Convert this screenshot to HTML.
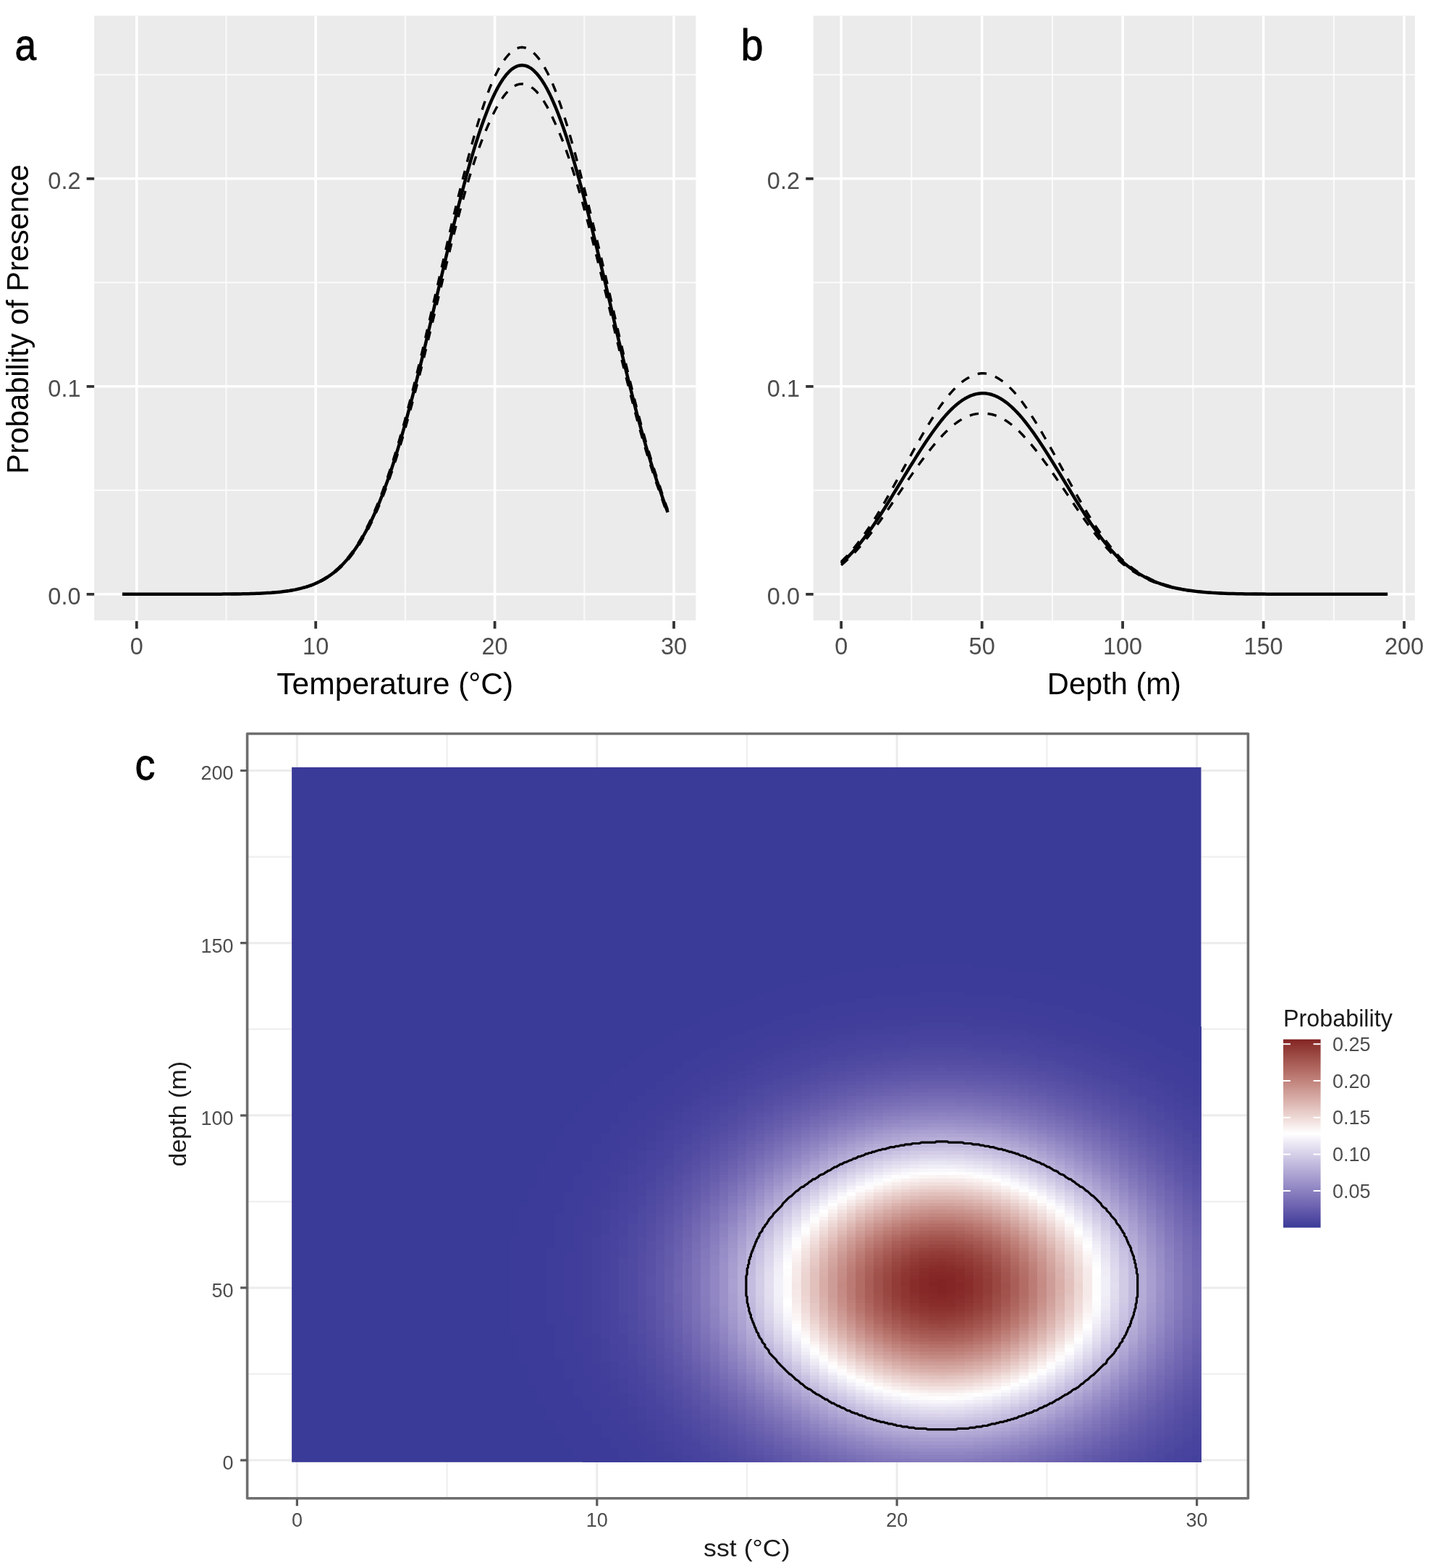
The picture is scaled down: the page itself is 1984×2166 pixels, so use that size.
<!DOCTYPE html>
<html lang="en"><head><meta charset="utf-8"><title>Figure</title>
<style>html,body{margin:0;padding:0;background:#fff}svg{display:block}</style></head>
<body>
<svg width="1984" height="2166" viewBox="0 0 1984 2166" role="img" aria-label="Probability of presence versus temperature and depth">
<rect width="1984" height="2166" fill="#fff"/>
<rect x="130.2" y="21.7" width="831.2" height="835.3" fill="#ebebeb"/>
<path d="M312.5 21.7V857.0M559.9 21.7V857.0M807.3 21.7V857.0M130.2 677.3H961.4M130.2 390.3H961.4M130.2 103.3H961.4" stroke="#fff" stroke-opacity=".8" stroke-width="1.9" fill="none"/>
<path d="M188.8 21.7V857.0M436.2 21.7V857.0M683.6 21.7V857.0M931 21.7V857.0M130.2 820.8H961.4M130.2 533.8H961.4M130.2 246.8H961.4" stroke="#fff" stroke-width="3.5" fill="none"/>
<path d="M188.8 858.0v10.5M436.2 858.0v10.5M683.6 858.0v10.5M931 858.0v10.5M130.2 820.8h-10.5M130.2 533.8h-10.5M130.2 246.8h-10.5" stroke="#333" stroke-width="3.8" fill="none"/>
<g font-family='"Liberation Sans", sans-serif' font-size="32.5" fill="#4d4d4d">
<text x="188.8" y="903.5" text-anchor="middle">0</text>
<text x="436.2" y="903.5" text-anchor="middle">10</text>
<text x="683.6" y="903.5" text-anchor="middle">20</text>
<text x="931" y="903.5" text-anchor="middle">30</text>
<text x="111.5" y="834.9" text-anchor="end">0.0</text>
<text x="111.5" y="547.9" text-anchor="end">0.1</text>
<text x="111.5" y="260.9" text-anchor="end">0.2</text>
</g>
<polyline points="169.0,820.8 172.8,820.8 176.6,820.8 180.4,820.8 184.2,820.8 187.9,820.8 191.7,820.8 195.5,820.8 199.3,820.8 203.1,820.8 206.9,820.8 210.7,820.8 214.5,820.8 218.2,820.8 222.0,820.8 225.8,820.8 229.6,820.8 233.4,820.8 237.2,820.8 241.0,820.8 244.7,820.8 248.5,820.8 252.3,820.8 256.1,820.8 259.9,820.8 263.7,820.8 267.5,820.8 271.3,820.8 275.0,820.8 278.8,820.8 282.6,820.7 286.4,820.7 290.2,820.7 294.0,820.7 297.8,820.7 301.5,820.7 305.3,820.7 309.1,820.6 312.9,820.6 316.7,820.6 320.5,820.5 324.3,820.5 328.1,820.4 331.8,820.4 335.6,820.3 339.4,820.2 343.2,820.2 347.0,820.1 350.8,819.9 354.6,819.8 358.3,819.6 362.1,819.5 365.9,819.3 369.7,819.1 373.5,818.8 377.3,818.5 381.1,818.2 384.9,817.8 388.6,817.4 392.4,816.9 396.2,816.4 400.0,815.8 403.8,815.2 407.6,814.4 411.4,813.6 415.2,812.7 418.9,811.7 422.7,810.5 426.5,809.3 430.3,807.9 434.1,806.4 437.9,804.7 441.7,802.8 445.4,800.8 449.2,798.5 453.0,796.1 456.8,793.4 460.6,790.5 464.4,787.3 468.2,783.9 472.0,780.1 475.7,776.1 479.5,771.7 483.3,767.0 487.1,761.9 490.9,756.4 494.7,750.6 498.5,744.3 502.2,737.6 506.0,730.5 509.8,723.0 513.6,714.9 517.4,706.5 521.2,697.5 525.0,688.1 528.8,678.1 532.5,667.7 536.3,656.8 540.1,645.4 543.9,633.6 547.7,621.3 551.5,608.5 555.3,595.2 559.1,581.6 562.8,567.5 566.6,553.1 570.4,538.3 574.2,523.2 578.0,507.7 581.8,492.0 585.6,476.1 589.3,460.0 593.1,443.7 596.9,427.3 600.7,410.8 604.5,394.3 608.3,377.8 612.1,361.3 615.9,345.0 619.6,328.7 623.4,312.6 627.2,296.6 631.0,280.8 634.8,265.4 638.6,250.2 642.4,235.5 646.1,220.9 649.9,206.7 653.7,193.0 657.5,179.8 661.3,167.1 665.1,154.9 668.9,143.3 672.7,132.3 676.4,122.1 680.2,113.1 684.0,104.9 687.8,97.4 691.6,90.7 695.4,84.7 699.2,79.5 703.0,75.1 706.7,71.5 710.5,68.8 714.3,66.8 718.1,65.6 721.9,65.3 725.7,66.0 729.5,67.4 733.2,69.7 737.0,72.7 740.8,76.6 744.6,81.2 748.4,86.6 752.2,92.8 756.0,99.7 759.8,107.3 763.5,115.7 767.3,125.0 771.1,135.4 774.9,146.4 778.7,158.0 782.5,170.1 786.3,182.8 790.0,195.9 793.8,209.4 797.6,223.5 801.4,237.7 805.2,252.2 809.0,267.1 812.8,282.2 816.6,297.6 820.3,313.3 824.1,328.9 827.9,344.7 831.7,360.6 835.5,376.6 839.3,393.0 843.1,409.6 846.9,426.2 850.6,442.7 854.4,459.1 858.2,475.4 862.0,491.4 865.8,507.3 869.6,522.9 873.4,538.4 877.1,553.5 880.9,568.2 884.7,582.6 888.5,596.5 892.3,610.1 896.1,623.1 899.9,635.7 903.7,647.9 907.4,659.5 911.2,670.6 915.0,682.4 918.8,693.8 922.6,704.5" fill="none" stroke="#000" stroke-width="3.4" stroke-linejoin="round" stroke-dasharray="12.5 12.5"/>
<polyline points="169.0,820.8 172.8,820.8 176.6,820.8 180.4,820.8 184.2,820.8 187.9,820.8 191.7,820.8 195.5,820.8 199.3,820.8 203.1,820.8 206.9,820.8 210.7,820.8 214.5,820.8 218.2,820.8 222.0,820.8 225.8,820.8 229.6,820.8 233.4,820.8 237.2,820.8 241.0,820.8 244.7,820.8 248.5,820.8 252.3,820.8 256.1,820.8 259.9,820.8 263.7,820.8 267.5,820.8 271.3,820.8 275.0,820.8 278.8,820.8 282.6,820.8 286.4,820.7 290.2,820.7 294.0,820.7 297.8,820.7 301.5,820.7 305.3,820.7 309.1,820.6 312.9,820.6 316.7,820.6 320.5,820.6 324.3,820.5 328.1,820.5 331.8,820.4 335.6,820.3 339.4,820.3 343.2,820.2 347.0,820.1 350.8,820.0 354.6,819.9 358.3,819.7 362.1,819.6 365.9,819.4 369.7,819.2 373.5,818.9 377.3,818.6 381.1,818.3 384.9,818.0 388.6,817.6 392.4,817.2 396.2,816.7 400.0,816.1 403.8,815.5 407.6,814.8 411.4,814.0 415.2,813.2 418.9,812.2 422.7,811.1 426.5,810.0 430.3,808.7 434.1,807.2 437.9,805.6 441.7,803.9 445.4,802.0 449.2,799.9 453.0,797.5 456.8,795.0 460.6,792.3 464.4,789.3 468.2,786.0 472.0,782.5 475.7,778.7 479.5,774.6 483.3,770.1 487.1,765.3 490.9,760.2 494.7,754.7 498.5,748.8 502.2,742.5 506.0,735.7 509.8,728.6 513.6,721.0 517.4,713.0 521.2,704.5 525.0,695.6 528.8,686.2 532.5,676.4 536.3,666.1 540.1,655.3 543.9,644.0 547.7,632.4 551.5,620.2 555.3,607.7 559.1,594.7 562.8,581.4 566.6,567.6 570.4,553.5 574.2,539.1 578.0,524.4 581.8,509.5 585.6,494.3 589.3,478.9 593.1,463.3 596.9,447.7 600.7,431.9 604.5,416.1 608.3,400.3 612.1,384.5 615.9,368.8 619.6,353.3 623.4,337.9 627.2,322.9 631.0,308.2 634.8,293.8 638.6,279.7 642.4,266.0 646.1,252.9 649.9,240.4 653.7,228.3 657.5,216.8 661.3,205.9 665.1,195.6 668.9,186.0 672.7,176.9 676.4,168.5 680.2,160.2 684.0,152.5 687.8,145.5 691.6,139.2 695.4,133.6 699.2,128.8 703.0,124.7 706.7,121.4 710.5,118.9 714.3,117.1 718.1,116.1 721.9,115.9 725.7,116.4 729.5,117.7 733.2,119.7 737.0,122.5 740.8,126.0 744.6,130.3 748.4,135.4 752.2,141.1 756.0,147.6 759.8,154.8 763.5,162.6 767.3,170.9 771.1,179.3 774.9,188.4 778.7,198.1 782.5,208.4 786.3,219.2 790.0,230.7 793.8,242.6 797.6,254.9 801.4,267.9 805.2,281.4 809.0,295.3 812.8,309.4 816.6,323.8 820.3,338.4 824.1,353.4 827.9,368.6 831.7,383.9 835.5,399.2 839.3,414.9 843.1,430.7 846.9,446.6 850.6,462.4 854.4,478.0 858.2,493.6 862.0,508.9 865.8,524.0 869.6,538.9 873.4,553.6 877.1,568.0 880.9,582.0 884.7,595.6 888.5,608.9 892.3,621.7 896.1,634.1 899.9,646.1 903.7,657.6 907.4,668.6 911.2,679.1 915.0,690.3 918.8,701.0 922.6,711.2" fill="none" stroke="#000" stroke-width="3.4" stroke-linejoin="round" stroke-dasharray="12.5 12.5"/>
<polyline points="169.0,820.8 172.8,820.8 176.6,820.8 180.4,820.8 184.2,820.8 187.9,820.8 191.7,820.8 195.5,820.8 199.3,820.8 203.1,820.8 206.9,820.8 210.7,820.8 214.5,820.8 218.2,820.8 222.0,820.8 225.8,820.8 229.6,820.8 233.4,820.8 237.2,820.8 241.0,820.8 244.7,820.8 248.5,820.8 252.3,820.8 256.1,820.8 259.9,820.8 263.7,820.8 267.5,820.8 271.3,820.8 275.0,820.8 278.8,820.8 282.6,820.8 286.4,820.7 290.2,820.7 294.0,820.7 297.8,820.7 301.5,820.7 305.3,820.7 309.1,820.6 312.9,820.6 316.7,820.6 320.5,820.5 324.3,820.5 328.1,820.5 331.8,820.4 335.6,820.3 339.4,820.3 343.2,820.2 347.0,820.1 350.8,820.0 354.6,819.8 358.3,819.7 362.1,819.5 365.9,819.3 369.7,819.1 373.5,818.9 377.3,818.6 381.1,818.3 384.9,817.9 388.6,817.5 392.4,817.0 396.2,816.5 400.0,816.0 403.8,815.3 407.6,814.6 411.4,813.8 415.2,812.9 418.9,811.9 422.7,810.8 426.5,809.6 430.3,808.3 434.1,806.8 437.9,805.1 441.7,803.3 445.4,801.4 449.2,799.2 453.0,796.8 456.8,794.2 460.6,791.4 464.4,788.3 468.2,784.9 472.0,781.3 475.7,777.3 479.5,773.1 483.3,768.5 487.1,763.6 490.9,758.3 494.7,752.6 498.5,746.5 502.2,740.0 506.0,733.1 509.8,725.7 513.6,717.9 517.4,709.7 521.2,701.0 525.0,691.8 528.8,682.1 532.5,672.0 536.3,661.4 540.1,650.3 543.9,638.7 547.7,626.7 551.5,614.2 555.3,601.3 559.1,588.0 562.8,574.3 566.6,560.2 570.4,545.8 574.2,531.0 578.0,515.9 581.8,500.6 585.6,485.0 589.3,469.2 593.1,453.3 596.9,437.3 600.7,421.1 604.5,405.0 608.3,388.8 612.1,372.7 615.9,356.6 619.6,340.7 623.4,325.0 627.2,309.5 631.0,294.2 634.8,279.3 638.6,264.6 642.4,250.4 646.1,236.6 649.9,223.2 653.7,210.3 657.5,197.9 661.3,186.1 665.1,174.8 668.9,164.2 672.7,154.2 676.4,144.8 680.2,136.2 684.0,128.2 687.8,120.9 691.6,114.4 695.4,108.6 699.2,103.6 703.0,99.4 706.7,95.9 710.5,93.3 714.3,91.4 718.1,90.4 721.9,90.1 725.7,90.7 729.5,92.0 733.2,94.1 737.0,97.1 740.8,100.8 744.6,105.3 748.4,110.5 752.2,116.5 756.0,123.2 759.8,130.6 763.5,138.7 767.3,147.5 771.1,156.9 774.9,167.0 778.7,177.6 782.5,188.8 786.3,200.6 790.0,212.9 793.8,225.6 797.6,238.9 801.4,252.5 805.2,266.5 809.0,280.8 812.8,295.5 816.6,310.4 820.3,325.6 824.1,340.9 827.9,356.4 831.7,372.0 835.5,387.7 839.3,403.7 843.1,419.9 846.9,436.2 850.6,452.3 854.4,468.4 858.2,484.3 862.0,500.0 865.8,515.5 869.6,530.8 873.4,545.8 877.1,560.6 880.9,575.0 884.7,589.0 888.5,602.6 892.3,615.8 896.1,628.5 899.9,640.8 903.7,652.6 907.4,664.0 911.2,674.8 915.0,686.3 918.8,697.3 922.6,707.8" fill="none" stroke="#000" stroke-width="4.5" stroke-linejoin="round"/>
<rect x="1123.8" y="21.7" width="831.0" height="835.3" fill="#ebebeb"/>
<path d="M1259.4 21.7V857.0M1453.9 21.7V857.0M1648.3 21.7V857.0M1842.8 21.7V857.0M1123.8 677.3H1954.8M1123.8 390.3H1954.8M1123.8 103.3H1954.8" stroke="#fff" stroke-opacity=".8" stroke-width="1.9" fill="none"/>
<path d="M1162.2 21.7V857.0M1356.7 21.7V857.0M1551.1 21.7V857.0M1745.6 21.7V857.0M1940 21.7V857.0M1123.8 820.8H1954.8M1123.8 533.8H1954.8M1123.8 246.8H1954.8" stroke="#fff" stroke-width="3.5" fill="none"/>
<path d="M1162.2 858.0v10.5M1356.7 858.0v10.5M1551.1 858.0v10.5M1745.6 858.0v10.5M1940 858.0v10.5M1123.8 820.8h-10.5M1123.8 533.8h-10.5M1123.8 246.8h-10.5" stroke="#333" stroke-width="3.8" fill="none"/>
<g font-family='"Liberation Sans", sans-serif' font-size="32.5" fill="#4d4d4d">
<text x="1162.2" y="903.5" text-anchor="middle">0</text>
<text x="1356.7" y="903.5" text-anchor="middle">50</text>
<text x="1551.1" y="903.5" text-anchor="middle">100</text>
<text x="1745.6" y="903.5" text-anchor="middle">150</text>
<text x="1940" y="903.5" text-anchor="middle">200</text>
<text x="1105" y="834.9" text-anchor="end">0.0</text>
<text x="1105" y="547.9" text-anchor="end">0.1</text>
<text x="1105" y="260.9" text-anchor="end">0.2</text>
</g>
<polyline points="1162.2,775.9 1166.0,772.3 1169.8,768.4 1173.6,764.2 1177.4,759.9 1181.2,755.4 1185.0,750.6 1188.8,745.6 1192.5,740.5 1196.3,735.1 1200.1,729.5 1203.9,723.8 1207.7,717.9 1211.5,711.8 1215.3,705.5 1219.1,699.1 1222.9,692.6 1226.7,685.9 1230.5,679.2 1234.3,672.3 1238.1,665.4 1241.9,658.7 1245.7,651.9 1249.4,645.1 1253.2,638.2 1257.0,631.4 1260.8,624.6 1264.6,617.8 1268.4,611.1 1272.2,604.4 1276.0,597.9 1279.8,591.4 1283.6,585.1 1287.4,579.0 1291.2,573.0 1295.0,567.2 1298.8,561.6 1302.5,556.4 1306.3,551.4 1310.1,546.7 1313.9,542.3 1317.7,538.2 1321.5,534.4 1325.3,530.9 1329.1,527.7 1332.9,524.9 1336.7,522.5 1340.5,520.4 1344.3,518.6 1348.1,517.3 1351.9,516.3 1355.7,515.7 1359.4,515.7 1363.2,516.2 1367.0,517.1 1370.8,518.4 1374.6,520.1 1378.4,522.2 1382.2,524.6 1386.0,527.3 1389.8,530.4 1393.6,533.9 1397.4,537.6 1401.2,541.7 1405.0,546.1 1408.8,550.8 1412.6,555.7 1416.3,560.9 1420.1,566.4 1423.9,572.2 1427.7,578.1 1431.5,584.2 1435.3,590.5 1439.1,596.9 1442.9,603.5 1446.7,610.1 1450.5,616.8 1454.3,623.6 1458.1,630.4 1461.9,637.3 1465.7,644.1 1469.5,651.0 1473.2,657.8 1477.0,664.5 1480.8,671.3 1484.6,678.2 1488.4,685.0 1492.2,691.6 1496.0,698.2 1499.8,704.6 1503.6,710.9 1507.4,717.0 1511.2,723.0 1515.0,728.7 1518.8,734.3 1522.6,739.7 1526.4,744.9 1530.1,749.9 1533.9,754.7 1537.7,759.3 1541.5,763.6 1545.3,767.8 1549.1,771.8 1552.9,775.4 1556.7,778.7 1560.5,781.7 1564.3,784.6 1568.1,787.3 1571.9,789.9 1575.7,792.3 1579.5,794.5 1583.2,796.7 1587.0,798.6 1590.8,800.5 1594.6,802.2 1598.4,803.8 1602.2,805.2 1606.0,806.6 1609.8,807.9 1613.6,809.0 1617.4,810.1 1621.2,811.1 1625.0,812.0 1628.8,812.8 1632.6,813.6 1636.4,814.3 1640.1,815.0 1643.9,815.5 1647.7,816.1 1651.5,816.6 1655.3,817.0 1659.1,817.4 1662.9,817.8 1666.7,818.1 1670.5,818.4 1674.3,818.7 1678.1,818.9 1681.9,819.1 1685.7,819.3 1689.5,819.5 1693.3,819.7 1697.0,819.8 1700.8,819.9 1704.6,820.0 1708.4,820.1 1712.2,820.2 1716.0,820.3 1719.8,820.4 1723.6,820.4 1727.4,820.5 1731.2,820.5 1735.0,820.5 1738.8,820.6 1742.6,820.6 1746.4,820.6 1750.2,820.7 1753.9,820.7 1757.7,820.7 1761.5,820.7 1765.3,820.7 1769.1,820.7 1772.9,820.7 1776.7,820.8 1780.5,820.8 1784.3,820.8 1788.1,820.8 1791.9,820.8 1795.7,820.8 1799.5,820.8 1803.3,820.8 1807.1,820.8 1810.8,820.8 1814.6,820.8 1818.4,820.8 1822.2,820.8 1826.0,820.8 1829.8,820.8 1833.6,820.8 1837.4,820.8 1841.2,820.8 1845.0,820.8 1848.8,820.8 1852.6,820.8 1856.4,820.8 1860.2,820.8 1863.9,820.8 1867.7,820.8 1871.5,820.8 1875.3,820.8 1879.1,820.8 1882.9,820.8 1886.7,820.8 1890.5,820.8 1894.3,820.8 1898.1,820.8 1901.9,820.8 1905.7,820.8 1909.5,820.8 1913.3,820.8 1917.1,820.8" fill="none" stroke="#000" stroke-width="3.4" stroke-linejoin="round" stroke-dasharray="12.5 12.5"/>
<polyline points="1162.2,780.6 1166.0,777.4 1169.8,774.0 1173.6,770.4 1177.4,766.7 1181.2,762.8 1185.0,758.7 1188.8,754.4 1192.5,750.0 1196.3,745.4 1200.1,740.7 1203.9,735.8 1207.7,730.8 1211.5,725.7 1215.3,720.4 1219.1,715.1 1222.9,709.6 1226.7,704.1 1230.5,698.5 1234.3,692.8 1238.1,687.2 1241.9,681.7 1245.7,676.1 1249.4,670.6 1253.2,665.1 1257.0,659.6 1260.8,654.1 1264.6,648.7 1268.4,643.4 1272.2,638.1 1276.0,633.0 1279.8,627.9 1283.6,623.0 1287.4,618.3 1291.2,613.7 1295.0,609.3 1298.8,605.1 1302.5,601.0 1306.3,597.1 1310.1,593.5 1313.9,590.0 1317.7,586.9 1321.5,584.0 1325.3,581.4 1329.1,579.0 1332.9,577.0 1336.7,575.2 1340.5,573.8 1344.3,572.7 1348.1,571.9 1351.9,571.4 1355.7,571.2 1359.4,571.2 1363.2,571.3 1367.0,571.8 1370.8,572.5 1374.6,573.6 1378.4,575.0 1382.2,576.7 1386.0,578.7 1389.8,581.0 1393.6,583.6 1397.4,586.5 1401.2,589.6 1405.0,593.0 1408.8,596.6 1412.6,600.5 1416.3,604.5 1420.1,608.7 1423.9,613.1 1427.7,617.6 1431.5,622.4 1435.3,627.2 1439.1,632.3 1442.9,637.4 1446.7,642.6 1450.5,647.9 1454.3,653.3 1458.1,658.8 1461.9,664.3 1465.7,669.8 1469.5,675.4 1473.2,680.9 1477.0,686.4 1480.8,692.0 1484.6,697.7 1488.4,703.3 1492.2,708.9 1496.0,714.3 1499.8,719.7 1503.6,725.0 1507.4,730.1 1511.2,735.1 1515.0,740.0 1518.8,744.8 1522.6,749.4 1526.4,753.8 1530.1,758.1 1533.9,762.2 1537.7,766.1 1541.5,769.9 1545.3,773.5 1549.1,776.9 1552.9,780.2 1556.7,783.1 1560.5,785.8 1564.3,788.4 1568.1,790.8 1571.9,793.1 1575.7,795.3 1579.5,797.3 1583.2,799.2 1587.0,800.9 1590.8,802.6 1594.6,804.1 1598.4,805.5 1602.2,806.9 1606.0,808.1 1609.8,809.2 1613.6,810.3 1617.4,811.2 1621.2,812.1 1625.0,812.9 1628.8,813.7 1632.6,814.4 1636.4,815.0 1640.1,815.6 1643.9,816.1 1647.7,816.6 1651.5,817.0 1655.3,817.4 1659.1,817.8 1662.9,818.1 1666.7,818.4 1670.5,818.7 1674.3,818.9 1678.1,819.1 1681.9,819.3 1685.7,819.5 1689.5,819.6 1693.3,819.8 1697.0,819.9 1700.8,820.0 1704.6,820.1 1708.4,820.2 1712.2,820.3 1716.0,820.3 1719.8,820.4 1723.6,820.5 1727.4,820.5 1731.2,820.5 1735.0,820.6 1738.8,820.6 1742.6,820.6 1746.4,820.7 1750.2,820.7 1753.9,820.7 1757.7,820.7 1761.5,820.7 1765.3,820.7 1769.1,820.7 1772.9,820.7 1776.7,820.8 1780.5,820.8 1784.3,820.8 1788.1,820.8 1791.9,820.8 1795.7,820.8 1799.5,820.8 1803.3,820.8 1807.1,820.8 1810.8,820.8 1814.6,820.8 1818.4,820.8 1822.2,820.8 1826.0,820.8 1829.8,820.8 1833.6,820.8 1837.4,820.8 1841.2,820.8 1845.0,820.8 1848.8,820.8 1852.6,820.8 1856.4,820.8 1860.2,820.8 1863.9,820.8 1867.7,820.8 1871.5,820.8 1875.3,820.8 1879.1,820.8 1882.9,820.8 1886.7,820.8 1890.5,820.8 1894.3,820.8 1898.1,820.8 1901.9,820.8 1905.7,820.8 1909.5,820.8 1913.3,820.8 1917.1,820.8" fill="none" stroke="#000" stroke-width="3.4" stroke-linejoin="round" stroke-dasharray="12.5 12.5"/>
<polyline points="1162.2,778.2 1166.0,774.8 1169.8,771.1 1173.6,767.3 1177.4,763.2 1181.2,759.0 1185.0,754.6 1188.8,749.9 1192.5,745.1 1196.3,740.2 1200.1,735.0 1203.9,729.7 1207.7,724.2 1211.5,718.6 1215.3,712.9 1219.1,707.0 1222.9,701.0 1226.7,694.9 1230.5,688.7 1234.3,682.4 1238.1,676.2 1241.9,670.0 1245.7,663.9 1249.4,657.7 1253.2,651.5 1257.0,645.3 1260.8,639.2 1264.6,633.1 1268.4,627.0 1272.2,621.1 1276.0,615.2 1279.8,609.5 1283.6,603.9 1287.4,598.5 1291.2,593.2 1295.0,588.1 1298.8,583.2 1302.5,578.5 1306.3,574.1 1310.1,569.9 1313.9,566.0 1317.7,562.4 1321.5,559.0 1325.3,556.0 1329.1,553.2 1332.9,550.8 1336.7,548.7 1340.5,546.9 1344.3,545.5 1348.1,544.4 1351.9,543.7 1355.7,543.3 1359.4,543.3 1363.2,543.6 1367.0,544.3 1370.8,545.3 1374.6,546.7 1378.4,548.4 1382.2,550.5 1386.0,552.9 1389.8,555.6 1393.6,558.6 1397.4,561.9 1401.2,565.5 1405.0,569.4 1408.8,573.5 1412.6,577.9 1416.3,582.5 1420.1,587.4 1423.9,592.5 1427.7,597.7 1431.5,603.1 1435.3,608.7 1439.1,614.4 1442.9,620.3 1446.7,626.2 1450.5,632.2 1454.3,638.3 1458.1,644.5 1461.9,650.6 1465.7,656.8 1469.5,663.0 1473.2,669.2 1477.0,675.3 1480.8,681.5 1484.6,687.8 1488.4,694.0 1492.2,700.1 1496.0,706.1 1499.8,712.0 1503.6,717.8 1507.4,723.5 1511.2,728.9 1515.0,734.3 1518.8,739.5 1522.6,744.5 1526.4,749.3 1530.1,753.9 1533.9,758.4 1537.7,762.6 1541.5,766.7 1545.3,770.6 1549.1,774.3 1552.9,777.7 1556.7,780.8 1560.5,783.7 1564.3,786.5 1568.1,789.0 1571.9,791.5 1575.7,793.8 1579.5,795.9 1583.2,797.9 1587.0,799.8 1590.8,801.5 1594.6,803.1 1598.4,804.6 1602.2,806.0 1606.0,807.3 1609.8,808.5 1613.6,809.6 1617.4,810.7 1621.2,811.6 1625.0,812.5 1628.8,813.3 1632.6,814.0 1636.4,814.6 1640.1,815.3 1643.9,815.8 1647.7,816.3 1651.5,816.8 1655.3,817.2 1659.1,817.6 1662.9,817.9 1666.7,818.3 1670.5,818.5 1674.3,818.8 1678.1,819.0 1681.9,819.2 1685.7,819.4 1689.5,819.6 1693.3,819.7 1697.0,819.9 1700.8,820.0 1704.6,820.1 1708.4,820.2 1712.2,820.2 1716.0,820.3 1719.8,820.4 1723.6,820.4 1727.4,820.5 1731.2,820.5 1735.0,820.6 1738.8,820.6 1742.6,820.6 1746.4,820.6 1750.2,820.7 1753.9,820.7 1757.7,820.7 1761.5,820.7 1765.3,820.7 1769.1,820.7 1772.9,820.7 1776.7,820.8 1780.5,820.8 1784.3,820.8 1788.1,820.8 1791.9,820.8 1795.7,820.8 1799.5,820.8 1803.3,820.8 1807.1,820.8 1810.8,820.8 1814.6,820.8 1818.4,820.8 1822.2,820.8 1826.0,820.8 1829.8,820.8 1833.6,820.8 1837.4,820.8 1841.2,820.8 1845.0,820.8 1848.8,820.8 1852.6,820.8 1856.4,820.8 1860.2,820.8 1863.9,820.8 1867.7,820.8 1871.5,820.8 1875.3,820.8 1879.1,820.8 1882.9,820.8 1886.7,820.8 1890.5,820.8 1894.3,820.8 1898.1,820.8 1901.9,820.8 1905.7,820.8 1909.5,820.8 1913.3,820.8 1917.1,820.8" fill="none" stroke="#000" stroke-width="4.5" stroke-linejoin="round"/>
<g font-family='"Liberation Sans", sans-serif' font-size="41.6" fill="#000">
<text x="545.8" y="958.5" text-anchor="middle" textLength="327" lengthAdjust="spacingAndGlyphs">Temperature (°C)</text>
<text x="1539.3" y="958.5" text-anchor="middle">Depth (m)</text>
<text transform="translate(39.2 440.9) rotate(-90)" text-anchor="middle">Probability of Presence</text>
</g>
<g font-family='"Liberation Sans", sans-serif' font-size="62" fill="#000" stroke="#000" stroke-width=".9" stroke-linejoin="round">
<text transform="translate(20.5 83) scale(.86 1)">a</text>
<text transform="translate(1023.5 83) scale(.9 1)">b</text>
<text transform="translate(186.5 1077) scale(.9 1)">c</text>
</g>
<rect x="341.6" y="1013.5" width="1382.8" height="1056.3" fill="#fff"/>
<path d="M617.6 1013.5V2069.8M1032 1013.5V2069.8M1446.4 1013.5V2069.8M341.6 1898H1724.4M341.6 1659.9H1724.4M341.6 1421.7H1724.4M341.6 1183.6H1724.4" stroke="#efefef" stroke-width="2.2" fill="none"/>
<path d="M410.4 1013.5V2069.8M824.8 1013.5V2069.8M1239.2 1013.5V2069.8M1653.6 1013.5V2069.8M341.6 2017.1H1724.4M341.6 1778.9H1724.4M341.6 1540.8H1724.4M341.6 1302.7H1724.4M341.6 1064.5H1724.4" stroke="#ececec" stroke-width="3" fill="none"/>
<rect x="403.1" y="1059.9" width="1256.4" height="959.9" fill="#3a3a98"/>
<g transform="translate(403.1 1059.9) scale(12.5640 4.7756)" shape-rendering="crispEdges">
<path fill="#3c3b99" d="M24 139h4v22h-4zM24 136h5v3h-5zM24 161h5v3h-5zM25 129h4v7h-4zM25 164h4v7h-4zM25 127h5v2h-5zM25 171h5v2h-5zM26 123h4v4h-4zM26 173h4v4h-4zM26 121h5v2h-5zM26 177h5v2h-5zM27 118h4v3h-4zM27 179h4v3h-4zM27 115h5v3h-5zM27 182h5v2h-5zM28 114h4v1h-4zM28 184h4v2h-4zM28 111h5v3h-5zM28 186h5v3h-5zM29 109h4v2h-4zM29 189h4v1h-4zM29 107h5v2h-5zM29 190h5v3h-5zM30 106h4v1h-4zM30 193h4v1h-4zM30 103h5v3h-5zM30 194h5v3h-5zM31 100h5v3h-5zM31 197h5v3h-5zM32 97h5v3h-5zM32 200h5v1h-5zM33 95h5v2h-5zM33 94h6v1h-6zM34 93h5v1h-5zM34 92h6v1h-6zM35 91h5v1h-5zM35 89h6v2h-6zM36 87h6v2h-6zM37 85h6v2h-6zM38 84h6v1h-6zM38 83h7v1h-7zM39 82h6v1h-6zM39 81h7v1h-7zM40 80h7v1h-7zM41 79h6v1h-6zM41 78h7v1h-7zM42 77h7v1h-7zM42 76h8v1h-8zM43 75h8v1h-8zM44 74h8v1h-8zM45 73h8v1h-8zM45 72h9v1h-9zM46 71h9v1h-9zM47 70h10v1h-10zM48 69h10v1h-10zM49 68h11v1h-11zM50 67h12v1h-12zM51 66h13v1h-13zM52 65h17v1h-17zM53 64h37v1h-37zM54 63h35v1h-35zM56 62h31v1h-31zM57 61h29v1h-29zM59 60h25v1h-25zM61 59h21v1h-21zM63 58h16v1h-16zM67 57h8v1h-8zM74 65h17v1h-17zM79 66h13v1h-13zM81 67h12v1h-12zM83 68h11v1h-11zM85 69h10v1h-10zM86 70h10v1h-10zM88 71h9v1h-9zM89 72h9v1h-9zM90 73h8v1h-8zM91 74h8v1h-8zM92 75h8v1h-8zM93 76h7v1h-7zM94 77h6v1h-6zM95 78h5v2h-5zM96 80h4v1h-4zM97 81h3v1h-3zM98 82h2v2h-2zM99 84h1v1h-1z"/>
<path fill="#3e3d9a" d="M28 140h2v19h-2zM28 139h3v1h-3zM28 159h3v2h-3zM29 130h2v9h-2zM29 161h2v8h-2zM29 129h3v1h-3zM29 169h3v2h-3zM30 124h2v5h-2zM30 171h2v5h-2zM30 123h3v1h-3zM30 176h3v1h-3zM31 119h2v4h-2zM31 177h2v4h-2zM31 118h3v1h-3zM31 181h3v1h-3zM32 115h2v3h-2zM32 182h2v3h-2zM32 114h3v1h-3zM32 185h3v1h-3zM33 111h2v3h-2zM33 186h2v3h-2zM33 109h3v2h-3zM33 189h3v1h-3zM34 107h2v2h-2zM34 190h2v2h-2zM34 106h3v1h-3zM34 192h3v2h-3zM35 104h2v2h-2zM35 194h2v1h-2zM35 103h3v1h-3zM35 195h3v2h-3zM36 102h2v1h-2zM36 197h2v1h-2zM36 100h3v2h-3zM36 198h3v2h-3zM37 99h2v1h-2zM37 200h2v1h-2zM37 97h3v2h-3zM38 95h3v2h-3zM39 93h3v2h-3zM40 91h3v2h-3zM41 89h3v2h-3zM42 87h3v2h-3zM43 86h3v1h-3zM43 85h4v1h-4zM44 84h3v1h-3zM45 83h3v1h-3zM45 82h4v1h-4zM46 81h4v1h-4zM47 79h4v2h-4zM48 78h4v1h-4zM49 77h4v1h-4zM50 76h5v1h-5zM51 75h5v1h-5zM52 74h5v1h-5zM53 73h5v1h-5zM54 72h6v1h-6zM55 71h7v1h-7zM57 70h8v1h-8zM58 69h12v1h-12zM60 68h23v1h-23zM62 67h19v1h-19zM64 66h15v1h-15zM69 65h5v1h-5zM73 69h12v1h-12zM78 70h8v1h-8zM81 71h7v1h-7zM83 72h6v1h-6zM84 73h6v1h-6zM86 74h5v1h-5zM87 75h5v1h-5zM88 76h5v1h-5zM89 77h5v1h-5zM90 78h5v1h-5zM91 79h4v1h-4zM92 80h4v1h-4zM93 81h4v1h-4zM94 82h4v1h-4zM95 83h3v1h-3zM95 84h4v1h-4zM96 85h4v1h-4zM97 86h3v1h-3zM98 87h2v2h-2zM99 89h1v2h-1z"/>
<path fill="#403e9a" d="M30 140h2v19h-2zM31 134h1v6h-1zM31 159h1v6h-1zM31 130h2v4h-2zM31 165h2v4h-2zM32 127h1v3h-1zM32 169h1v4h-1zM32 124h2v3h-2zM32 173h2v3h-2zM33 122h1v2h-1zM33 176h1v2h-1zM33 119h2v3h-2zM33 178h2v3h-2zM34 117h1v2h-1zM34 181h1v1h-1zM34 115h2v2h-2zM34 182h2v3h-2zM35 113h1v2h-1zM35 185h1v1h-1zM35 111h2v2h-2zM35 186h2v3h-2zM36 110h1v1h-1zM36 189h1v1h-1zM36 107h2v3h-2zM36 190h2v2h-2zM37 192h1v1h-1zM37 104h2v3h-2zM37 193h2v2h-2zM38 195h1v1h-1zM38 102h2v2h-2zM38 196h2v2h-2zM39 101h1v1h-1zM39 198h1v1h-1zM39 99h2v2h-2zM39 199h2v2h-2zM40 97h2v2h-2zM41 95h2v2h-2zM42 93h2v2h-2zM43 91h2v2h-2zM44 89h2v2h-2zM45 88h2v1h-2zM45 87h3v1h-3zM46 86h2v1h-2zM47 85h2v1h-2zM47 84h3v1h-3zM48 83h3v1h-3zM49 82h3v1h-3zM50 81h3v1h-3zM51 80h3v1h-3zM51 79h4v1h-4zM52 78h4v1h-4zM53 77h4v1h-4zM55 76h3v1h-3zM56 75h4v1h-4zM57 74h5v1h-5zM58 73h6v1h-6zM60 72h8v1h-8zM62 71h19v1h-19zM65 70h13v1h-13zM70 69h3v1h-3zM75 72h8v1h-8zM79 73h5v1h-5zM81 74h5v1h-5zM83 75h4v1h-4zM84 76h4v1h-4zM86 77h3v1h-3zM87 78h3v1h-3zM88 79h3v1h-3zM89 80h3v1h-3zM90 81h3v1h-3zM91 82h3v1h-3zM92 83h3v1h-3zM93 84h2v1h-2zM94 85h2v1h-2zM94 86h3v1h-3zM95 87h3v1h-3zM96 88h2v1h-2zM96 89h3v1h-3zM97 90h2v1h-2zM98 91h2v2h-2zM99 93h1v2h-1z"/>
<path fill="#423f9b" d="M32 136h1v28h-1zM32 134h2v2h-2zM32 164h2v1h-2zM33 128h1v6h-1zM33 165h1v7h-1zM33 127h2v1h-2zM33 172h2v1h-2zM34 123h1v4h-1zM34 173h1v4h-1zM34 122h2v1h-2zM34 177h2v1h-2zM35 118h1v4h-1zM35 178h1v3h-1zM35 117h2v1h-2zM35 181h2v1h-2zM36 114h1v3h-1zM36 182h1v3h-1zM36 113h2v1h-2zM36 185h2v1h-2zM37 111h1v2h-1zM37 186h1v3h-1zM37 110h2v1h-2zM37 189h2v1h-2zM38 108h1v2h-1zM38 190h1v2h-1zM38 107h2v1h-2zM38 192h2v1h-2zM39 105h1v2h-1zM39 193h1v2h-1zM39 104h2v1h-2zM39 195h2v1h-2zM40 102h1v2h-1zM40 196h1v2h-1zM40 101h2v1h-2zM40 198h2v1h-2zM41 100h1v1h-1zM41 199h1v1h-1zM41 99h2v1h-2zM41 200h2v1h-2zM42 98h1v1h-1zM42 97h2v1h-2zM43 96h1v1h-1zM43 95h2v1h-2zM44 94h1v1h-1zM44 93h2v1h-2zM45 92h1v1h-1zM45 91h2v1h-2zM46 89h2v2h-2zM47 88h2v1h-2zM48 86h2v2h-2zM49 85h2v1h-2zM50 84h2v1h-2zM51 83h2v1h-2zM52 82h2v1h-2zM53 81h2v1h-2zM54 80h2v1h-2zM55 79h2v1h-2zM56 78h3v1h-3zM57 77h3v1h-3zM58 76h4v1h-4zM60 75h5v1h-5zM62 74h7v1h-7zM64 73h15v1h-15zM68 72h7v1h-7zM74 74h7v1h-7zM78 75h5v1h-5zM81 76h3v1h-3zM82 77h4v1h-4zM84 78h3v1h-3zM85 79h3v1h-3zM87 80h2v1h-2zM88 81h2v1h-2zM89 82h2v1h-2zM90 83h2v1h-2zM91 84h2v1h-2zM92 85h2v2h-2zM93 87h2v1h-2zM94 88h2v1h-2zM95 89h1v1h-1zM95 90h2v1h-2zM96 91h2v1h-2zM97 92h1v1h-1zM97 93h2v1h-2zM98 94h1v1h-1zM98 95h2v1h-2zM99 96h1v2h-1z"/>
<path fill="#44419c" d="M33 136h1v28h-1zM34 128h1v7h-1zM34 165h1v7h-1zM35 123h1v5h-1zM35 172h1v5h-1zM36 118h1v5h-1zM36 177h1v4h-1zM37 115h1v3h-1zM37 181h1v4h-1zM37 114h2v1h-2zM38 111h1v3h-1zM38 185h1v4h-1zM39 108h1v3h-1zM39 189h1v3h-1zM40 105h1v3h-1zM40 192h1v3h-1zM41 103h1v2h-1zM41 195h1v2h-1zM41 102h2v1h-2zM41 197h2v1h-2zM42 100h1v2h-1zM42 198h1v1h-1zM42 199h2v1h-2zM43 98h1v2h-1zM43 200h1v1h-1zM44 96h1v2h-1zM45 95h1v1h-1zM45 94h2v1h-2zM46 93h1v1h-1zM46 92h2v1h-2zM47 91h1v1h-1zM48 90h1v1h-1zM48 89h2v1h-2zM49 88h2v1h-2zM50 87h1v1h-1zM50 86h2v1h-2zM51 85h2v1h-2zM52 84h2v1h-2zM53 83h2v1h-2zM54 82h2v1h-2zM55 81h2v1h-2zM56 80h3v1h-3zM57 79h3v1h-3zM59 78h3v1h-3zM60 77h4v1h-4zM62 76h6v1h-6zM65 75h13v1h-13zM69 74h5v1h-5zM75 76h6v1h-6zM79 77h3v1h-3zM81 78h3v1h-3zM83 79h2v1h-2zM84 80h3v1h-3zM86 81h2v1h-2zM87 82h2v1h-2zM88 83h2v1h-2zM89 84h2v1h-2zM90 85h2v1h-2zM91 86h1v1h-1zM92 87h1v1h-1zM92 88h2v1h-2zM93 89h2v1h-2zM94 90h1v1h-1zM95 91h1v1h-1zM95 92h2v1h-2zM96 93h1v1h-1zM96 94h2v1h-2zM97 95h1v1h-1zM97 96h2v1h-2zM98 97h1v1h-1zM98 98h2v1h-2zM99 99h1v2h-1zM99 199h1v2h-1z"/>
<path fill="#46429d" d="M34 135h1v11h-1zM34 154h1v11h-1zM35 128h1v5h-1zM35 167h1v5h-1zM36 123h1v4h-1zM36 173h1v4h-1zM37 118h1v4h-1zM37 178h1v3h-1zM38 115h1v3h-1zM38 182h1v3h-1zM39 111h1v3h-1zM39 186h1v3h-1zM40 108h1v3h-1zM40 189h1v3h-1zM41 105h1v3h-1zM41 192h1v3h-1zM42 103h1v2h-1zM42 195h1v2h-1zM43 101h1v2h-1zM43 197h1v2h-1zM43 100h2v1h-2zM44 99h1v1h-1zM44 199h1v2h-1zM44 98h2v1h-2zM45 97h1v1h-1zM45 96h2v1h-2zM46 95h1v1h-1zM47 93h1v2h-1zM48 92h1v1h-1zM48 91h2v1h-2zM49 90h1v1h-1zM50 89h1v1h-1zM51 88h1v1h-1zM51 87h2v1h-2zM52 86h2v1h-2zM53 85h2v1h-2zM54 84h2v1h-2zM55 83h2v1h-2zM56 82h2v1h-2zM57 81h3v1h-3zM59 80h2v1h-2zM60 79h3v1h-3zM62 78h4v1h-4zM64 77h15v1h-15zM68 76h7v1h-7zM77 78h4v1h-4zM80 79h3v1h-3zM82 80h2v1h-2zM83 81h3v1h-3zM85 82h2v1h-2zM86 83h2v1h-2zM87 84h2v1h-2zM88 85h2v1h-2zM89 86h2v1h-2zM90 87h2v1h-2zM91 88h1v1h-1zM92 89h1v1h-1zM93 90h1v1h-1zM93 91h2v1h-2zM94 92h1v1h-1zM95 93h1v2h-1zM96 95h1v2h-1zM97 97h1v2h-1zM98 99h1v2h-1zM98 199h1v2h-1zM99 101h1v2h-1zM99 197h1v2h-1z"/>
<path fill="#47439e" d="M34 146h1v8h-1zM35 133h1v7h-1zM35 160h1v7h-1zM36 127h1v4h-1zM36 169h1v4h-1zM37 122h1v3h-1zM37 174h1v4h-1zM38 118h1v3h-1zM38 179h1v3h-1zM39 114h1v3h-1zM39 183h1v3h-1zM40 111h1v2h-1zM40 186h1v3h-1zM41 108h1v2h-1zM41 190h1v2h-1zM42 105h1v2h-1zM42 192h1v3h-1zM43 103h1v2h-1zM43 195h1v2h-1zM44 101h1v2h-1zM44 197h1v2h-1zM45 99h1v1h-1zM45 199h1v2h-1zM46 97h1v1h-1zM47 95h1v2h-1zM48 93h1v2h-1zM49 92h1v1h-1zM50 91h1v1h-1zM50 90h2v1h-2zM51 89h1v1h-1zM52 88h1v1h-1zM53 87h1v1h-1zM54 86h1v1h-1zM55 85h1v1h-1zM56 84h1v1h-1zM57 83h2v1h-2zM58 82h2v1h-2zM60 81h2v1h-2zM61 80h3v1h-3zM63 79h4v1h-4zM66 78h11v1h-11zM76 79h4v1h-4zM79 80h3v1h-3zM81 81h2v1h-2zM83 82h2v1h-2zM84 83h2v1h-2zM85 84h2v1h-2zM87 85h1v1h-1zM88 86h1v1h-1zM89 87h1v1h-1zM90 88h1v1h-1zM90 89h2v1h-2zM91 90h2v1h-2zM92 91h1v1h-1zM93 92h1v1h-1zM93 93h2v1h-2zM94 94h1v1h-1zM95 95h1v2h-1zM96 97h1v2h-1zM97 99h1v2h-1zM97 199h1v2h-1zM98 101h1v2h-1zM98 197h1v2h-1zM99 103h1v2h-1zM99 195h1v2h-1z"/>
<path fill="#49459e" d="M35 140h1v20h-1zM36 131h1v5h-1zM36 164h1v5h-1zM37 125h1v4h-1zM37 171h1v3h-1zM38 121h1v3h-1zM38 176h1v3h-1zM39 117h1v3h-1zM39 180h1v3h-1zM40 113h1v3h-1zM40 184h1v2h-1zM41 110h1v3h-1zM41 187h1v3h-1zM42 107h1v2h-1zM42 190h1v2h-1zM43 105h1v2h-1zM43 193h1v2h-1zM44 103h1v1h-1zM44 195h1v2h-1zM45 100h1v2h-1zM45 198h1v1h-1zM46 98h1v2h-1zM46 200h1v1h-1zM47 97h1v1h-1zM48 95h1v2h-1zM49 93h1v2h-1zM50 92h1v1h-1zM51 91h1v1h-1zM52 90h1v1h-1zM52 89h2v1h-2zM53 88h2v1h-2zM54 87h2v1h-2zM55 86h2v1h-2zM56 85h2v1h-2zM57 84h2v1h-2zM59 83h2v1h-2zM60 82h2v1h-2zM62 81h3v1h-3zM64 80h4v1h-4zM67 79h9v1h-9zM75 80h4v1h-4zM78 81h3v1h-3zM81 82h2v1h-2zM82 83h2v1h-2zM84 84h1v1h-1zM85 85h2v1h-2zM86 86h2v1h-2zM87 87h2v1h-2zM88 88h2v1h-2zM89 89h1v1h-1zM90 90h1v1h-1zM91 91h1v1h-1zM92 92h1v2h-1zM93 94h1v1h-1zM94 95h1v2h-1zM95 97h1v1h-1zM96 99h1v1h-1zM96 199h1v2h-1zM97 101h1v1h-1zM97 197h1v2h-1zM98 103h1v2h-1zM98 195h1v2h-1zM99 105h1v2h-1zM99 193h1v2h-1z"/>
<path fill="#4b469f" d="M36 136h1v6h-1zM36 158h1v6h-1zM37 129h1v3h-1zM37 167h1v4h-1zM38 124h1v3h-1zM38 173h1v3h-1zM39 120h1v2h-1zM39 178h1v2h-1zM40 116h1v2h-1zM40 182h1v2h-1zM41 113h1v2h-1zM41 185h1v2h-1zM42 109h1v2h-1zM42 188h1v2h-1zM43 107h1v2h-1zM43 191h1v2h-1zM44 104h1v2h-1zM44 194h1v1h-1zM45 102h1v2h-1zM45 196h1v2h-1zM46 100h1v2h-1zM46 198h1v2h-1zM47 98h1v2h-1zM47 200h1v1h-1zM48 97h1v1h-1zM49 95h1v1h-1zM50 93h1v2h-1zM51 92h1v1h-1zM52 91h1v1h-1zM53 90h1v1h-1zM54 89h1v1h-1zM55 88h1v1h-1zM56 87h1v1h-1zM57 86h1v1h-1zM58 85h1v1h-1zM59 84h2v1h-2zM61 83h2v1h-2zM62 82h3v1h-3zM65 81h4v1h-4zM68 80h7v1h-7zM74 81h4v1h-4zM78 82h3v1h-3zM80 83h2v1h-2zM82 84h2v1h-2zM84 85h1v1h-1zM85 86h1v1h-1zM86 87h1v1h-1zM87 88h1v1h-1zM88 89h1v1h-1zM89 90h1v1h-1zM90 91h1v1h-1zM91 92h1v1h-1zM92 94h1v1h-1zM93 95h1v1h-1zM94 97h1v1h-1zM95 98h1v2h-1zM95 200h1v1h-1zM96 100h1v2h-1zM96 198h1v1h-1zM97 102h1v2h-1zM97 196h1v1h-1zM98 105h1v1h-1zM98 194h1v1h-1zM99 107h1v2h-1zM99 191h1v2h-1z"/>
<path fill="#4d48a0" d="M36 142h1v16h-1zM37 132h1v5h-1zM37 163h1v4h-1zM38 127h1v2h-1zM38 170h1v3h-1zM39 122h1v2h-1zM39 175h1v3h-1zM40 118h1v2h-1zM40 180h1v2h-1zM41 115h1v2h-1zM41 183h1v2h-1zM42 111h1v2h-1zM42 186h1v2h-1zM43 109h1v1h-1zM43 189h1v2h-1zM44 106h1v2h-1zM44 192h1v2h-1zM45 104h1v1h-1zM45 195h1v1h-1zM46 102h1v1h-1zM46 197h1v1h-1zM47 100h1v1h-1zM47 199h1v1h-1zM48 98h1v1h-1zM49 96h1v2h-1zM50 95h1v1h-1zM51 93h1v2h-1zM52 92h1v1h-1zM53 91h1v1h-1zM54 90h1v1h-1zM55 89h1v1h-1zM56 88h1v1h-1zM57 87h1v1h-1zM58 86h1v1h-1zM59 85h2v1h-2zM61 84h2v1h-2zM63 83h2v1h-2zM65 82h3v1h-3zM69 81h5v1h-5zM75 82h3v1h-3zM78 83h2v1h-2zM80 84h2v1h-2zM82 85h2v1h-2zM84 86h1v1h-1zM85 87h1v1h-1zM86 88h1v1h-1zM87 89h1v1h-1zM88 90h1v1h-1zM89 91h1v1h-1zM90 92h1v1h-1zM91 93h1v2h-1zM92 95h1v1h-1zM93 96h1v2h-1zM94 98h1v1h-1zM94 200h1v1h-1zM95 100h1v1h-1zM95 198h1v2h-1zM96 102h1v1h-1zM96 196h1v2h-1zM97 104h1v2h-1zM97 194h1v2h-1zM98 106h1v2h-1zM98 192h1v2h-1zM99 109h1v2h-1zM99 189h1v2h-1z"/>
<path fill="#4e49a1" d="M37 137h1v5h-1zM37 158h1v5h-1zM38 129h1v3h-1zM38 167h1v3h-1zM39 124h1v3h-1zM39 173h1v2h-1zM40 120h1v2h-1zM40 178h1v2h-1zM41 117h1v2h-1zM41 181h1v2h-1zM42 113h1v2h-1zM42 185h1v1h-1zM43 110h1v2h-1zM43 188h1v1h-1zM44 108h1v1h-1zM44 191h1v1h-1zM45 105h1v2h-1zM45 193h1v2h-1zM46 103h1v1h-1zM46 195h1v2h-1zM47 101h1v1h-1zM47 197h1v2h-1zM48 99h1v2h-1zM48 199h1v2h-1zM49 98h1v1h-1zM50 96h1v1h-1zM51 95h1v1h-1zM52 93h1v1h-1zM53 92h1v1h-1zM54 91h1v1h-1zM55 90h1v1h-1zM56 89h1v1h-1zM57 88h1v1h-1zM58 87h1v1h-1zM59 86h2v1h-2zM61 85h1v1h-1zM63 84h2v1h-2zM65 83h3v1h-3zM68 82h7v1h-7zM75 83h3v1h-3zM78 84h2v1h-2zM80 85h2v1h-2zM82 86h2v1h-2zM84 87h1v1h-1zM85 88h1v1h-1zM86 89h1v1h-1zM87 90h1v1h-1zM88 91h1v1h-1zM89 92h1v1h-1zM90 93h1v1h-1zM91 95h1v1h-1zM92 96h1v1h-1zM93 98h1v1h-1zM94 99h1v2h-1zM94 199h1v1h-1zM95 101h1v2h-1zM95 197h1v1h-1zM96 103h1v2h-1zM96 195h1v1h-1zM97 106h1v1h-1zM97 193h1v1h-1zM98 108h1v1h-1zM98 190h1v2h-1zM99 111h1v1h-1zM99 187h1v2h-1z"/>
<path fill="#504aa2" d="M37 142h1v16h-1zM38 132h1v4h-1zM38 164h1v3h-1zM39 127h1v2h-1zM39 171h1v2h-1zM40 122h1v2h-1zM40 176h1v2h-1zM41 119h1v1h-1zM41 180h1v1h-1zM42 115h1v2h-1zM42 183h1v2h-1zM43 112h1v2h-1zM43 186h1v2h-1zM44 109h1v2h-1zM44 189h1v2h-1zM45 107h1v1h-1zM45 192h1v1h-1zM46 104h1v2h-1zM46 194h1v1h-1zM47 102h1v2h-1zM47 196h1v1h-1zM48 101h1v1h-1zM48 198h1v1h-1zM49 99h1v1h-1zM49 200h1v1h-1zM50 97h1v1h-1zM51 96h1v1h-1zM52 94h1v1h-1zM53 93h1v1h-1zM54 92h1v1h-1zM55 91h1v1h-1zM56 90h1v1h-1zM57 89h1v1h-1zM58 88h1v1h-1zM59 87h2v1h-2zM61 86h1v1h-1zM62 85h2v1h-2zM65 84h2v1h-2zM68 83h7v1h-7zM76 84h2v1h-2zM79 85h1v1h-1zM81 86h1v1h-1zM82 87h2v1h-2zM84 88h1v1h-1zM85 89h1v1h-1zM86 90h1v1h-1zM87 91h1v1h-1zM88 92h1v1h-1zM89 93h1v1h-1zM90 94h1v1h-1zM91 96h1v1h-1zM92 97h1v1h-1zM93 99h1v1h-1zM93 200h1v1h-1zM94 101h1v1h-1zM94 198h1v1h-1zM95 103h1v1h-1zM95 196h1v1h-1zM96 105h1v1h-1zM96 194h1v1h-1zM97 107h1v1h-1zM97 192h1v1h-1zM98 109h1v2h-1zM98 189h1v1h-1zM99 112h1v2h-1zM99 186h1v1h-1z"/>
<path fill="#524ca3" d="M38 136h1v4h-1zM38 160h1v4h-1zM39 129h1v3h-1zM39 168h1v3h-1zM40 124h1v2h-1zM40 174h1v2h-1zM41 120h1v2h-1zM41 178h1v2h-1zM42 117h1v1h-1zM42 181h1v2h-1zM43 114h1v1h-1zM43 185h1v1h-1zM44 111h1v1h-1zM44 188h1v1h-1zM45 108h1v1h-1zM45 190h1v2h-1zM46 106h1v1h-1zM46 193h1v1h-1zM47 104h1v1h-1zM47 195h1v1h-1zM48 102h1v1h-1zM48 197h1v1h-1zM49 100h1v1h-1zM49 199h1v1h-1zM50 98h1v1h-1zM50 200h1v1h-1zM51 97h1v1h-1zM52 95h1v1h-1zM53 94h1v1h-1zM54 93h1v1h-1zM55 92h1v1h-1zM56 91h1v1h-1zM57 90h1v1h-1zM58 89h1v1h-1zM59 88h1v1h-1zM61 87h1v1h-1zM62 86h2v1h-2zM64 85h2v1h-2zM67 84h9v1h-9zM76 85h3v1h-3zM79 86h2v1h-2zM81 87h1v1h-1zM83 88h1v1h-1zM84 89h1v1h-1zM85 90h1v1h-1zM86 91h1v1h-1zM87 92h1v1h-1zM88 93h1v1h-1zM89 94h1v1h-1zM90 95h1v1h-1zM91 97h1v1h-1zM92 98h1v1h-1zM92 200h1v1h-1zM93 100h1v1h-1zM93 199h1v1h-1zM94 102h1v1h-1zM94 197h1v1h-1zM95 104h1v1h-1zM95 195h1v1h-1zM96 106h1v1h-1zM96 193h1v1h-1zM97 108h1v2h-1zM97 190h1v2h-1zM98 111h1v1h-1zM98 187h1v2h-1zM99 114h1v1h-1zM99 184h1v2h-1z"/>
<path fill="#544da3" d="M38 140h1v6h-1zM38 154h1v6h-1zM39 132h1v2h-1zM39 166h1v2h-1zM40 126h1v2h-1zM40 172h1v2h-1zM41 122h1v2h-1zM41 176h1v2h-1zM42 118h1v2h-1zM42 180h1v1h-1zM43 115h1v2h-1zM43 183h1v2h-1zM44 112h1v1h-1zM44 186h1v2h-1zM45 109h1v2h-1zM45 189h1v1h-1zM46 107h1v1h-1zM46 192h1v1h-1zM47 105h1v1h-1zM47 194h1v1h-1zM48 103h1v1h-1zM48 196h1v1h-1zM49 101h1v1h-1zM49 198h1v1h-1zM50 99h1v1h-1zM51 98h1v1h-1zM52 96h1v1h-1zM53 95h1v1h-1zM54 94h1v1h-1zM55 93h1v1h-1zM57 91h1v1h-1zM58 90h1v1h-1zM59 89h1v1h-1zM60 88h1v1h-1zM62 87h1v1h-1zM64 86h2v1h-2zM66 85h5v1h-5zM72 85h4v1h-4zM77 86h2v1h-2zM80 87h1v1h-1zM81 88h2v1h-2zM83 89h1v1h-1zM84 90h1v1h-1zM85 91h1v1h-1zM86 92h1v1h-1zM87 93h1v1h-1zM88 94h1v1h-1zM89 95h1v1h-1zM90 96h1v1h-1zM91 98h1v1h-1zM92 99h1v1h-1zM92 199h1v1h-1zM93 101h1v1h-1zM93 198h1v1h-1zM94 103h1v1h-1zM94 196h1v1h-1zM95 105h1v1h-1zM95 194h1v1h-1zM96 107h1v1h-1zM96 192h1v1h-1zM97 110h1v1h-1zM97 189h1v1h-1zM98 112h1v2h-1zM98 186h1v1h-1zM99 115h1v2h-1zM99 183h1v1h-1z"/>
<path fill="#554ea4" d="M38 146h1v8h-1zM39 134h1v3h-1zM39 163h1v3h-1zM40 128h1v2h-1zM40 170h1v2h-1zM41 124h1v1h-1zM41 175h1v1h-1zM42 120h1v1h-1zM42 179h1v1h-1zM43 117h1v1h-1zM43 182h1v1h-1zM44 113h1v2h-1zM44 185h1v1h-1zM45 111h1v1h-1zM45 188h1v1h-1zM46 108h1v1h-1zM46 191h1v1h-1zM47 106h1v1h-1zM47 193h1v1h-1zM48 104h1v1h-1zM48 195h1v1h-1zM49 102h1v1h-1zM49 197h1v1h-1zM50 100h1v1h-1zM50 199h1v1h-1zM51 99h1v1h-1zM51 200h1v1h-1zM52 97h1v1h-1zM53 96h1v1h-1zM56 92h1v1h-1zM59 90h1v1h-1zM60 89h1v1h-1zM61 88h2v1h-2zM63 87h2v1h-2zM66 86h2v1h-2zM71 85h1v1h-1zM75 86h2v1h-2zM78 87h2v1h-2zM80 88h1v1h-1zM82 89h1v1h-1zM83 90h1v1h-1zM88 95h1v1h-1zM89 96h1v1h-1zM90 97h1v1h-1zM91 99h1v1h-1zM91 200h1v1h-1zM92 100h1v1h-1zM92 198h1v1h-1zM93 102h1v1h-1zM93 197h1v1h-1zM94 104h1v1h-1zM94 195h1v1h-1zM95 106h1v1h-1zM95 193h1v1h-1zM96 108h1v1h-1zM96 190h1v2h-1zM97 111h1v1h-1zM97 188h1v1h-1zM98 114h1v1h-1zM98 185h1v1h-1zM99 117h1v1h-1zM99 182h1v1h-1z"/>
<path fill="#5750a5" d="M39 137h1v4h-1zM39 159h1v4h-1zM40 130h1v2h-1zM40 167h1v3h-1zM41 125h1v2h-1zM41 173h1v2h-1zM42 121h1v2h-1zM42 177h1v2h-1zM43 118h1v1h-1zM43 181h1v1h-1zM44 115h1v1h-1zM44 184h1v1h-1zM45 112h1v1h-1zM45 187h1v1h-1zM46 109h1v1h-1zM46 189h1v2h-1zM47 107h1v1h-1zM47 192h1v1h-1zM48 105h1v1h-1zM48 194h1v1h-1zM49 103h1v1h-1zM49 196h1v1h-1zM50 101h1v1h-1zM50 198h1v1h-1zM51 199h1v1h-1zM52 98h1v1h-1zM53 97h1v1h-1zM54 95h1v1h-1zM55 94h1v1h-1zM56 93h1v1h-1zM57 92h1v1h-1zM58 91h1v1h-1zM60 90h1v1h-1zM61 89h1v1h-1zM63 88h1v1h-1zM65 87h2v1h-2zM68 86h7v1h-7zM76 87h2v1h-2zM79 88h1v1h-1zM81 89h1v1h-1zM82 90h1v1h-1zM84 91h1v1h-1zM85 92h1v1h-1zM86 93h1v1h-1zM87 94h1v1h-1zM89 97h1v1h-1zM90 98h1v1h-1zM91 100h1v1h-1zM91 199h1v1h-1zM92 101h1v1h-1zM93 103h1v1h-1zM93 196h1v1h-1zM94 105h1v1h-1zM94 194h1v1h-1zM95 107h1v1h-1zM95 192h1v1h-1zM96 109h1v2h-1zM96 189h1v1h-1zM97 112h1v1h-1zM97 186h1v2h-1zM98 115h1v1h-1zM98 184h1v1h-1zM99 118h1v1h-1zM99 180h1v2h-1z"/>
<path fill="#5951a6" d="M39 141h1v6h-1zM39 153h1v6h-1zM40 132h1v3h-1zM40 165h1v2h-1zM41 127h1v2h-1zM41 171h1v2h-1zM42 123h1v1h-1zM42 176h1v1h-1zM43 119h1v1h-1zM43 179h1v2h-1zM44 116h1v1h-1zM44 183h1v1h-1zM45 113h1v1h-1zM45 186h1v1h-1zM46 110h1v1h-1zM46 188h1v1h-1zM47 108h1v1h-1zM47 191h1v1h-1zM48 106h1v1h-1zM48 193h1v1h-1zM49 104h1v1h-1zM49 195h1v1h-1zM50 102h1v1h-1zM50 197h1v1h-1zM51 100h1v1h-1zM52 99h1v1h-1zM52 200h1v1h-1zM54 96h1v1h-1zM55 95h1v1h-1zM56 94h1v1h-1zM57 93h1v1h-1zM58 92h1v1h-1zM59 91h1v1h-1zM61 90h1v1h-1zM62 89h1v1h-1zM64 88h2v1h-2zM67 87h4v1h-4zM72 87h4v1h-4zM77 88h2v1h-2zM80 89h1v1h-1zM81 90h1v1h-1zM83 91h1v1h-1zM84 92h1v1h-1zM85 93h1v1h-1zM86 94h1v1h-1zM87 95h1v1h-1zM88 96h1v1h-1zM90 99h1v1h-1zM90 200h1v1h-1zM91 198h1v1h-1zM92 102h1v1h-1zM92 197h1v1h-1zM93 104h1v1h-1zM93 195h1v1h-1zM94 106h1v1h-1zM94 193h1v1h-1zM95 108h1v1h-1zM95 191h1v1h-1zM96 111h1v1h-1zM96 188h1v1h-1zM97 113h1v1h-1zM97 185h1v1h-1zM98 116h1v1h-1zM98 182h1v2h-1zM99 119h1v2h-1zM99 179h1v1h-1z"/>
<path fill="#5a53a7" d="M39 147h1v6h-1zM40 135h1v2h-1zM40 163h1v2h-1zM41 129h1v1h-1zM41 169h1v2h-1zM42 124h1v2h-1zM42 174h1v2h-1zM43 120h1v2h-1zM43 178h1v1h-1zM44 117h1v1h-1zM44 182h1v1h-1zM45 114h1v1h-1zM45 185h1v1h-1zM46 111h1v1h-1zM46 187h1v1h-1zM47 109h1v1h-1zM47 190h1v1h-1zM48 107h1v1h-1zM48 192h1v1h-1zM49 105h1v1h-1zM49 194h1v1h-1zM50 103h1v1h-1zM50 196h1v1h-1zM51 101h1v1h-1zM51 198h1v1h-1zM52 100h1v1h-1zM52 199h1v1h-1zM53 98h1v1h-1zM54 97h1v1h-1zM55 96h1v1h-1zM59 92h1v1h-1zM60 91h1v1h-1zM62 90h1v1h-1zM63 89h2v1h-2zM66 88h2v1h-2zM71 87h1v1h-1zM75 88h2v1h-2zM78 89h2v1h-2zM80 90h1v1h-1zM82 91h1v1h-1zM83 92h1v1h-1zM84 93h1v1h-1zM86 95h1v1h-1zM87 96h1v1h-1zM88 97h1v1h-1zM89 98h1v1h-1zM90 100h1v1h-1zM90 199h1v1h-1zM91 101h1v1h-1zM92 103h1v1h-1zM92 196h1v1h-1zM93 105h1v1h-1zM93 194h1v1h-1zM94 107h1v1h-1zM94 192h1v1h-1zM95 109h1v1h-1zM95 190h1v1h-1zM96 112h1v1h-1zM96 187h1v1h-1zM97 114h1v2h-1zM97 184h1v1h-1zM98 117h1v2h-1zM98 181h1v1h-1zM99 121h1v1h-1zM99 178h1v1h-1z"/>
<path fill="#5c54a7" d="M40 137h1v3h-1zM40 160h1v3h-1zM41 130h1v2h-1zM41 168h1v1h-1zM42 126h1v1h-1zM42 173h1v1h-1zM43 122h1v1h-1zM43 177h1v1h-1zM44 118h1v1h-1zM44 180h1v2h-1zM45 115h1v1h-1zM45 183h1v2h-1zM46 112h1v1h-1zM46 186h1v1h-1zM47 110h1v1h-1zM47 189h1v1h-1zM48 191h1v1h-1zM49 193h1v1h-1zM50 104h1v1h-1zM50 195h1v1h-1zM51 102h1v1h-1zM51 197h1v1h-1zM53 99h1v1h-1zM53 200h1v1h-1zM56 95h1v1h-1zM57 94h1v1h-1zM58 93h1v1h-1zM61 91h1v1h-1zM63 90h1v1h-1zM65 89h1v1h-1zM68 88h7v1h-7zM77 89h1v1h-1zM79 90h1v1h-1zM81 91h1v1h-1zM82 92h1v1h-1zM85 94h1v1h-1zM88 98h1v1h-1zM89 99h1v1h-1zM89 200h1v1h-1zM90 198h1v1h-1zM91 102h1v1h-1zM91 197h1v1h-1zM92 104h1v1h-1zM92 195h1v1h-1zM93 106h1v1h-1zM93 193h1v1h-1zM94 108h1v1h-1zM94 191h1v1h-1zM95 110h1v1h-1zM95 189h1v1h-1zM96 113h1v1h-1zM96 186h1v1h-1zM97 116h1v1h-1zM97 183h1v1h-1zM98 119h1v1h-1zM98 180h1v1h-1zM99 122h1v1h-1zM99 177h1v1h-1z"/>
<path fill="#5e56a8" d="M40 140h1v4h-1zM40 156h1v4h-1zM41 132h1v2h-1zM41 166h1v2h-1zM42 127h1v1h-1zM42 171h1v2h-1zM43 123h1v1h-1zM43 176h1v1h-1zM44 119h1v1h-1zM44 179h1v1h-1zM45 116h1v1h-1zM45 182h1v1h-1zM46 113h1v1h-1zM46 185h1v1h-1zM47 111h1v1h-1zM47 188h1v1h-1zM48 108h1v1h-1zM48 190h1v1h-1zM49 106h1v1h-1zM51 103h1v1h-1zM51 196h1v1h-1zM52 101h1v1h-1zM52 198h1v1h-1zM53 199h1v1h-1zM54 98h1v1h-1zM55 97h1v1h-1zM56 96h1v1h-1zM57 95h1v1h-1zM58 94h1v1h-1zM59 93h1v1h-1zM60 92h1v1h-1zM62 91h1v1h-1zM64 90h1v1h-1zM66 89h2v1h-2zM75 89h2v1h-2zM78 90h1v1h-1zM80 91h1v1h-1zM83 93h1v1h-1zM84 94h1v1h-1zM85 95h1v1h-1zM86 96h1v1h-1zM87 97h1v1h-1zM89 100h1v1h-1zM89 199h1v1h-1zM90 101h1v1h-1zM91 103h1v1h-1zM91 196h1v1h-1zM92 194h1v1h-1zM93 192h1v1h-1zM94 109h1v1h-1zM94 190h1v1h-1zM95 111h1v1h-1zM95 188h1v1h-1zM96 114h1v1h-1zM96 185h1v1h-1zM97 117h1v1h-1zM97 182h1v1h-1zM98 120h1v1h-1zM98 179h1v1h-1zM99 123h1v1h-1zM99 175h1v2h-1z"/>
<path fill="#5f57a9" d="M40 144h1v12h-1zM41 134h1v2h-1zM41 164h1v2h-1zM42 128h1v2h-1zM42 170h1v1h-1zM43 124h1v1h-1zM43 175h1v1h-1zM44 120h1v1h-1zM44 178h1v1h-1zM45 117h1v1h-1zM45 181h1v1h-1zM46 114h1v1h-1zM46 184h1v1h-1zM47 112h1v1h-1zM47 187h1v1h-1zM48 109h1v1h-1zM49 107h1v1h-1zM49 192h1v1h-1zM50 105h1v1h-1zM50 194h1v1h-1zM52 102h1v1h-1zM52 197h1v1h-1zM53 100h1v1h-1zM54 99h1v1h-1zM54 200h1v1h-1zM55 98h1v1h-1zM60 93h1v1h-1zM61 92h1v1h-1zM63 91h1v1h-1zM65 90h2v1h-2zM68 89h7v1h-7zM76 90h2v1h-2zM79 91h1v1h-1zM81 92h1v1h-1zM82 93h1v1h-1zM83 94h1v1h-1zM87 98h1v1h-1zM88 99h1v1h-1zM88 200h1v1h-1zM90 102h1v1h-1zM90 197h1v1h-1zM91 195h1v1h-1zM92 105h1v1h-1zM93 107h1v1h-1zM94 189h1v1h-1zM95 112h1v1h-1zM95 187h1v1h-1zM96 115h1v1h-1zM96 184h1v1h-1zM97 118h1v1h-1zM97 181h1v1h-1zM98 121h1v1h-1zM98 178h1v1h-1zM99 124h1v2h-1zM99 174h1v1h-1z"/>
<path fill="#6158aa" d="M41 136h1v2h-1zM41 162h1v2h-1zM42 130h1v1h-1zM42 169h1v1h-1zM43 125h1v1h-1zM43 173h1v2h-1zM44 121h1v2h-1zM44 177h1v1h-1zM45 118h1v1h-1zM46 115h1v1h-1zM47 113h1v1h-1zM47 186h1v1h-1zM48 110h1v1h-1zM48 189h1v1h-1zM49 108h1v1h-1zM49 191h1v1h-1zM50 106h1v1h-1zM50 193h1v1h-1zM51 104h1v1h-1zM51 195h1v1h-1zM52 196h1v1h-1zM53 101h1v1h-1zM53 198h1v1h-1zM54 199h1v1h-1zM56 97h1v1h-1zM57 96h1v1h-1zM58 95h1v1h-1zM59 94h1v1h-1zM62 92h1v1h-1zM64 91h1v1h-1zM67 90h2v1h-2zM74 90h2v1h-2zM78 91h1v1h-1zM80 92h1v1h-1zM81 93h1v1h-1zM84 95h1v1h-1zM85 96h1v1h-1zM86 97h1v1h-1zM88 100h1v1h-1zM88 199h1v1h-1zM89 101h1v1h-1zM89 198h1v1h-1zM90 196h1v1h-1zM91 104h1v1h-1zM92 106h1v1h-1zM92 193h1v1h-1zM93 108h1v1h-1zM93 191h1v1h-1zM94 110h1v1h-1zM95 113h1v1h-1zM95 186h1v1h-1zM96 116h1v1h-1zM96 183h1v1h-1zM97 119h1v1h-1zM97 180h1v1h-1zM98 122h1v1h-1zM98 177h1v1h-1zM99 126h1v1h-1zM99 173h1v1h-1z"/>
<path fill="#625aab" d="M41 138h1v3h-1zM41 159h1v3h-1zM42 131h1v2h-1zM42 167h1v2h-1zM43 126h1v2h-1zM43 172h1v1h-1zM44 123h1v1h-1zM44 176h1v1h-1zM45 119h1v1h-1zM45 180h1v1h-1zM46 116h1v1h-1zM46 183h1v1h-1zM47 185h1v1h-1zM48 111h1v1h-1zM48 188h1v1h-1zM49 109h1v1h-1zM49 190h1v1h-1zM50 192h1v1h-1zM51 105h1v1h-1zM51 194h1v1h-1zM52 103h1v1h-1zM53 197h1v1h-1zM54 100h1v1h-1zM55 99h1v1h-1zM55 200h1v1h-1zM56 98h1v1h-1zM59 95h1v1h-1zM60 94h1v1h-1zM61 93h1v1h-1zM63 92h1v1h-1zM65 91h2v1h-2zM69 90h5v1h-5zM76 91h2v1h-2zM79 92h1v1h-1zM82 94h1v1h-1zM83 95h1v1h-1zM84 96h1v1h-1zM85 97h1v1h-1zM86 98h1v1h-1zM87 99h1v1h-1zM87 200h1v1h-1zM89 102h1v1h-1zM89 197h1v1h-1zM90 103h1v1h-1zM91 105h1v1h-1zM91 194h1v1h-1zM92 107h1v1h-1zM92 192h1v1h-1zM93 109h1v1h-1zM93 190h1v1h-1zM94 111h1v1h-1zM94 188h1v1h-1zM95 114h1v1h-1zM95 185h1v1h-1zM96 182h1v1h-1zM97 179h1v1h-1zM98 123h1v1h-1zM98 176h1v1h-1zM99 127h1v1h-1zM99 172h1v1h-1z"/>
<path fill="#645bab" d="M41 141h1v4h-1zM41 155h1v4h-1zM42 133h1v1h-1zM42 165h1v2h-1zM43 128h1v1h-1zM43 171h1v1h-1zM44 124h1v1h-1zM44 175h1v1h-1zM45 120h1v1h-1zM45 179h1v1h-1zM46 117h1v1h-1zM46 182h1v1h-1zM47 114h1v1h-1zM48 112h1v1h-1zM48 187h1v1h-1zM50 107h1v1h-1zM52 104h1v1h-1zM52 195h1v1h-1zM53 102h1v1h-1zM54 101h1v1h-1zM54 198h1v1h-1zM57 97h1v1h-1zM58 96h1v1h-1zM61 94h1v1h-1zM62 93h1v1h-1zM64 92h1v1h-1zM67 91h1v1h-1zM74 91h2v1h-2zM78 92h1v1h-1zM80 93h1v1h-1zM81 94h1v1h-1zM87 199h1v1h-1zM88 101h1v1h-1zM88 198h1v1h-1zM90 104h1v1h-1zM90 195h1v1h-1zM91 193h1v1h-1zM92 191h1v1h-1zM93 189h1v1h-1zM94 112h1v1h-1zM94 187h1v1h-1zM95 184h1v1h-1zM96 117h1v1h-1zM96 181h1v1h-1zM97 120h1v1h-1zM97 178h1v1h-1zM98 124h1v1h-1zM98 175h1v1h-1zM99 128h1v1h-1zM99 170h1v2h-1z"/>
<path fill="#665dac" d="M41 145h1v10h-1zM42 134h1v2h-1zM42 164h1v1h-1zM43 129h1v1h-1zM43 170h1v1h-1zM44 125h1v1h-1zM44 174h1v1h-1zM45 121h1v1h-1zM45 178h1v1h-1zM46 118h1v1h-1zM46 181h1v1h-1zM47 115h1v1h-1zM47 184h1v1h-1zM48 186h1v1h-1zM49 110h1v1h-1zM49 189h1v1h-1zM50 108h1v1h-1zM50 191h1v1h-1zM51 106h1v1h-1zM51 193h1v1h-1zM53 103h1v1h-1zM53 196h1v1h-1zM55 100h1v1h-1zM55 199h1v1h-1zM56 99h1v1h-1zM56 200h1v1h-1zM57 98h1v1h-1zM58 97h1v1h-1zM59 96h1v1h-1zM60 95h1v1h-1zM63 93h1v1h-1zM65 92h1v1h-1zM68 91h6v1h-6zM76 92h2v1h-2zM79 93h1v1h-1zM82 95h1v1h-1zM83 96h1v1h-1zM84 97h1v1h-1zM85 98h1v1h-1zM86 99h1v1h-1zM86 200h1v1h-1zM87 100h1v1h-1zM88 197h1v1h-1zM89 103h1v1h-1zM89 196h1v1h-1zM90 194h1v1h-1zM91 106h1v1h-1zM92 108h1v1h-1zM93 110h1v1h-1zM94 113h1v1h-1zM94 186h1v1h-1zM95 115h1v1h-1zM95 183h1v1h-1zM96 118h1v1h-1zM97 121h1v1h-1zM97 177h1v1h-1zM98 125h1v1h-1zM98 174h1v1h-1zM99 129h1v2h-1zM99 169h1v1h-1z"/>
<path fill="#675ead" d="M42 136h1v2h-1zM42 162h1v2h-1zM43 130h1v1h-1zM43 168h1v2h-1zM44 126h1v1h-1zM44 173h1v1h-1zM45 122h1v1h-1zM45 177h1v1h-1zM46 119h1v1h-1zM46 180h1v1h-1zM47 116h1v1h-1zM47 183h1v1h-1zM48 113h1v1h-1zM49 111h1v1h-1zM49 188h1v1h-1zM50 190h1v1h-1zM51 107h1v1h-1zM51 192h1v1h-1zM52 105h1v1h-1zM52 194h1v1h-1zM54 102h1v1h-1zM54 197h1v1h-1zM55 198h1v1h-1zM62 94h1v1h-1zM64 93h1v1h-1zM66 92h2v1h-2zM75 92h1v1h-1zM78 93h1v1h-1zM80 94h1v1h-1zM81 95h1v1h-1zM87 101h1v1h-1zM87 198h1v1h-1zM88 102h1v1h-1zM89 195h1v1h-1zM90 105h1v1h-1zM91 107h1v1h-1zM91 192h1v1h-1zM92 109h1v1h-1zM92 190h1v1h-1zM93 111h1v1h-1zM93 188h1v1h-1zM94 185h1v1h-1zM95 116h1v1h-1zM96 119h1v1h-1zM96 180h1v1h-1zM97 122h1v1h-1zM98 126h1v1h-1zM98 173h1v1h-1zM99 131h1v1h-1zM99 168h1v1h-1z"/>
<path fill="#695fae" d="M42 138h1v2h-1zM42 160h1v2h-1zM43 131h1v2h-1zM43 167h1v1h-1zM44 127h1v1h-1zM44 172h1v1h-1zM45 123h1v1h-1zM45 176h1v1h-1zM46 179h1v1h-1zM47 117h1v1h-1zM47 182h1v1h-1zM48 114h1v1h-1zM48 185h1v1h-1zM49 187h1v1h-1zM50 109h1v1h-1zM52 193h1v1h-1zM53 104h1v1h-1zM53 195h1v1h-1zM55 101h1v1h-1zM56 100h1v1h-1zM56 199h1v1h-1zM57 99h1v1h-1zM57 200h1v1h-1zM58 98h1v1h-1zM59 97h1v1h-1zM60 96h1v1h-1zM61 95h1v1h-1zM63 94h1v1h-1zM65 93h1v1h-1zM68 92h7v1h-7zM77 93h1v1h-1zM79 94h1v1h-1zM82 96h1v1h-1zM83 97h1v1h-1zM84 98h1v1h-1zM85 99h1v1h-1zM85 200h1v1h-1zM86 100h1v1h-1zM86 199h1v1h-1zM88 196h1v1h-1zM89 104h1v1h-1zM90 106h1v1h-1zM90 193h1v1h-1zM92 189h1v1h-1zM93 112h1v1h-1zM93 187h1v1h-1zM94 114h1v1h-1zM95 117h1v1h-1zM95 182h1v1h-1zM96 120h1v1h-1zM96 179h1v1h-1zM97 123h1v1h-1zM97 176h1v1h-1zM98 127h1v1h-1zM98 172h1v1h-1zM99 132h1v1h-1zM99 166h1v2h-1z"/>
<path fill="#6a61af" d="M42 140h1v3h-1zM42 157h1v3h-1zM43 133h1v1h-1zM43 166h1v1h-1zM44 128h1v1h-1zM44 171h1v1h-1zM45 124h1v1h-1zM45 175h1v1h-1zM46 120h1v1h-1zM47 181h1v1h-1zM48 115h1v1h-1zM48 184h1v1h-1zM49 112h1v1h-1zM50 110h1v1h-1zM50 189h1v1h-1zM51 108h1v1h-1zM51 191h1v1h-1zM52 106h1v1h-1zM54 103h1v1h-1zM54 196h1v1h-1zM55 197h1v1h-1zM62 95h1v1h-1zM64 94h1v1h-1zM66 93h1v1h-1zM75 93h2v1h-2zM78 94h1v1h-1zM80 95h1v1h-1zM81 96h1v1h-1zM86 198h1v1h-1zM87 102h1v1h-1zM87 197h1v1h-1zM88 103h1v1h-1zM89 194h1v1h-1zM91 108h1v1h-1zM91 191h1v1h-1zM92 110h1v1h-1zM93 186h1v1h-1zM94 115h1v1h-1zM94 184h1v1h-1zM95 118h1v1h-1zM95 181h1v1h-1zM96 121h1v1h-1zM96 178h1v1h-1zM97 124h1v1h-1zM97 175h1v1h-1zM98 128h1v1h-1zM98 171h1v1h-1zM99 133h1v2h-1zM99 165h1v1h-1z"/>
<path fill="#6c62af" d="M42 143h1v5h-1zM42 152h1v5h-1zM43 134h1v2h-1zM43 164h1v2h-1zM44 129h1v1h-1zM44 170h1v1h-1zM45 125h1v1h-1zM45 174h1v1h-1zM46 121h1v1h-1zM46 178h1v1h-1zM47 118h1v1h-1zM48 183h1v1h-1zM49 113h1v1h-1zM49 186h1v1h-1zM50 188h1v1h-1zM51 190h1v1h-1zM52 192h1v1h-1zM53 105h1v1h-1zM53 194h1v1h-1zM54 195h1v1h-1zM55 102h1v1h-1zM56 101h1v1h-1zM56 198h1v1h-1zM57 100h1v1h-1zM57 199h1v1h-1zM58 200h1v1h-1zM59 98h1v1h-1zM60 97h1v1h-1zM61 96h1v1h-1zM63 95h1v1h-1zM65 94h1v1h-1zM67 93h3v1h-3zM73 93h2v1h-2zM77 94h1v1h-1zM79 95h1v1h-1zM82 97h1v1h-1zM83 98h1v1h-1zM84 99h1v1h-1zM84 200h1v1h-1zM85 100h1v1h-1zM85 199h1v1h-1zM86 101h1v1h-1zM88 195h1v1h-1zM89 105h1v1h-1zM90 107h1v1h-1zM90 192h1v1h-1zM91 109h1v1h-1zM91 190h1v1h-1zM92 111h1v1h-1zM92 188h1v1h-1zM93 113h1v1h-1zM94 116h1v1h-1zM94 183h1v1h-1zM95 180h1v1h-1zM96 177h1v1h-1zM97 125h1v1h-1zM97 174h1v1h-1zM98 129h1v1h-1zM98 169h1v2h-1zM99 135h1v1h-1zM99 164h1v1h-1z"/>
<path fill="#6e64b0" d="M42 148h1v4h-1zM43 136h1v1h-1zM43 163h1v1h-1zM44 130h1v1h-1zM44 169h1v1h-1zM45 173h1v1h-1zM46 122h1v1h-1zM46 177h1v1h-1zM47 119h1v1h-1zM47 180h1v1h-1zM48 116h1v1h-1zM49 185h1v1h-1zM50 111h1v1h-1zM51 109h1v1h-1zM52 107h1v1h-1zM53 193h1v1h-1zM54 104h1v1h-1zM55 196h1v1h-1zM58 99h1v1h-1zM62 96h1v1h-1zM66 94h1v1h-1zM70 93h3v1h-3zM76 94h1v1h-1zM78 95h1v1h-1zM80 96h1v1h-1zM87 103h1v1h-1zM87 196h1v1h-1zM88 104h1v1h-1zM89 106h1v1h-1zM89 193h1v1h-1zM92 187h1v1h-1zM93 114h1v1h-1zM93 185h1v1h-1zM95 119h1v1h-1zM96 122h1v1h-1zM97 126h1v1h-1zM97 173h1v1h-1zM98 130h1v1h-1zM98 168h1v1h-1zM99 136h1v2h-1zM99 162h1v2h-1z"/>
<path fill="#6f65b1" d="M43 137h1v2h-1zM43 161h1v2h-1zM44 131h1v1h-1zM44 168h1v1h-1zM45 126h1v1h-1zM45 172h1v1h-1zM46 123h1v1h-1zM46 176h1v1h-1zM47 179h1v1h-1zM48 117h1v1h-1zM48 182h1v1h-1zM49 114h1v1h-1zM50 112h1v1h-1zM50 187h1v1h-1zM51 110h1v1h-1zM51 189h1v1h-1zM52 108h1v1h-1zM52 191h1v1h-1zM53 106h1v1h-1zM54 194h1v1h-1zM55 103h1v1h-1zM56 102h1v1h-1zM56 197h1v1h-1zM57 198h1v1h-1zM58 199h1v1h-1zM59 200h1v1h-1zM60 98h1v1h-1zM61 97h1v1h-1zM64 95h1v1h-1zM67 94h1v1h-1zM75 94h1v1h-1zM81 97h1v1h-1zM82 98h1v1h-1zM83 99h1v1h-1zM83 200h1v1h-1zM84 100h1v1h-1zM84 199h1v1h-1zM85 101h1v1h-1zM85 198h1v1h-1zM86 102h1v1h-1zM86 197h1v1h-1zM88 194h1v1h-1zM90 108h1v1h-1zM90 191h1v1h-1zM91 110h1v1h-1zM91 189h1v1h-1zM92 112h1v1h-1zM93 184h1v1h-1zM94 117h1v1h-1zM94 182h1v1h-1zM95 120h1v1h-1zM95 179h1v1h-1zM96 123h1v1h-1zM96 176h1v1h-1zM97 127h1v1h-1zM97 172h1v1h-1zM98 131h1v2h-1zM98 167h1v1h-1zM99 138h1v2h-1zM99 160h1v2h-1z"/>
<path fill="#7167b2" d="M43 139h1v2h-1zM43 159h1v2h-1zM44 132h1v1h-1zM44 167h1v1h-1zM45 127h1v1h-1zM46 175h1v1h-1zM47 120h1v1h-1zM48 181h1v1h-1zM49 115h1v1h-1zM49 184h1v1h-1zM50 186h1v1h-1zM53 192h1v1h-1zM54 105h1v1h-1zM55 195h1v1h-1zM57 101h1v1h-1zM58 100h1v1h-1zM59 99h1v1h-1zM63 96h1v1h-1zM65 95h1v1h-1zM68 94h7v1h-7zM77 95h1v1h-1zM79 96h1v1h-1zM80 97h1v1h-1zM87 104h1v1h-1zM87 195h1v1h-1zM88 105h1v1h-1zM89 107h1v1h-1zM89 192h1v1h-1zM90 190h1v1h-1zM91 188h1v1h-1zM92 113h1v1h-1zM92 186h1v1h-1zM93 115h1v1h-1zM94 118h1v1h-1zM94 181h1v1h-1zM95 178h1v1h-1zM96 124h1v1h-1zM96 175h1v1h-1zM97 128h1v1h-1zM97 171h1v1h-1zM98 133h1v1h-1zM98 166h1v1h-1zM99 140h1v2h-1zM99 158h1v2h-1z"/>
<path fill="#7268b3" d="M43 141h1v2h-1zM43 157h1v2h-1zM44 133h1v1h-1zM44 165h1v2h-1zM45 128h1v1h-1zM45 171h1v1h-1zM46 124h1v1h-1zM47 121h1v1h-1zM47 178h1v1h-1zM48 118h1v1h-1zM49 183h1v1h-1zM50 113h1v1h-1zM51 111h1v1h-1zM51 188h1v1h-1zM52 109h1v1h-1zM52 190h1v1h-1zM53 107h1v1h-1zM55 104h1v1h-1zM56 103h1v1h-1zM56 196h1v1h-1zM57 197h1v1h-1zM60 200h1v1h-1zM61 98h1v1h-1zM62 97h1v1h-1zM64 96h1v1h-1zM66 95h1v1h-1zM75 95h2v1h-2zM78 96h1v1h-1zM81 98h1v1h-1zM82 200h1v1h-1zM83 199h1v1h-1zM84 198h1v1h-1zM85 197h1v1h-1zM86 103h1v1h-1zM86 196h1v1h-1zM88 193h1v1h-1zM90 109h1v1h-1zM91 111h1v1h-1zM93 116h1v1h-1zM93 183h1v1h-1zM95 121h1v1h-1zM96 125h1v1h-1zM96 174h1v1h-1zM97 129h1v1h-1zM97 170h1v1h-1zM98 134h1v1h-1zM98 165h1v1h-1zM99 142h1v3h-1zM99 155h1v3h-1z"/>
<path fill="#746ab4" d="M43 143h1v4h-1zM43 153h1v4h-1zM44 134h1v2h-1zM44 164h1v1h-1zM45 129h1v1h-1zM45 170h1v1h-1zM46 125h1v1h-1zM46 174h1v1h-1zM47 177h1v1h-1zM48 119h1v1h-1zM48 180h1v1h-1zM49 116h1v1h-1zM50 114h1v1h-1zM50 185h1v1h-1zM53 191h1v1h-1zM54 106h1v1h-1zM54 193h1v1h-1zM55 194h1v1h-1zM57 102h1v1h-1zM58 101h1v1h-1zM58 198h1v1h-1zM59 100h1v1h-1zM59 199h1v1h-1zM60 99h1v1h-1zM63 97h1v1h-1zM65 96h1v1h-1zM67 95h2v1h-2zM74 95h1v1h-1zM77 96h1v1h-1zM79 97h1v1h-1zM82 99h1v1h-1zM83 100h1v1h-1zM84 101h1v1h-1zM85 102h1v1h-1zM87 194h1v1h-1zM88 106h1v1h-1zM89 108h1v1h-1zM89 191h1v1h-1zM90 189h1v1h-1zM91 187h1v1h-1zM92 114h1v1h-1zM92 185h1v1h-1zM94 119h1v1h-1zM94 180h1v1h-1zM95 122h1v1h-1zM95 177h1v1h-1zM96 173h1v1h-1zM97 130h1v1h-1zM97 169h1v1h-1zM98 135h1v1h-1zM98 163h1v2h-1zM99 145h1v10h-1z"/>
<path fill="#756bb4" d="M43 147h1v6h-1zM44 136h1v1h-1zM44 163h1v1h-1zM45 130h1v1h-1zM45 169h1v1h-1zM46 126h1v1h-1zM46 173h1v1h-1zM47 122h1v1h-1zM49 117h1v1h-1zM49 182h1v1h-1zM51 112h1v1h-1zM51 187h1v1h-1zM52 110h1v1h-1zM52 189h1v1h-1zM53 108h1v1h-1zM55 105h1v1h-1zM56 195h1v1h-1zM61 200h1v1h-1zM62 98h1v1h-1zM66 96h1v1h-1zM69 95h5v1h-5zM76 96h1v1h-1zM78 97h1v1h-1zM80 98h1v1h-1zM81 200h1v1h-1zM85 196h1v1h-1zM86 104h1v1h-1zM86 195h1v1h-1zM87 105h1v1h-1zM88 192h1v1h-1zM90 110h1v1h-1zM91 112h1v1h-1zM92 184h1v1h-1zM93 117h1v1h-1zM93 182h1v1h-1zM94 179h1v1h-1zM95 123h1v1h-1zM95 176h1v1h-1zM96 126h1v1h-1zM97 131h1v1h-1zM97 168h1v1h-1zM98 136h1v2h-1zM98 162h1v1h-1z"/>
<path fill="#776db5" d="M44 137h1v1h-1zM44 161h1v2h-1zM45 131h1v1h-1zM45 168h1v1h-1zM46 172h1v1h-1zM47 123h1v1h-1zM47 176h1v1h-1zM48 120h1v1h-1zM48 179h1v1h-1zM50 115h1v1h-1zM50 184h1v1h-1zM51 186h1v1h-1zM53 190h1v1h-1zM54 107h1v1h-1zM54 192h1v1h-1zM56 104h1v1h-1zM57 103h1v1h-1zM57 196h1v1h-1zM58 102h1v1h-1zM58 197h1v1h-1zM59 101h1v1h-1zM59 198h1v1h-1zM60 100h1v1h-1zM60 199h1v1h-1zM61 99h1v1h-1zM64 97h1v1h-1zM67 96h1v1h-1zM75 96h1v1h-1zM81 99h1v1h-1zM82 100h1v1h-1zM82 199h1v1h-1zM83 101h1v1h-1zM83 198h1v1h-1zM84 102h1v1h-1zM84 197h1v1h-1zM85 103h1v1h-1zM87 193h1v1h-1zM88 107h1v1h-1zM89 109h1v1h-1zM89 190h1v1h-1zM90 188h1v1h-1zM91 113h1v1h-1zM91 186h1v1h-1zM92 115h1v1h-1zM93 181h1v1h-1zM94 120h1v1h-1zM96 127h1v1h-1zM96 172h1v1h-1zM97 132h1v1h-1zM97 167h1v1h-1zM98 138h1v1h-1zM98 160h1v2h-1z"/>
<path fill="#786eb6" d="M44 138h1v2h-1zM44 160h1v1h-1zM45 132h1v1h-1zM45 167h1v1h-1zM46 127h1v1h-1zM47 124h1v1h-1zM47 175h1v1h-1zM48 178h1v1h-1zM49 118h1v1h-1zM49 181h1v1h-1zM51 113h1v1h-1zM52 111h1v1h-1zM52 188h1v1h-1zM53 109h1v1h-1zM55 106h1v1h-1zM55 193h1v1h-1zM62 200h1v1h-1zM63 98h1v1h-1zM65 97h1v1h-1zM68 96h2v1h-2zM73 96h2v1h-2zM77 97h1v1h-1zM79 98h1v1h-1zM80 200h1v1h-1zM86 194h1v1h-1zM87 106h1v1h-1zM90 111h1v1h-1zM92 183h1v1h-1zM93 118h1v1h-1zM94 121h1v1h-1zM94 178h1v1h-1zM95 124h1v1h-1zM95 175h1v1h-1zM96 128h1v1h-1zM96 171h1v1h-1zM97 133h1v1h-1zM97 166h1v1h-1zM98 139h1v2h-1zM98 159h1v1h-1z"/>
<path fill="#7a70b7" d="M44 140h1v2h-1zM44 158h1v2h-1zM45 133h1v1h-1zM45 166h1v1h-1zM46 128h1v1h-1zM46 171h1v1h-1zM48 121h1v1h-1zM50 116h1v1h-1zM50 183h1v1h-1zM51 185h1v1h-1zM53 189h1v1h-1zM54 108h1v1h-1zM54 191h1v1h-1zM56 105h1v1h-1zM56 194h1v1h-1zM57 195h1v1h-1zM58 196h1v1h-1zM60 198h1v1h-1zM61 100h1v1h-1zM61 199h1v1h-1zM62 99h1v1h-1zM64 98h1v1h-1zM66 97h1v1h-1zM70 96h3v1h-3zM76 97h1v1h-1zM78 98h1v1h-1zM80 99h1v1h-1zM81 100h1v1h-1zM81 199h1v1h-1zM82 198h1v1h-1zM83 197h1v1h-1zM84 196h1v1h-1zM85 104h1v1h-1zM85 195h1v1h-1zM86 105h1v1h-1zM88 108h1v1h-1zM88 191h1v1h-1zM89 110h1v1h-1zM89 189h1v1h-1zM90 187h1v1h-1zM91 114h1v1h-1zM91 185h1v1h-1zM92 116h1v1h-1zM93 180h1v1h-1zM94 177h1v1h-1zM95 125h1v1h-1zM95 174h1v1h-1zM96 129h1v1h-1zM96 170h1v1h-1zM97 134h1v1h-1zM97 165h1v1h-1zM98 141h1v2h-1zM98 156h1v3h-1z"/>
<path fill="#7b71b8" d="M44 142h1v2h-1zM44 155h1v3h-1zM45 134h1v1h-1zM45 165h1v1h-1zM46 129h1v1h-1zM46 170h1v1h-1zM47 125h1v1h-1zM47 174h1v1h-1zM48 122h1v1h-1zM48 177h1v1h-1zM49 119h1v1h-1zM49 180h1v1h-1zM50 182h1v1h-1zM51 114h1v1h-1zM52 112h1v1h-1zM52 187h1v1h-1zM53 110h1v1h-1zM55 192h1v1h-1zM57 104h1v1h-1zM58 103h1v1h-1zM59 102h1v1h-1zM59 197h1v1h-1zM60 101h1v1h-1zM63 200h1v1h-1zM67 97h1v1h-1zM75 97h1v1h-1zM79 99h1v1h-1zM79 200h1v1h-1zM82 101h1v1h-1zM83 102h1v1h-1zM84 103h1v1h-1zM87 107h1v1h-1zM87 192h1v1h-1zM90 112h1v1h-1zM92 117h1v1h-1zM92 182h1v1h-1zM93 119h1v1h-1zM94 122h1v1h-1zM96 169h1v1h-1zM97 135h1v1h-1zM97 164h1v1h-1zM98 143h1v4h-1zM98 153h1v3h-1z"/>
<path fill="#7d72b8" d="M44 144h1v11h-1zM45 135h1v1h-1zM45 164h1v1h-1zM46 130h1v1h-1zM46 169h1v1h-1zM47 126h1v1h-1zM47 173h1v1h-1zM49 179h1v1h-1zM50 117h1v1h-1zM51 184h1v1h-1zM53 188h1v1h-1zM54 190h1v1h-1zM55 107h1v1h-1zM56 193h1v1h-1zM62 199h1v1h-1zM63 99h1v1h-1zM65 98h1v1h-1zM68 97h2v1h-2zM73 97h2v1h-2zM77 98h1v1h-1zM78 200h1v1h-1zM80 100h1v1h-1zM80 199h1v1h-1zM81 198h1v1h-1zM85 194h1v1h-1zM86 106h1v1h-1zM86 193h1v1h-1zM88 109h1v1h-1zM88 190h1v1h-1zM89 188h1v1h-1zM90 186h1v1h-1zM91 115h1v1h-1zM91 184h1v1h-1zM93 120h1v1h-1zM93 179h1v1h-1zM94 123h1v1h-1zM94 176h1v1h-1zM95 126h1v1h-1zM95 173h1v1h-1zM96 130h1v1h-1zM97 136h1v1h-1zM97 163h1v1h-1zM98 147h1v6h-1z"/>
<path fill="#7e74b9" d="M45 136h1v1h-1zM45 162h1v2h-1zM46 131h1v1h-1zM46 168h1v1h-1zM48 123h1v1h-1zM48 176h1v1h-1zM49 120h1v1h-1zM50 181h1v1h-1zM51 115h1v1h-1zM52 113h1v1h-1zM52 186h1v1h-1zM53 111h1v1h-1zM54 109h1v1h-1zM56 106h1v1h-1zM57 105h1v1h-1zM57 194h1v1h-1zM58 195h1v1h-1zM59 196h1v1h-1zM60 197h1v1h-1zM61 101h1v1h-1zM61 198h1v1h-1zM62 100h1v1h-1zM64 99h1v1h-1zM64 200h1v1h-1zM66 98h1v1h-1zM70 97h3v1h-3zM76 98h1v1h-1zM78 99h1v1h-1zM81 101h1v1h-1zM82 102h1v1h-1zM82 197h1v1h-1zM83 196h1v1h-1zM84 104h1v1h-1zM84 195h1v1h-1zM85 105h1v1h-1zM87 191h1v1h-1zM89 111h1v1h-1zM90 113h1v1h-1zM92 118h1v1h-1zM92 181h1v1h-1zM95 127h1v1h-1zM95 172h1v1h-1zM96 131h1v1h-1zM96 168h1v1h-1zM97 137h1v1h-1zM97 162h1v1h-1z"/>
<path fill="#8075ba" d="M45 137h1v2h-1zM45 161h1v1h-1zM46 167h1v1h-1zM47 127h1v1h-1zM47 172h1v1h-1zM48 175h1v1h-1zM49 178h1v1h-1zM50 118h1v1h-1zM51 183h1v1h-1zM54 189h1v1h-1zM55 108h1v1h-1zM55 191h1v1h-1zM58 104h1v1h-1zM59 103h1v1h-1zM60 102h1v1h-1zM63 100h1v1h-1zM63 199h1v1h-1zM65 200h1v1h-1zM67 98h1v1h-1zM75 98h1v1h-1zM77 200h1v1h-1zM79 100h1v1h-1zM79 199h1v1h-1zM83 103h1v1h-1zM86 192h1v1h-1zM87 108h1v1h-1zM88 110h1v1h-1zM88 189h1v1h-1zM89 187h1v1h-1zM90 185h1v1h-1zM91 116h1v1h-1zM91 183h1v1h-1zM93 121h1v1h-1zM93 178h1v1h-1zM94 124h1v1h-1zM94 175h1v1h-1zM95 171h1v1h-1zM96 132h1v1h-1zM96 167h1v1h-1zM97 138h1v2h-1zM97 160h1v2h-1z"/>
<path fill="#8177bb" d="M45 139h1v1h-1zM45 160h1v1h-1zM46 132h1v1h-1zM46 166h1v1h-1zM47 128h1v1h-1zM47 171h1v1h-1zM48 124h1v1h-1zM49 121h1v1h-1zM51 116h1v1h-1zM52 114h1v1h-1zM52 185h1v1h-1zM53 112h1v1h-1zM53 187h1v1h-1zM54 110h1v1h-1zM56 107h1v1h-1zM56 192h1v1h-1zM57 193h1v1h-1zM62 101h1v1h-1zM62 198h1v1h-1zM65 99h1v1h-1zM66 200h1v1h-1zM68 98h2v1h-2zM73 98h2v1h-2zM76 200h1v1h-1zM77 99h1v1h-1zM78 199h1v1h-1zM80 101h1v1h-1zM80 198h1v1h-1zM81 197h1v1h-1zM85 193h1v1h-1zM86 107h1v1h-1zM89 112h1v1h-1zM90 114h1v1h-1zM92 119h1v1h-1zM92 180h1v1h-1zM94 174h1v1h-1zM95 128h1v1h-1zM96 133h1v1h-1zM96 166h1v1h-1zM97 140h1v1h-1zM97 159h1v1h-1z"/>
<path fill="#8378bc" d="M45 140h1v2h-1zM45 158h1v2h-1zM46 133h1v1h-1zM47 170h1v1h-1zM48 125h1v1h-1zM48 174h1v1h-1zM49 177h1v1h-1zM50 119h1v1h-1zM50 180h1v1h-1zM51 182h1v1h-1zM55 109h1v1h-1zM55 190h1v1h-1zM57 106h1v1h-1zM58 105h1v1h-1zM58 194h1v1h-1zM59 195h1v1h-1zM60 196h1v1h-1zM61 102h1v1h-1zM61 197h1v1h-1zM64 100h1v1h-1zM64 199h1v1h-1zM66 99h1v1h-1zM67 200h1v1h-1zM70 98h3v1h-3zM75 200h1v1h-1zM76 99h1v1h-1zM78 100h1v1h-1zM81 102h1v1h-1zM82 103h1v1h-1zM82 196h1v1h-1zM83 104h1v1h-1zM83 195h1v1h-1zM84 105h1v1h-1zM84 194h1v1h-1zM85 106h1v1h-1zM87 109h1v1h-1zM87 190h1v1h-1zM88 188h1v1h-1zM89 186h1v1h-1zM90 184h1v1h-1zM91 117h1v1h-1zM91 182h1v1h-1zM93 122h1v1h-1zM93 177h1v1h-1zM94 125h1v1h-1zM95 129h1v1h-1zM95 170h1v1h-1zM96 134h1v1h-1zM96 165h1v1h-1zM97 141h1v2h-1zM97 157h1v2h-1z"/>
<path fill="#847abc" d="M45 142h1v2h-1zM45 156h1v2h-1zM46 134h1v1h-1zM46 165h1v1h-1zM47 129h1v1h-1zM49 122h1v1h-1zM51 117h1v1h-1zM52 115h1v1h-1zM52 184h1v1h-1zM53 113h1v1h-1zM53 186h1v1h-1zM54 111h1v1h-1zM54 188h1v1h-1zM56 191h1v1h-1zM59 104h1v1h-1zM60 103h1v1h-1zM63 198h1v1h-1zM65 199h1v1h-1zM67 99h1v1h-1zM68 200h1v1h-1zM74 200h1v1h-1zM75 99h1v1h-1zM77 199h1v1h-1zM79 101h1v1h-1zM79 198h1v1h-1zM86 108h1v1h-1zM86 191h1v1h-1zM88 111h1v1h-1zM89 113h1v1h-1zM90 115h1v1h-1zM92 120h1v1h-1zM92 179h1v1h-1zM93 176h1v1h-1zM94 126h1v1h-1zM94 173h1v1h-1zM95 130h1v1h-1zM95 169h1v1h-1zM96 135h1v1h-1zM96 164h1v1h-1zM97 143h1v3h-1zM97 154h1v3h-1z"/>
<path fill="#867bbd" d="M45 144h1v3h-1zM45 153h1v3h-1zM46 135h1v1h-1zM46 164h1v1h-1zM47 130h1v1h-1zM47 169h1v1h-1zM48 126h1v1h-1zM48 173h1v1h-1zM49 123h1v1h-1zM49 176h1v1h-1zM50 120h1v1h-1zM50 179h1v1h-1zM51 181h1v1h-1zM55 189h1v1h-1zM56 108h1v1h-1zM57 192h1v1h-1zM62 102h1v1h-1zM62 197h1v1h-1zM63 101h1v1h-1zM65 100h1v1h-1zM68 99h1v1h-1zM69 200h5v1h-5zM74 99h1v1h-1zM76 199h1v1h-1zM77 100h1v1h-1zM80 102h1v1h-1zM80 197h1v1h-1zM81 196h1v1h-1zM84 193h1v1h-1zM85 107h1v1h-1zM85 192h1v1h-1zM87 110h1v1h-1zM87 189h1v1h-1zM91 118h1v1h-1zM91 181h1v1h-1zM93 123h1v1h-1zM96 136h1v1h-1zM96 163h1v1h-1zM97 146h1v8h-1z"/>
<path fill="#877dbe" d="M45 147h1v6h-1zM46 136h1v1h-1zM46 163h1v1h-1zM47 131h1v1h-1zM47 168h1v1h-1zM48 172h1v1h-1zM51 118h1v1h-1zM52 116h1v1h-1zM52 183h1v1h-1zM53 185h1v1h-1zM54 112h1v1h-1zM54 187h1v1h-1zM55 110h1v1h-1zM57 107h1v1h-1zM58 106h1v1h-1zM58 193h1v1h-1zM59 194h1v1h-1zM60 195h1v1h-1zM61 103h1v1h-1zM61 196h1v1h-1zM64 101h1v1h-1zM64 198h1v1h-1zM66 100h1v1h-1zM66 199h1v1h-1zM69 99h5v1h-5zM76 100h1v1h-1zM78 101h1v1h-1zM78 198h1v1h-1zM81 103h1v1h-1zM82 104h1v1h-1zM82 195h1v1h-1zM83 105h1v1h-1zM83 194h1v1h-1zM84 106h1v1h-1zM86 190h1v1h-1zM88 112h1v1h-1zM88 187h1v1h-1zM89 114h1v1h-1zM89 185h1v1h-1zM90 116h1v1h-1zM90 183h1v1h-1zM92 121h1v1h-1zM92 178h1v1h-1zM93 175h1v1h-1zM94 127h1v1h-1zM94 172h1v1h-1zM95 131h1v1h-1zM95 168h1v1h-1zM96 137h1v1h-1zM96 162h1v1h-1z"/>
<path fill="#897ebf" d="M46 137h1v1h-1zM46 162h1v1h-1zM47 167h1v1h-1zM48 127h1v1h-1zM49 124h1v1h-1zM49 175h1v1h-1zM50 121h1v1h-1zM50 178h1v1h-1zM53 114h1v1h-1zM56 109h1v1h-1zM56 190h1v1h-1zM59 105h1v1h-1zM60 104h1v1h-1zM63 197h1v1h-1zM65 198h1v1h-1zM67 100h1v1h-1zM67 199h1v1h-1zM75 100h1v1h-1zM75 199h1v1h-1zM77 198h1v1h-1zM79 102h1v1h-1zM79 197h1v1h-1zM86 109h1v1h-1zM87 188h1v1h-1zM91 180h1v1h-1zM93 124h1v1h-1zM94 171h1v1h-1zM95 132h1v1h-1zM95 167h1v1h-1zM96 138h1v1h-1zM96 161h1v1h-1z"/>
<path fill="#8b80c0" d="M46 138h1v1h-1zM46 160h1v2h-1zM47 132h1v1h-1zM48 128h1v1h-1zM48 171h1v1h-1zM51 119h1v1h-1zM51 180h1v1h-1zM52 182h1v1h-1zM54 186h1v1h-1zM55 111h1v1h-1zM55 188h1v1h-1zM57 191h1v1h-1zM62 196h1v1h-1zM63 102h1v1h-1zM65 101h1v1h-1zM68 100h1v1h-1zM68 199h2v1h-2zM73 199h2v1h-2zM74 100h1v1h-1zM77 101h1v1h-1zM80 103h1v1h-1zM80 196h1v1h-1zM81 195h1v1h-1zM84 192h1v1h-1zM85 108h1v1h-1zM85 191h1v1h-1zM87 111h1v1h-1zM88 113h1v1h-1zM88 186h1v1h-1zM89 184h1v1h-1zM90 117h1v1h-1zM90 182h1v1h-1zM91 119h1v1h-1zM92 177h1v1h-1zM93 174h1v1h-1zM94 128h1v1h-1zM95 133h1v1h-1zM95 166h1v1h-1zM96 139h1v1h-1zM96 159h1v2h-1z"/>
<path fill="#8c81c0" d="M46 139h1v2h-1zM46 159h1v1h-1zM47 133h1v1h-1zM47 166h1v1h-1zM49 125h1v1h-1zM49 174h1v1h-1zM50 122h1v1h-1zM50 177h1v1h-1zM52 117h1v1h-1zM53 115h1v1h-1zM53 184h1v1h-1zM54 113h1v1h-1zM56 189h1v1h-1zM57 108h1v1h-1zM58 107h1v1h-1zM58 192h1v1h-1zM59 193h1v1h-1zM60 194h1v1h-1zM61 104h1v1h-1zM61 195h1v1h-1zM62 103h1v1h-1zM64 197h1v1h-1zM66 198h1v1h-1zM69 100h2v1h-2zM70 199h3v1h-3zM72 100h2v1h-2zM76 101h1v1h-1zM76 198h1v1h-1zM78 197h1v1h-1zM81 104h1v1h-1zM82 105h1v1h-1zM82 194h1v1h-1zM83 106h1v1h-1zM83 193h1v1h-1zM84 107h1v1h-1zM86 189h1v1h-1zM89 115h1v1h-1zM91 179h1v1h-1zM92 122h1v1h-1zM93 125h1v1h-1zM94 129h1v1h-1zM94 170h1v1h-1zM95 165h1v1h-1zM96 140h1v2h-1zM96 158h1v1h-1z"/>
<path fill="#8d83c1" d="M46 141h1v1h-1zM46 157h1v2h-1zM47 134h1v1h-1zM47 165h1v1h-1zM48 129h1v1h-1zM48 170h1v1h-1zM51 120h1v1h-1zM51 179h1v1h-1zM55 187h1v1h-1zM56 110h1v1h-1zM59 106h1v1h-1zM60 105h1v1h-1zM63 196h1v1h-1zM64 102h1v1h-1zM66 101h1v1h-1zM67 198h1v1h-1zM71 100h1v1h-1zM75 198h1v1h-1zM78 102h1v1h-1zM79 196h1v1h-1zM85 190h1v1h-1zM86 110h1v1h-1zM87 187h1v1h-1zM88 185h1v1h-1zM89 183h1v1h-1zM90 181h1v1h-1zM91 120h1v1h-1zM92 176h1v1h-1zM93 126h1v1h-1zM93 173h1v1h-1zM94 169h1v1h-1zM95 134h1v1h-1zM96 142h1v2h-1zM96 156h1v2h-1z"/>
<path fill="#8f84c2" d="M46 142h1v2h-1zM46 156h1v1h-1zM47 135h1v1h-1zM47 164h1v1h-1zM48 130h1v1h-1zM48 169h1v1h-1zM49 126h1v1h-1zM49 173h1v1h-1zM50 123h1v1h-1zM50 176h1v1h-1zM52 118h1v1h-1zM52 181h1v1h-1zM53 183h1v1h-1zM54 114h1v1h-1zM54 185h1v1h-1zM55 112h1v1h-1zM57 109h1v1h-1zM57 190h1v1h-1zM62 195h1v1h-1zM63 103h1v1h-1zM65 197h1v1h-1zM67 101h1v1h-1zM68 198h1v1h-1zM74 198h1v1h-1zM75 101h1v1h-1zM77 102h1v1h-1zM77 197h1v1h-1zM79 103h1v1h-1zM80 195h1v1h-1zM84 191h1v1h-1zM85 109h1v1h-1zM87 112h1v1h-1zM88 114h1v1h-1zM89 116h1v1h-1zM90 118h1v1h-1zM92 123h1v1h-1zM94 130h1v1h-1zM95 135h1v1h-1zM95 164h1v1h-1zM96 144h1v2h-1zM96 154h1v2h-1z"/>
<path fill="#9086c3" d="M46 144h1v3h-1zM46 153h1v3h-1zM47 163h1v1h-1zM49 172h1v1h-1zM51 178h1v1h-1zM53 116h1v1h-1zM56 188h1v1h-1zM58 108h1v1h-1zM58 191h1v1h-1zM59 192h1v1h-1zM60 193h1v1h-1zM61 194h1v1h-1zM62 104h1v1h-1zM65 102h1v1h-1zM66 197h1v1h-1zM68 101h1v1h-1zM69 198h5v1h-5zM74 101h1v1h-1zM76 197h1v1h-1zM78 196h1v1h-1zM80 104h1v1h-1zM81 105h1v1h-1zM81 194h1v1h-1zM82 193h1v1h-1zM83 192h1v1h-1zM84 108h1v1h-1zM86 111h1v1h-1zM86 188h1v1h-1zM91 121h1v1h-1zM91 178h1v1h-1zM92 175h1v1h-1zM93 127h1v1h-1zM93 172h1v1h-1zM94 131h1v1h-1zM94 168h1v1h-1zM95 136h1v1h-1zM95 163h1v1h-1zM96 146h1v8h-1z"/>
<path fill="#9287c4" d="M46 147h1v6h-1zM47 136h1v1h-1zM47 162h1v1h-1zM48 131h1v1h-1zM48 168h1v1h-1zM49 127h1v1h-1zM50 124h1v1h-1zM50 175h1v1h-1zM51 121h1v1h-1zM52 180h1v1h-1zM53 182h1v1h-1zM55 186h1v1h-1zM56 111h1v1h-1zM59 107h1v1h-1zM60 106h1v1h-1zM61 105h1v1h-1zM64 103h1v1h-1zM64 196h1v1h-1zM66 102h1v1h-1zM69 101h5v1h-5zM76 102h1v1h-1zM78 103h1v1h-1zM82 106h1v1h-1zM83 107h1v1h-1zM85 189h1v1h-1zM87 113h1v1h-1zM87 186h1v1h-1zM88 184h1v1h-1zM89 117h1v1h-1zM89 182h1v1h-1zM90 119h1v1h-1zM90 180h1v1h-1zM92 124h1v1h-1zM94 167h1v1h-1zM95 137h1v1h-1zM95 162h1v1h-1z"/>
<path fill="#9389c4" d="M47 137h1v1h-1zM47 161h1v1h-1zM48 132h1v1h-1zM48 167h1v1h-1zM49 171h1v1h-1zM52 119h1v1h-1zM53 117h1v1h-1zM54 115h1v1h-1zM54 184h1v1h-1zM55 113h1v1h-1zM57 110h1v1h-1zM57 189h1v1h-1zM63 195h1v1h-1zM65 196h1v1h-1zM67 197h1v1h-1zM75 102h1v1h-1zM75 197h1v1h-1zM77 196h1v1h-1zM79 104h1v1h-1zM79 195h1v1h-1zM84 190h1v1h-1zM85 110h1v1h-1zM88 115h1v1h-1zM91 122h1v1h-1zM91 177h1v1h-1zM92 174h1v1h-1zM93 128h1v1h-1zM93 171h1v1h-1zM94 132h1v1h-1zM95 138h1v1h-1zM95 161h1v1h-1z"/>
<path fill="#958bc5" d="M47 138h1v1h-1zM47 160h1v1h-1zM49 128h1v1h-1zM50 125h1v1h-1zM50 174h1v1h-1zM51 122h1v1h-1zM51 177h1v1h-1zM56 187h1v1h-1zM58 109h1v1h-1zM58 190h1v1h-1zM59 191h1v1h-1zM61 193h1v1h-1zM62 194h1v1h-1zM63 104h1v1h-1zM65 103h1v1h-1zM67 102h1v1h-1zM68 197h1v1h-1zM73 197h2v1h-2zM74 102h1v1h-1zM77 103h1v1h-1zM80 105h1v1h-1zM80 194h1v1h-1zM81 193h1v1h-1zM82 192h1v1h-1zM83 191h1v1h-1zM84 109h1v1h-1zM86 112h1v1h-1zM86 187h1v1h-1zM87 185h1v1h-1zM90 179h1v1h-1zM92 125h1v1h-1zM93 170h1v1h-1zM94 133h1v1h-1zM94 166h1v1h-1zM95 139h1v1h-1zM95 160h1v1h-1z"/>
<path fill="#968cc6" d="M47 139h1v2h-1zM47 159h1v1h-1zM48 133h1v1h-1zM48 166h1v1h-1zM49 129h1v1h-1zM49 170h1v1h-1zM52 120h1v1h-1zM52 179h1v1h-1zM53 181h1v1h-1zM54 183h1v1h-1zM55 114h1v1h-1zM55 185h1v1h-1zM56 112h1v1h-1zM59 108h1v1h-1zM60 107h1v1h-1zM60 192h1v1h-1zM61 106h1v1h-1zM62 105h1v1h-1zM64 195h1v1h-1zM66 196h1v1h-1zM68 102h2v1h-2zM69 197h4v1h-4zM73 102h1v1h-1zM76 196h1v1h-1zM78 195h1v1h-1zM81 106h1v1h-1zM82 107h1v1h-1zM83 108h1v1h-1zM85 188h1v1h-1zM87 114h1v1h-1zM88 116h1v1h-1zM88 183h1v1h-1zM89 118h1v1h-1zM89 181h1v1h-1zM90 120h1v1h-1zM91 176h1v1h-1zM92 173h1v1h-1zM93 129h1v1h-1zM94 165h1v1h-1zM95 140h1v2h-1zM95 158h1v2h-1z"/>
<path fill="#988ec7" d="M47 141h1v1h-1zM47 158h1v1h-1zM48 134h1v1h-1zM48 165h1v1h-1zM50 126h1v1h-1zM50 173h1v1h-1zM51 123h1v1h-1zM51 176h1v1h-1zM53 118h1v1h-1zM54 116h1v1h-1zM57 111h1v1h-1zM57 188h1v1h-1zM63 194h1v1h-1zM64 104h1v1h-1zM66 103h1v1h-1zM70 102h3v1h-3zM75 196h1v1h-1zM76 103h1v1h-1zM78 104h1v1h-1zM79 194h1v1h-1zM84 189h1v1h-1zM85 111h1v1h-1zM86 186h1v1h-1zM91 123h1v1h-1zM92 126h1v1h-1zM93 169h1v1h-1zM94 134h1v1h-1zM95 142h1v1h-1zM95 157h1v1h-1z"/>
<path fill="#998fc8" d="M47 142h1v1h-1zM47 156h1v2h-1zM48 164h1v1h-1zM49 130h1v1h-1zM49 169h1v1h-1zM52 178h1v1h-1zM56 113h1v1h-1zM56 186h1v1h-1zM58 110h1v1h-1zM58 189h1v1h-1zM62 193h1v1h-1zM63 105h1v1h-1zM65 195h1v1h-1zM67 103h1v1h-1zM67 196h1v1h-1zM75 103h1v1h-1zM77 195h1v1h-1zM79 105h1v1h-1zM80 193h1v1h-1zM83 190h1v1h-1zM84 110h1v1h-1zM86 113h1v1h-1zM87 184h1v1h-1zM88 182h1v1h-1zM89 180h1v1h-1zM90 121h1v1h-1zM90 178h1v1h-1zM92 172h1v1h-1zM93 130h1v1h-1zM94 135h1v1h-1zM94 164h1v1h-1zM95 143h1v2h-1zM95 155h1v2h-1z"/>
<path fill="#9b91c8" d="M47 143h1v2h-1zM47 155h1v1h-1zM48 135h1v1h-1zM50 172h1v1h-1zM51 175h1v1h-1zM52 121h1v1h-1zM53 119h1v1h-1zM53 180h1v1h-1zM54 182h1v1h-1zM55 115h1v1h-1zM55 184h1v1h-1zM59 109h1v1h-1zM59 190h1v1h-1zM60 191h1v1h-1zM61 192h1v1h-1zM62 106h1v1h-1zM65 104h1v1h-1zM68 103h1v1h-1zM68 196h2v1h-2zM73 196h2v1h-2zM74 103h1v1h-1zM77 104h1v1h-1zM80 106h1v1h-1zM81 107h1v1h-1zM81 192h1v1h-1zM82 108h1v1h-1zM82 191h1v1h-1zM83 109h1v1h-1zM85 187h1v1h-1zM87 115h1v1h-1zM88 117h1v1h-1zM89 119h1v1h-1zM91 124h1v1h-1zM91 175h1v1h-1zM92 127h1v1h-1zM93 131h1v1h-1zM93 168h1v1h-1zM94 136h1v1h-1zM94 163h1v1h-1zM95 145h1v3h-1zM95 152h1v3h-1z"/>
<path fill="#9c92c9" d="M47 145h1v10h-1zM48 136h1v1h-1zM48 163h1v1h-1zM49 131h1v1h-1zM49 168h1v1h-1zM50 127h1v1h-1zM51 124h1v1h-1zM54 117h1v1h-1zM57 112h1v1h-1zM57 187h1v1h-1zM60 108h1v1h-1zM61 107h1v1h-1zM64 194h1v1h-1zM66 195h1v1h-1zM69 103h1v1h-1zM70 196h3v1h-3zM73 103h1v1h-1zM76 195h1v1h-1zM78 105h1v1h-1zM78 194h1v1h-1zM84 188h1v1h-1zM85 112h1v1h-1zM86 185h1v1h-1zM90 177h1v1h-1zM92 171h1v1h-1zM94 137h1v1h-1zM94 162h1v1h-1zM95 148h1v4h-1z"/>
<path fill="#9e94ca" d="M48 137h1v1h-1zM48 162h1v1h-1zM49 167h1v1h-1zM50 171h1v1h-1zM52 122h1v1h-1zM52 177h1v1h-1zM56 114h1v1h-1zM56 185h1v1h-1zM58 188h1v1h-1zM63 193h1v1h-1zM64 105h1v1h-1zM66 104h1v1h-1zM67 195h1v1h-1zM70 103h3v1h-3zM75 195h1v1h-1zM76 104h1v1h-1zM79 193h1v1h-1zM83 189h1v1h-1zM84 111h1v1h-1zM86 114h1v1h-1zM87 183h1v1h-1zM88 181h1v1h-1zM89 179h1v1h-1zM90 122h1v1h-1zM91 125h1v1h-1zM91 174h1v1h-1zM92 128h1v1h-1zM93 132h1v1h-1zM93 167h1v1h-1zM94 138h1v1h-1zM94 161h1v1h-1z"/>
<path fill="#9f95cb" d="M48 138h1v1h-1zM48 161h1v1h-1zM49 132h1v1h-1zM50 128h1v1h-1zM51 125h1v1h-1zM51 174h1v1h-1zM53 120h1v1h-1zM53 179h1v1h-1zM54 118h1v1h-1zM54 181h1v1h-1zM55 116h1v1h-1zM55 183h1v1h-1zM58 111h1v1h-1zM59 189h1v1h-1zM60 190h1v1h-1zM62 192h1v1h-1zM63 106h1v1h-1zM65 194h1v1h-1zM67 104h1v1h-1zM75 104h1v1h-1zM77 194h1v1h-1zM79 106h1v1h-1zM80 192h1v1h-1zM81 191h1v1h-1zM82 190h1v1h-1zM83 110h1v1h-1zM85 186h1v1h-1zM87 116h1v1h-1zM88 118h1v1h-1zM89 120h1v1h-1zM92 170h1v1h-1zM93 166h1v1h-1zM94 139h1v1h-1zM94 160h1v1h-1z"/>
<path fill="#a197cc" d="M48 139h1v1h-1zM48 160h1v1h-1zM49 133h1v1h-1zM49 166h1v1h-1zM50 170h1v1h-1zM52 176h1v1h-1zM57 113h1v1h-1zM57 186h1v1h-1zM59 110h1v1h-1zM60 109h1v1h-1zM61 108h1v1h-1zM61 191h1v1h-1zM62 107h1v1h-1zM65 105h1v1h-1zM68 104h1v1h-1zM68 195h2v1h-2zM73 195h2v1h-2zM74 104h1v1h-1zM77 105h1v1h-1zM80 107h1v1h-1zM81 108h1v1h-1zM82 109h1v1h-1zM85 113h1v1h-1zM86 184h1v1h-1zM90 123h1v1h-1zM90 176h1v1h-1zM91 173h1v1h-1zM92 129h1v1h-1zM93 133h1v1h-1zM94 140h1v1h-1zM94 159h1v1h-1z"/>
<path fill="#a298cd" d="M48 140h1v1h-1zM48 159h1v1h-1zM50 129h1v1h-1zM51 126h1v1h-1zM51 173h1v1h-1zM52 123h1v1h-1zM53 178h1v1h-1zM56 184h1v1h-1zM58 187h1v1h-1zM64 193h1v1h-1zM66 194h1v1h-1zM69 104h1v1h-1zM70 195h3v1h-3zM73 104h1v1h-1zM76 194h1v1h-1zM78 106h1v1h-1zM78 193h1v1h-1zM84 112h1v1h-1zM84 187h1v1h-1zM86 115h1v1h-1zM87 182h1v1h-1zM88 180h1v1h-1zM89 121h1v1h-1zM89 178h1v1h-1zM91 126h1v1h-1zM92 169h1v1h-1zM93 134h1v1h-1zM93 165h1v1h-1zM94 141h1v1h-1zM94 158h1v1h-1z"/>
<path fill="#a49acd" d="M48 141h1v1h-1zM48 158h1v1h-1zM49 134h1v1h-1zM49 165h1v1h-1zM50 169h1v1h-1zM53 121h1v1h-1zM54 119h1v1h-1zM54 180h1v1h-1zM55 117h1v1h-1zM55 182h1v1h-1zM56 115h1v1h-1zM58 112h1v1h-1zM59 188h1v1h-1zM63 192h1v1h-1zM64 106h1v1h-1zM66 105h1v1h-1zM67 194h1v1h-1zM70 104h3v1h-3zM75 194h1v1h-1zM76 105h1v1h-1zM79 192h1v1h-1zM82 189h1v1h-1zM83 111h1v1h-1zM83 188h1v1h-1zM85 185h1v1h-1zM87 117h1v1h-1zM88 119h1v1h-1zM90 175h1v1h-1zM91 172h1v1h-1zM92 130h1v1h-1zM93 164h1v1h-1zM94 142h1v1h-1zM94 157h1v1h-1z"/>
<path fill="#a59bce" d="M48 142h1v1h-1zM48 157h1v1h-1zM49 135h1v1h-1zM49 164h1v1h-1zM50 130h1v1h-1zM51 172h1v1h-1zM52 124h1v1h-1zM52 175h1v1h-1zM57 185h1v1h-1zM59 111h1v1h-1zM60 189h1v1h-1zM61 190h1v1h-1zM62 191h1v1h-1zM63 107h1v1h-1zM65 193h1v1h-1zM67 105h1v1h-1zM75 105h1v1h-1zM77 193h1v1h-1zM79 107h1v1h-1zM80 108h1v1h-1zM80 191h1v1h-1zM81 109h1v1h-1zM81 190h1v1h-1zM82 110h1v1h-1zM85 114h1v1h-1zM86 183h1v1h-1zM90 124h1v1h-1zM91 127h1v1h-1zM92 168h1v1h-1zM93 135h1v1h-1zM94 143h1v2h-1zM94 155h1v2h-1z"/>
<path fill="#a79dcf" d="M48 143h1v2h-1zM48 155h1v2h-1zM49 163h1v1h-1zM50 131h1v1h-1zM50 168h1v1h-1zM51 127h1v1h-1zM53 177h1v1h-1zM56 183h1v1h-1zM57 114h1v1h-1zM58 186h1v1h-1zM60 110h1v1h-1zM61 109h1v1h-1zM62 108h1v1h-1zM65 106h1v1h-1zM68 194h1v1h-1zM74 105h1v1h-1zM74 194h1v1h-1zM77 106h1v1h-1zM84 186h1v1h-1zM86 116h1v1h-1zM87 181h1v1h-1zM88 179h1v1h-1zM89 122h1v1h-1zM89 177h1v1h-1zM92 131h1v1h-1zM93 136h1v1h-1zM93 163h1v1h-1zM94 145h1v2h-1zM94 153h1v2h-1z"/>
<path fill="#a89fd0" d="M48 145h1v3h-1zM48 152h1v3h-1zM49 136h1v1h-1zM51 171h1v1h-1zM53 122h1v1h-1zM54 179h1v1h-1zM55 118h1v1h-1zM55 181h1v1h-1zM56 116h1v1h-1zM58 113h1v1h-1zM64 192h1v1h-1zM66 193h1v1h-1zM68 105h1v1h-1zM69 194h5v1h-5zM73 105h1v1h-1zM76 193h1v1h-1zM78 107h1v1h-1zM78 192h1v1h-1zM83 187h1v1h-1zM84 113h1v1h-1zM87 118h1v1h-1zM88 120h1v1h-1zM90 125h1v1h-1zM90 174h1v1h-1zM91 128h1v1h-1zM91 171h1v1h-1zM92 167h1v1h-1zM93 137h1v1h-1zM93 162h1v1h-1zM94 147h1v6h-1z"/>
<path fill="#aaa0d1" d="M48 148h1v4h-1zM49 137h1v1h-1zM49 162h1v1h-1zM50 132h1v1h-1zM50 167h1v1h-1zM51 128h1v1h-1zM52 125h1v1h-1zM52 174h1v1h-1zM54 120h1v1h-1zM57 184h1v1h-1zM59 112h1v1h-1zM59 187h1v1h-1zM60 188h1v1h-1zM63 191h1v1h-1zM64 107h1v1h-1zM66 106h1v1h-1zM69 105h4v1h-4zM76 106h1v1h-1zM79 191h1v1h-1zM80 190h1v1h-1zM81 189h1v1h-1zM82 188h1v1h-1zM83 112h1v1h-1zM85 115h1v1h-1zM85 184h1v1h-1zM89 176h1v1h-1zM92 132h1v1h-1zM93 161h1v1h-1z"/>
<path fill="#aba2d1" d="M49 138h1v1h-1zM49 161h1v1h-1zM53 176h1v1h-1zM56 182h1v1h-1zM57 115h1v1h-1zM60 111h1v1h-1zM61 110h1v1h-1zM61 189h1v1h-1zM62 109h1v1h-1zM62 190h1v1h-1zM63 108h1v1h-1zM65 192h1v1h-1zM67 193h1v1h-1zM75 106h1v1h-1zM75 193h1v1h-1zM77 192h1v1h-1zM79 108h1v1h-1zM80 109h1v1h-1zM81 110h1v1h-1zM82 111h1v1h-1zM84 185h1v1h-1zM86 117h1v1h-1zM86 182h1v1h-1zM87 180h1v1h-1zM88 178h1v1h-1zM89 123h1v1h-1zM90 173h1v1h-1zM91 129h1v1h-1zM91 170h1v1h-1zM92 133h1v1h-1zM92 166h1v1h-1zM93 138h1v1h-1zM93 160h1v1h-1z"/>
<path fill="#ada3d2" d="M49 160h1v1h-1zM50 133h1v1h-1zM50 166h1v1h-1zM51 129h1v1h-1zM51 170h1v1h-1zM52 173h1v1h-1zM53 123h1v1h-1zM54 178h1v1h-1zM55 180h1v1h-1zM56 117h1v1h-1zM58 185h1v1h-1zM65 107h1v1h-1zM67 106h1v1h-1zM68 193h1v1h-1zM74 193h1v1h-1zM77 107h1v1h-1zM84 114h1v1h-1zM87 119h1v1h-1zM88 121h1v1h-1zM90 126h1v1h-1zM93 139h1v1h-1z"/>
<path fill="#aea5d3" d="M49 139h1v1h-1zM49 159h1v1h-1zM52 126h1v1h-1zM54 121h1v1h-1zM55 119h1v1h-1zM58 114h1v1h-1zM59 186h1v1h-1zM64 191h1v1h-1zM66 192h1v1h-1zM68 106h1v1h-1zM69 193h1v1h-1zM73 193h1v1h-1zM74 106h1v1h-1zM76 192h1v1h-1zM78 108h1v1h-1zM78 191h1v1h-1zM83 113h1v1h-1zM83 186h1v1h-1zM85 183h1v1h-1zM89 175h1v1h-1zM91 130h1v1h-1zM91 169h1v1h-1zM92 134h1v1h-1zM92 165h1v1h-1zM93 140h1v1h-1zM93 159h1v1h-1z"/>
<path fill="#b0a6d4" d="M49 140h1v1h-1zM49 158h1v1h-1zM50 134h1v1h-1zM50 165h1v1h-1zM51 130h1v1h-1zM51 169h1v1h-1zM53 124h1v1h-1zM53 175h1v1h-1zM57 116h1v1h-1zM57 183h1v1h-1zM59 113h1v1h-1zM60 187h1v1h-1zM61 188h1v1h-1zM62 189h1v1h-1zM63 190h1v1h-1zM64 108h1v1h-1zM66 107h1v1h-1zM69 106h2v1h-2zM70 193h3v1h-3zM72 106h2v1h-2zM76 107h1v1h-1zM79 109h1v1h-1zM79 190h1v1h-1zM80 189h1v1h-1zM81 188h1v1h-1zM82 112h1v1h-1zM82 187h1v1h-1zM85 116h1v1h-1zM86 181h1v1h-1zM88 177h1v1h-1zM89 124h1v1h-1zM90 127h1v1h-1zM90 172h1v1h-1zM92 164h1v1h-1zM93 141h1v1h-1zM93 157h1v2h-1z"/>
<path fill="#b1a8d5" d="M49 141h1v1h-1zM49 157h1v1h-1zM50 164h1v1h-1zM52 127h1v1h-1zM52 172h1v1h-1zM54 177h1v1h-1zM55 179h1v1h-1zM56 118h1v1h-1zM56 181h1v1h-1zM58 184h1v1h-1zM60 112h1v1h-1zM61 111h1v1h-1zM62 110h1v1h-1zM63 109h1v1h-1zM65 191h1v1h-1zM67 192h1v1h-1zM71 106h1v1h-1zM75 192h1v1h-1zM77 191h1v1h-1zM80 110h1v1h-1zM81 111h1v1h-1zM84 184h1v1h-1zM86 118h1v1h-1zM87 120h1v1h-1zM87 179h1v1h-1zM88 122h1v1h-1zM91 168h1v1h-1zM92 135h1v1h-1zM93 142h1v2h-1zM93 156h1v1h-1z"/>
<path fill="#b2aad5" d="M49 142h1v2h-1zM49 156h1v1h-1zM50 135h1v1h-1zM51 131h1v1h-1zM51 168h1v1h-1zM54 122h1v1h-1zM55 120h1v1h-1zM58 115h1v1h-1zM65 108h1v1h-1zM67 107h1v1h-1zM68 192h1v1h-1zM74 192h1v1h-1zM75 107h1v1h-1zM77 108h1v1h-1zM83 185h1v1h-1zM84 115h1v1h-1zM85 182h1v1h-1zM89 174h1v1h-1zM90 171h1v1h-1zM91 131h1v1h-1zM92 136h1v1h-1zM92 163h1v1h-1zM93 144h1v1h-1zM93 155h1v1h-1z"/>
<path fill="#b4abd6" d="M49 144h1v1h-1zM49 154h1v2h-1zM50 136h1v1h-1zM50 163h1v1h-1zM52 171h1v1h-1zM53 125h1v1h-1zM53 174h1v1h-1zM57 182h1v1h-1zM59 185h1v1h-1zM64 190h1v1h-1zM68 107h1v1h-1zM73 192h1v1h-1zM74 107h1v1h-1zM78 109h1v1h-1zM78 190h1v1h-1zM82 186h1v1h-1zM83 114h1v1h-1zM85 117h1v1h-1zM88 176h1v1h-1zM89 125h1v1h-1zM90 128h1v1h-1zM91 167h1v1h-1zM92 162h1v1h-1zM93 145h1v3h-1zM93 152h1v3h-1z"/>
<path fill="#b5add7" d="M49 145h1v3h-1zM49 152h1v2h-1zM50 162h1v1h-1zM51 132h1v1h-1zM51 167h1v1h-1zM52 128h1v1h-1zM54 176h1v1h-1zM56 180h1v1h-1zM57 117h1v1h-1zM59 114h1v1h-1zM60 186h1v1h-1zM61 187h1v1h-1zM62 188h1v1h-1zM63 189h1v1h-1zM64 109h1v1h-1zM66 191h1v1h-1zM69 107h1v1h-1zM69 192h4v1h-4zM73 107h1v1h-1zM76 108h1v1h-1zM76 191h1v1h-1zM79 110h1v1h-1zM79 189h1v1h-1zM80 188h1v1h-1zM81 187h1v1h-1zM82 113h1v1h-1zM84 183h1v1h-1zM86 119h1v1h-1zM86 180h1v1h-1zM87 178h1v1h-1zM88 123h1v1h-1zM91 132h1v1h-1zM92 137h1v1h-1zM93 148h1v4h-1z"/>
<path fill="#b7aed8" d="M49 148h1v4h-1zM50 137h1v1h-1zM54 123h1v1h-1zM55 121h1v1h-1zM55 178h1v1h-1zM56 119h1v1h-1zM58 183h1v1h-1zM60 113h1v1h-1zM61 112h1v1h-1zM62 111h1v1h-1zM63 110h1v1h-1zM66 108h1v1h-1zM70 107h3v1h-3zM75 191h1v1h-1zM77 190h1v1h-1zM80 111h1v1h-1zM81 112h1v1h-1zM84 116h1v1h-1zM87 121h1v1h-1zM89 126h1v1h-1zM89 173h1v1h-1zM90 129h1v1h-1zM90 170h1v1h-1zM91 166h1v1h-1zM92 138h1v1h-1zM92 161h1v1h-1z"/>
<path fill="#b8b0d9" d="M50 138h1v1h-1zM50 161h1v1h-1zM51 133h1v1h-1zM51 166h1v1h-1zM52 129h1v1h-1zM52 170h1v1h-1zM53 126h1v1h-1zM53 173h1v1h-1zM58 116h1v1h-1zM65 109h1v1h-1zM65 190h1v1h-1zM67 108h1v1h-1zM67 191h1v1h-1zM75 108h1v1h-1zM77 109h1v1h-1zM83 184h1v1h-1zM85 181h1v1h-1zM88 175h1v1h-1zM91 133h1v1h-1zM92 139h1v1h-1zM92 160h1v1h-1z"/>
<path fill="#bab2d9" d="M50 139h1v1h-1zM50 160h1v1h-1zM54 175h1v1h-1zM57 118h1v1h-1zM57 181h1v1h-1zM59 115h1v1h-1zM59 184h1v1h-1zM64 189h1v1h-1zM68 191h1v1h-1zM74 191h1v1h-1zM78 189h1v1h-1zM82 185h1v1h-1zM83 115h1v1h-1zM85 118h1v1h-1zM86 179h1v1h-1zM87 177h1v1h-1zM88 124h1v1h-1zM89 172h1v1h-1zM90 169h1v1h-1zM91 165h1v1h-1zM92 159h1v1h-1z"/>
<path fill="#bbb3da" d="M50 159h1v1h-1zM51 134h1v1h-1zM51 165h1v1h-1zM52 130h1v1h-1zM52 169h1v1h-1zM53 172h1v1h-1zM54 124h1v1h-1zM55 177h1v1h-1zM56 120h1v1h-1zM56 179h1v1h-1zM60 114h1v1h-1zM60 185h1v1h-1zM61 186h1v1h-1zM62 187h1v1h-1zM63 188h1v1h-1zM64 110h1v1h-1zM66 190h1v1h-1zM68 108h1v1h-1zM69 191h1v1h-1zM73 191h1v1h-1zM74 108h1v1h-1zM76 190h1v1h-1zM78 110h1v1h-1zM79 111h1v1h-1zM79 188h1v1h-1zM80 187h1v1h-1zM81 186h1v1h-1zM82 114h1v1h-1zM84 182h1v1h-1zM86 120h1v1h-1zM87 122h1v1h-1zM89 127h1v1h-1zM90 130h1v1h-1zM91 134h1v1h-1zM92 140h1v1h-1z"/>
<path fill="#bdb5db" d="M50 140h1v1h-1zM50 158h1v1h-1zM53 127h1v1h-1zM55 122h1v1h-1zM58 117h1v1h-1zM58 182h1v1h-1zM61 113h1v1h-1zM62 112h1v1h-1zM63 111h1v1h-1zM66 109h1v1h-1zM69 108h1v1h-1zM70 191h3v1h-3zM73 108h1v1h-1zM76 109h1v1h-1zM80 112h1v1h-1zM81 113h1v1h-1zM84 117h1v1h-1zM88 174h1v1h-1zM90 168h1v1h-1zM91 135h1v1h-1zM91 164h1v1h-1zM92 141h1v1h-1zM92 158h1v1h-1z"/>
<path fill="#beb6dc" d="M50 141h1v1h-1zM50 157h1v1h-1zM51 135h1v1h-1zM51 164h1v1h-1zM52 168h1v1h-1zM54 174h1v1h-1zM57 180h1v1h-1zM59 183h1v1h-1zM65 189h1v1h-1zM67 190h1v1h-1zM70 108h3v1h-3zM75 190h1v1h-1zM77 110h1v1h-1zM77 189h1v1h-1zM83 183h1v1h-1zM85 180h1v1h-1zM87 176h1v1h-1zM88 125h1v1h-1zM89 171h1v1h-1zM90 131h1v1h-1zM92 142h1v1h-1zM92 156h1v2h-1z"/>
<path fill="#c0b8dd" d="M50 142h1v1h-1zM50 156h1v1h-1zM52 131h1v1h-1zM53 171h1v1h-1zM54 125h1v1h-1zM55 176h1v1h-1zM56 178h1v1h-1zM57 119h1v1h-1zM59 116h1v1h-1zM64 188h1v1h-1zM65 110h1v1h-1zM67 109h1v1h-1zM68 190h1v1h-1zM74 190h1v1h-1zM75 109h1v1h-1zM78 188h1v1h-1zM82 184h1v1h-1zM83 116h1v1h-1zM85 119h1v1h-1zM86 121h1v1h-1zM86 178h1v1h-1zM87 123h1v1h-1zM89 128h1v1h-1zM91 136h1v1h-1zM91 163h1v1h-1zM92 143h1v2h-1zM92 155h1v1h-1z"/>
<path fill="#c1badd" d="M50 143h1v2h-1zM50 155h1v1h-1zM51 136h1v1h-1zM51 163h1v1h-1zM53 128h1v1h-1zM55 123h1v1h-1zM56 121h1v1h-1zM60 115h1v1h-1zM60 184h1v1h-1zM61 185h1v1h-1zM63 187h1v1h-1zM64 111h1v1h-1zM66 189h1v1h-1zM68 109h1v1h-1zM73 190h1v1h-1zM74 109h1v1h-1zM76 189h1v1h-1zM78 111h1v1h-1zM79 187h1v1h-1zM80 186h1v1h-1zM81 185h1v1h-1zM82 115h1v1h-1zM84 181h1v1h-1zM88 173h1v1h-1zM90 132h1v1h-1zM90 167h1v1h-1zM91 162h1v1h-1zM92 145h1v2h-1zM92 153h1v2h-1z"/>
<path fill="#c3bbde" d="M50 145h1v2h-1zM50 153h1v2h-1zM51 162h1v1h-1zM52 132h1v1h-1zM52 167h1v1h-1zM54 173h1v1h-1zM58 118h1v1h-1zM58 181h1v1h-1zM61 114h1v1h-1zM62 113h1v1h-1zM62 186h1v1h-1zM63 112h1v1h-1zM66 110h1v1h-1zM69 109h1v1h-1zM69 190h4v1h-4zM73 109h1v1h-1zM76 110h1v1h-1zM79 112h1v1h-1zM80 113h1v1h-1zM81 114h1v1h-1zM84 118h1v1h-1zM88 126h1v1h-1zM89 129h1v1h-1zM89 170h1v1h-1zM91 137h1v1h-1zM92 147h1v6h-1z"/>
<path fill="#c4bddf" d="M50 147h1v6h-1zM51 137h1v1h-1zM53 129h1v1h-1zM53 170h1v1h-1zM54 126h1v1h-1zM57 179h1v1h-1zM59 182h1v1h-1zM65 188h1v1h-1zM67 189h1v1h-1zM70 109h3v1h-3zM75 189h1v1h-1zM77 188h1v1h-1zM83 182h1v1h-1zM85 120h1v1h-1zM85 179h1v1h-1zM86 177h1v1h-1zM87 124h1v1h-1zM87 175h1v1h-1zM90 133h1v1h-1zM90 166h1v1h-1zM91 138h1v1h-1zM91 161h1v1h-1z"/>
<path fill="#c6bee0" d="M51 138h1v1h-1zM51 161h1v1h-1zM52 133h1v1h-1zM52 166h1v1h-1zM55 124h1v1h-1zM55 175h1v1h-1zM56 177h1v1h-1zM57 120h1v1h-1zM59 117h1v1h-1zM65 111h1v1h-1zM67 110h1v1h-1zM75 110h1v1h-1zM77 111h1v1h-1zM78 187h1v1h-1zM82 183h1v1h-1zM83 117h1v1h-1zM86 122h1v1h-1zM88 172h1v1h-1zM89 169h1v1h-1zM91 160h1v1h-1z"/>
<path fill="#c7c0e1" d="M51 160h1v1h-1zM53 169h1v1h-1zM54 172h1v1h-1zM56 122h1v1h-1zM60 116h1v1h-1zM60 183h1v1h-1zM61 184h1v1h-1zM63 186h1v1h-1zM64 112h1v1h-1zM64 187h1v1h-1zM68 189h1v1h-1zM74 189h1v1h-1zM78 112h1v1h-1zM79 186h1v1h-1zM80 185h1v1h-1zM81 184h1v1h-1zM82 116h1v1h-1zM84 180h1v1h-1zM88 127h1v1h-1zM89 130h1v1h-1zM90 134h1v1h-1zM90 165h1v1h-1zM91 139h1v1h-1z"/>
<path fill="#c9c2e1" d="M51 139h1v1h-1zM52 134h1v1h-1zM52 165h1v1h-1zM53 130h1v1h-1zM54 127h1v1h-1zM58 119h1v1h-1zM58 180h1v1h-1zM61 115h1v1h-1zM62 185h1v1h-1zM63 113h1v1h-1zM66 188h1v1h-1zM68 110h1v1h-1zM69 189h1v1h-1zM73 189h1v1h-1zM74 110h1v1h-1zM76 111h1v1h-1zM76 188h1v1h-1zM79 113h1v1h-1zM80 114h1v1h-1zM81 115h1v1h-1zM84 119h1v1h-1zM85 178h1v1h-1zM87 174h1v1h-1zM91 140h1v1h-1zM91 159h1v1h-1z"/>
<path fill="#cac3e2" d="M51 140h1v1h-1zM51 159h1v1h-1zM55 125h1v1h-1zM55 174h1v1h-1zM56 176h1v1h-1zM57 178h1v1h-1zM59 181h1v1h-1zM62 114h1v1h-1zM66 111h1v1h-1zM69 110h1v1h-1zM70 189h3v1h-3zM73 110h1v1h-1zM77 187h1v1h-1zM83 181h1v1h-1zM85 121h1v1h-1zM86 123h1v1h-1zM86 176h1v1h-1zM87 125h1v1h-1zM88 171h1v1h-1zM89 168h1v1h-1zM90 135h1v1h-1zM90 164h1v1h-1zM91 141h1v1h-1zM91 158h1v1h-1z"/>
<path fill="#cbc5e3" d="M51 141h1v1h-1zM51 158h1v1h-1zM52 135h1v1h-1zM52 164h1v1h-1zM53 131h1v1h-1zM53 168h1v1h-1zM54 171h1v1h-1zM56 123h1v1h-1zM57 121h1v1h-1zM59 118h1v1h-1zM65 187h1v1h-1zM67 188h1v1h-1zM70 110h3v1h-3zM75 188h1v1h-1zM77 112h1v1h-1zM82 182h1v1h-1zM83 118h1v1h-1zM88 128h1v1h-1zM89 131h1v1h-1zM91 142h1v1h-1zM91 157h1v1h-1z"/>
<path fill="#cdc6e4" d="M51 142h1v1h-1zM51 157h1v1h-1zM54 128h1v1h-1zM60 182h1v1h-1zM64 186h1v1h-1zM65 112h1v1h-1zM67 111h1v1h-1zM74 188h1v1h-1zM75 111h1v1h-1zM78 186h1v1h-1zM79 185h1v1h-1zM81 183h1v1h-1zM82 117h1v1h-1zM84 179h1v1h-1zM87 173h1v1h-1zM89 167h1v1h-1zM90 136h1v1h-1zM90 163h1v1h-1zM91 143h1v1h-1zM91 156h1v1h-1z"/>
<path fill="#cec8e5" d="M51 143h1v1h-1zM51 156h1v1h-1zM52 136h1v1h-1zM52 163h1v1h-1zM53 167h1v1h-1zM55 173h1v1h-1zM58 120h1v1h-1zM58 179h1v1h-1zM60 117h1v1h-1zM61 183h1v1h-1zM62 184h1v1h-1zM63 185h1v1h-1zM64 113h1v1h-1zM66 187h1v1h-1zM68 188h1v1h-1zM74 111h1v1h-1zM76 187h1v1h-1zM78 113h1v1h-1zM79 114h1v1h-1zM80 184h1v1h-1zM81 116h1v1h-1zM84 120h1v1h-1zM85 177h1v1h-1zM86 175h1v1h-1zM87 126h1v1h-1zM88 170h1v1h-1zM89 132h1v1h-1zM91 144h1v1h-1zM91 155h1v1h-1z"/>
<path fill="#d0cae5" d="M51 144h1v1h-1zM51 155h1v1h-1zM53 132h1v1h-1zM54 170h1v1h-1zM55 126h1v1h-1zM56 175h1v1h-1zM57 177h1v1h-1zM61 116h1v1h-1zM62 115h1v1h-1zM63 114h1v1h-1zM66 112h1v1h-1zM68 111h1v1h-1zM69 188h1v1h-1zM73 188h1v1h-1zM76 112h1v1h-1zM80 115h1v1h-1zM83 180h1v1h-1zM85 122h1v1h-1zM86 124h1v1h-1zM88 129h1v1h-1zM90 137h1v1h-1zM90 162h1v1h-1zM91 145h1v2h-1zM91 153h1v2h-1z"/>
<path fill="#d1cbe6" d="M51 145h1v2h-1zM51 153h1v2h-1zM52 137h1v1h-1zM52 162h1v1h-1zM54 129h1v1h-1zM56 124h1v1h-1zM57 122h1v1h-1zM59 180h1v1h-1zM65 186h1v1h-1zM69 111h1v1h-1zM70 188h3v1h-3zM72 111h2v1h-2zM75 187h1v1h-1zM77 186h1v1h-1zM83 119h1v1h-1zM89 133h1v1h-1zM89 166h1v1h-1zM90 161h1v1h-1zM91 147h1v6h-1z"/>
<path fill="#d3cde7" d="M51 147h1v6h-1zM52 161h1v1h-1zM53 133h1v1h-1zM53 166h1v1h-1zM55 172h1v1h-1zM59 119h1v1h-1zM60 181h1v1h-1zM65 113h1v1h-1zM67 187h1v1h-1zM70 111h2v1h-2zM75 112h1v1h-1zM77 113h1v1h-1zM78 185h1v1h-1zM82 181h1v1h-1zM84 178h1v1h-1zM87 127h1v1h-1zM87 172h1v1h-1zM88 169h1v1h-1zM90 138h1v1h-1z"/>
<path fill="#d4cfe8" d="M52 138h1v1h-1zM54 169h1v1h-1zM55 127h1v1h-1zM58 178h1v1h-1zM60 118h1v1h-1zM61 182h1v1h-1zM63 184h1v1h-1zM64 185h1v1h-1zM67 112h1v1h-1zM68 187h1v1h-1zM74 187h1v1h-1zM78 114h1v1h-1zM79 184h1v1h-1zM80 183h1v1h-1zM81 117h1v1h-1zM81 182h1v1h-1zM82 118h1v1h-1zM84 121h1v1h-1zM85 176h1v1h-1zM86 125h1v1h-1zM86 174h1v1h-1zM88 130h1v1h-1zM89 165h1v1h-1zM90 139h1v1h-1zM90 160h1v1h-1z"/>
<path fill="#d6d0e9" d="M52 139h1v1h-1zM52 160h1v1h-1zM53 165h1v1h-1zM54 130h1v1h-1zM56 125h1v1h-1zM56 174h1v1h-1zM57 123h1v1h-1zM57 176h1v1h-1zM58 121h1v1h-1zM61 117h1v1h-1zM62 116h1v1h-1zM62 183h1v1h-1zM63 115h1v1h-1zM64 114h1v1h-1zM66 186h1v1h-1zM68 112h1v1h-1zM74 112h1v1h-1zM76 186h1v1h-1zM79 115h1v1h-1zM80 116h1v1h-1zM83 179h1v1h-1zM85 123h1v1h-1zM89 134h1v1h-1z"/>
<path fill="#d7d2e9" d="M53 134h1v1h-1zM59 179h1v1h-1zM66 113h1v1h-1zM69 187h2v1h-2zM72 187h2v1h-2zM76 113h1v1h-1zM83 120h1v1h-1zM87 128h1v1h-1zM87 171h1v1h-1zM88 131h1v1h-1zM88 168h1v1h-1zM89 164h1v1h-1zM90 140h1v1h-1zM90 159h1v1h-1z"/>
<path fill="#d9d4ea" d="M52 140h1v1h-1zM52 159h1v1h-1zM53 164h1v1h-1zM54 131h1v1h-1zM54 168h1v1h-1zM55 128h1v1h-1zM55 171h1v1h-1zM59 120h1v1h-1zM65 185h1v1h-1zM67 186h1v1h-1zM69 112h2v1h-2zM71 187h1v1h-1zM72 112h2v1h-2zM75 186h1v1h-1zM77 185h1v1h-1zM82 180h1v1h-1zM84 177h1v1h-1zM86 173h1v1h-1zM89 135h1v1h-1zM90 141h1v1h-1zM90 158h1v1h-1z"/>
<path fill="#dad5eb" d="M52 141h1v1h-1zM52 158h1v1h-1zM53 135h1v1h-1zM56 173h1v1h-1zM58 177h1v1h-1zM60 180h1v1h-1zM64 184h1v1h-1zM65 114h1v1h-1zM67 113h1v1h-1zM71 112h1v1h-1zM75 113h1v1h-1zM77 114h1v1h-1zM78 184h1v1h-1zM81 181h1v1h-1zM82 119h1v1h-1zM84 122h1v1h-1zM85 175h1v1h-1zM86 126h1v1h-1zM89 163h1v1h-1zM90 142h1v1h-1zM90 157h1v1h-1z"/>
<path fill="#dcd7ec" d="M52 142h1v1h-1zM52 157h1v1h-1zM53 163h1v1h-1zM54 167h1v1h-1zM56 126h1v1h-1zM57 124h1v1h-1zM57 175h1v1h-1zM58 122h1v1h-1zM60 119h1v1h-1zM61 181h1v1h-1zM62 182h1v1h-1zM63 183h1v1h-1zM64 115h1v1h-1zM68 186h1v1h-1zM74 186h1v1h-1zM78 115h1v1h-1zM79 116h1v1h-1zM79 183h1v1h-1zM80 117h1v1h-1zM80 182h1v1h-1zM81 118h1v1h-1zM85 124h1v1h-1zM87 129h1v1h-1zM87 170h1v1h-1zM88 132h1v1h-1zM88 167h1v1h-1zM89 136h1v1h-1zM90 143h1v1h-1zM90 156h1v1h-1z"/>
<path fill="#ddd8ed" d="M52 143h1v1h-1zM52 156h1v1h-1zM53 136h1v1h-1zM54 132h1v1h-1zM55 129h1v1h-1zM55 170h1v1h-1zM59 178h1v1h-1zM61 118h1v1h-1zM62 117h1v1h-1zM63 116h1v1h-1zM66 185h1v1h-1zM68 113h1v1h-1zM74 113h1v1h-1zM76 185h1v1h-1zM83 178h1v1h-1zM89 162h1v1h-1zM90 144h1v1h-1zM90 155h1v1h-1z"/>
<path fill="#dfdaed" d="M52 144h1v1h-1zM52 155h1v1h-1zM53 162h1v1h-1zM59 121h1v1h-1zM66 114h1v1h-1zM69 186h2v1h-2zM72 186h2v1h-2zM76 114h1v1h-1zM77 184h1v1h-1zM83 121h1v1h-1zM84 176h1v1h-1zM86 127h1v1h-1zM86 172h1v1h-1zM88 166h1v1h-1zM89 137h1v1h-1zM90 145h1v1h-1zM90 154h1v1h-1z"/>
<path fill="#e0dcee" d="M52 145h1v1h-1zM52 154h1v1h-1zM53 137h1v1h-1zM54 166h1v1h-1zM56 127h1v1h-1zM56 172h1v1h-1zM57 174h1v1h-1zM58 176h1v1h-1zM60 179h1v1h-1zM65 184h1v1h-1zM67 185h1v1h-1zM69 113h2v1h-2zM71 186h1v1h-1zM72 113h2v1h-2zM75 185h1v1h-1zM77 115h1v1h-1zM82 120h1v1h-1zM82 179h1v1h-1zM84 123h1v1h-1zM85 125h1v1h-1zM85 174h1v1h-1zM87 130h1v1h-1zM87 169h1v1h-1zM88 133h1v1h-1zM89 161h1v1h-1zM90 146h1v3h-1zM90 151h1v3h-1z"/>
<path fill="#e2ddef" d="M52 146h1v3h-1zM52 151h1v3h-1zM53 161h1v1h-1zM54 133h1v1h-1zM55 130h1v1h-1zM55 169h1v1h-1zM57 125h1v1h-1zM58 123h1v1h-1zM60 120h1v1h-1zM61 180h1v1h-1zM64 183h1v1h-1zM65 115h1v1h-1zM67 114h1v1h-1zM71 113h1v1h-1zM75 114h1v1h-1zM78 183h1v1h-1zM79 182h1v1h-1zM80 181h1v1h-1zM81 180h1v1h-1zM89 138h1v1h-1zM90 149h1v2h-1z"/>
<path fill="#e3dff0" d="M52 149h1v2h-1zM53 138h1v1h-1zM61 119h1v1h-1zM62 181h1v1h-1zM63 182h1v1h-1zM64 116h1v1h-1zM68 185h1v1h-1zM74 185h1v1h-1zM78 116h1v1h-1zM79 117h1v1h-1zM80 118h1v1h-1zM81 119h1v1h-1zM83 177h1v1h-1zM86 171h1v1h-1zM88 134h1v1h-1zM88 165h1v1h-1zM89 139h1v1h-1zM89 160h1v1h-1z"/>
<path fill="#e4e1f1" d="M53 139h1v1h-1zM53 160h1v1h-1zM54 134h1v1h-1zM54 165h1v1h-1zM56 171h1v1h-1zM59 177h1v1h-1zM62 118h1v1h-1zM63 117h1v1h-1zM66 184h1v1h-1zM68 114h1v1h-1zM74 114h1v1h-1zM76 184h1v1h-1zM83 122h1v1h-1zM84 175h1v1h-1zM85 173h1v1h-1zM86 128h1v1h-1zM87 131h1v1h-1zM87 168h1v1h-1z"/>
<path fill="#e6e2f1" d="M55 131h1v1h-1zM55 168h1v1h-1zM56 128h1v1h-1zM57 173h1v1h-1zM58 175h1v1h-1zM59 122h1v1h-1zM66 115h1v1h-1zM69 185h1v1h-1zM72 185h2v1h-2zM76 115h1v1h-1zM77 183h1v1h-1zM82 178h1v1h-1zM84 124h1v1h-1zM85 126h1v1h-1zM88 135h1v1h-1zM88 164h1v1h-1zM89 140h1v1h-1zM89 159h1v1h-1z"/>
<path fill="#e7e4f2" d="M53 140h1v1h-1zM53 159h1v1h-1zM54 135h1v1h-1zM54 164h1v1h-1zM57 126h1v1h-1zM58 124h1v1h-1zM60 178h1v1h-1zM65 183h1v1h-1zM67 184h1v1h-1zM69 114h1v1h-1zM70 185h2v1h-2zM72 114h2v1h-2zM75 184h1v1h-1zM77 116h1v1h-1zM78 182h1v1h-1zM82 121h1v1h-1zM89 141h1v1h-1zM89 158h1v1h-1z"/>
<path fill="#e9e6f3" d="M53 141h1v1h-1zM53 158h1v1h-1zM56 170h1v1h-1zM60 121h1v1h-1zM61 179h1v1h-1zM64 182h1v1h-1zM65 116h1v1h-1zM67 115h1v1h-1zM70 114h2v1h-2zM75 115h1v1h-1zM79 181h1v1h-1zM80 180h1v1h-1zM81 120h1v1h-1zM81 179h1v1h-1zM83 176h1v1h-1zM86 129h1v1h-1zM86 170h1v1h-1zM87 132h1v1h-1zM87 167h1v1h-1zM88 163h1v1h-1zM89 157h1v1h-1z"/>
<path fill="#eae7f4" d="M54 163h1v1h-1zM55 132h1v1h-1zM55 167h1v1h-1zM56 129h1v1h-1zM59 176h1v1h-1zM61 120h1v1h-1zM62 180h1v1h-1zM63 181h1v1h-1zM64 117h1v1h-1zM68 184h1v1h-1zM74 184h1v1h-1zM78 117h1v1h-1zM79 118h1v1h-1zM80 119h1v1h-1zM83 123h1v1h-1zM84 174h1v1h-1zM85 172h1v1h-1zM88 136h1v1h-1zM89 142h1v1h-1z"/>
<path fill="#ece9f5" d="M53 142h1v1h-1zM53 157h1v1h-1zM54 136h1v1h-1zM57 172h1v1h-1zM58 174h1v1h-1zM59 123h1v1h-1zM62 119h1v1h-1zM63 118h1v1h-1zM66 183h1v1h-1zM68 115h1v1h-1zM74 115h1v1h-1zM76 183h1v1h-1zM84 125h1v1h-1zM85 127h1v1h-1zM88 162h1v1h-1zM89 143h1v1h-1zM89 156h1v1h-1z"/>
<path fill="#edebf5" d="M53 143h1v1h-1zM53 156h1v1h-1zM54 162h1v1h-1zM55 166h1v1h-1zM57 127h1v1h-1zM58 125h1v1h-1zM60 177h1v1h-1zM66 116h1v1h-1zM69 184h1v1h-1zM73 184h1v1h-1zM76 116h1v1h-1zM77 182h1v1h-1zM82 177h1v1h-1zM86 130h1v1h-1zM86 169h1v1h-1zM87 133h1v1h-1zM87 166h1v1h-1zM88 137h1v1h-1zM89 144h1v1h-1zM89 154h1v2h-1z"/>
<path fill="#efecf6" d="M53 144h1v1h-1zM53 155h1v1h-1zM54 137h1v1h-1zM55 133h1v1h-1zM56 130h1v1h-1zM56 169h1v1h-1zM60 122h1v1h-1zM65 182h1v1h-1zM69 115h1v1h-1zM70 184h3v1h-3zM73 115h1v1h-1zM75 183h1v1h-1zM77 117h1v1h-1zM81 178h1v1h-1zM82 122h1v1h-1zM88 161h1v1h-1zM89 145h1v2h-1zM89 153h1v1h-1z"/>
<path fill="#f0eef7" d="M53 145h1v2h-1zM53 153h1v2h-1zM54 161h1v1h-1zM57 171h1v1h-1zM59 175h1v1h-1zM61 178h1v1h-1zM64 181h1v1h-1zM65 117h1v1h-1zM67 183h1v1h-1zM70 115h3v1h-3zM75 116h1v1h-1zM78 181h1v1h-1zM79 180h1v1h-1zM80 179h1v1h-1zM81 121h1v1h-1zM83 124h1v1h-1zM83 175h1v1h-1zM84 173h1v1h-1zM85 128h1v1h-1zM85 171h1v1h-1zM87 165h1v1h-1zM88 138h1v1h-1zM89 147h1v6h-1z"/>
<path fill="#f2f0f8" d="M53 147h1v6h-1zM54 138h1v1h-1zM55 165h1v1h-1zM57 128h1v1h-1zM58 173h1v1h-1zM59 124h1v1h-1zM61 121h1v1h-1zM62 179h1v1h-1zM63 180h1v1h-1zM64 118h1v1h-1zM67 116h1v1h-1zM74 183h1v1h-1zM78 118h1v1h-1zM79 119h1v1h-1zM80 120h1v1h-1zM84 126h1v1h-1zM86 168h1v1h-1zM87 134h1v1h-1zM88 160h1v1h-1z"/>
<path fill="#f3f1f9" d="M54 160h1v1h-1zM55 134h1v1h-1zM56 168h1v1h-1zM58 126h1v1h-1zM62 120h1v1h-1zM63 119h1v1h-1zM66 182h1v1h-1zM68 183h1v1h-1zM74 116h1v1h-1zM76 182h1v1h-1zM82 176h1v1h-1zM86 131h1v1h-1zM88 139h1v1h-1z"/>
<path fill="#f5f3f9" d="M54 139h1v1h-1zM56 131h1v1h-1zM60 176h1v1h-1zM66 117h1v1h-1zM68 116h1v1h-1zM69 183h1v1h-1zM73 183h1v1h-1zM76 117h1v1h-1zM82 123h1v1h-1zM85 170h1v1h-1zM87 135h1v1h-1zM87 164h1v1h-1zM88 140h1v1h-1zM88 159h1v1h-1z"/>
<path fill="#f6f5fa" d="M54 140h1v1h-1zM54 159h1v1h-1zM55 135h1v1h-1zM55 164h1v1h-1zM57 170h1v1h-1zM60 123h1v1h-1zM65 181h1v1h-1zM69 116h1v1h-1zM70 183h3v1h-3zM73 116h1v1h-1zM75 182h1v1h-1zM77 181h1v1h-1zM81 177h1v1h-1zM83 174h1v1h-1zM84 172h1v1h-1zM85 129h1v1h-1zM86 167h1v1h-1z"/>
<path fill="#f8f7fb" d="M56 167h1v1h-1zM57 129h1v1h-1zM58 172h1v1h-1zM59 125h1v1h-1zM59 174h1v1h-1zM61 177h1v1h-1zM64 180h1v1h-1zM65 118h1v1h-1zM67 182h1v1h-1zM70 116h3v1h-3zM77 118h1v1h-1zM78 180h1v1h-1zM79 179h1v1h-1zM80 178h1v1h-1zM81 122h1v1h-1zM83 125h1v1h-1zM84 127h1v1h-1zM86 132h1v1h-1zM87 163h1v1h-1zM88 141h1v1h-1zM88 158h1v1h-1z"/>
<path fill="#f9f8fc" d="M54 141h1v1h-1zM54 158h1v1h-1zM55 163h1v1h-1zM56 132h1v1h-1zM58 127h1v1h-1zM61 122h1v1h-1zM62 178h1v1h-1zM63 179h1v1h-1zM64 119h1v1h-1zM67 117h1v1h-1zM75 117h1v1h-1zM78 119h1v1h-1zM79 120h1v1h-1zM80 121h1v1h-1zM87 136h1v1h-1zM88 142h1v1h-1zM88 157h1v1h-1z"/>
<path fill="#fbfafd" d="M54 142h1v1h-1zM54 157h1v1h-1zM55 136h1v1h-1zM60 175h1v1h-1zM62 121h1v1h-1zM63 120h1v1h-1zM66 181h1v1h-1zM68 182h1v1h-1zM74 182h1v1h-1zM76 181h1v1h-1zM82 175h1v1h-1zM85 130h1v1h-1zM85 169h1v1h-1zM86 166h1v1h-1zM88 156h1v1h-1z"/>
<path fill="#fcfcfd" d="M54 156h1v1h-1zM56 166h1v1h-1zM57 130h1v1h-1zM57 169h1v1h-1zM60 124h1v1h-1zM68 117h1v1h-1zM69 182h1v1h-1zM73 182h1v1h-1zM74 117h1v1h-1zM76 118h1v1h-1zM82 124h1v1h-1zM83 173h1v1h-1zM84 171h1v1h-1zM86 133h1v1h-1zM87 137h1v1h-1zM87 162h1v1h-1zM88 143h1v1h-1zM88 155h1v1h-1z"/>
<path fill="#fefdfe" d="M54 143h1v1h-1zM55 137h1v1h-1zM55 162h1v1h-1zM56 133h1v1h-1zM58 171h1v1h-1zM59 173h1v1h-1zM61 176h1v1h-1zM65 180h1v1h-1zM66 118h1v1h-1zM70 182h1v1h-1zM72 182h1v1h-1zM73 117h1v1h-1zM77 180h1v1h-1zM81 176h1v1h-1zM83 126h1v1h-1zM84 128h1v1h-1zM88 144h1v1h-1zM88 154h1v1h-1z"/>
<path fill="#ffffff" d="M54 144h1v1h-1zM54 154h1v2h-1zM58 128h1v1h-1zM59 126h1v1h-1zM61 123h1v1h-1zM67 181h1v1h-1zM69 117h1v1h-1zM71 182h1v1h-1zM72 117h1v1h-1zM75 181h1v1h-1zM77 119h1v1h-1zM78 179h1v1h-1zM80 177h1v1h-1zM81 123h1v1h-1zM85 168h1v1h-1zM86 134h1v1h-1zM86 165h1v1h-1zM87 138h1v1h-1zM87 161h1v1h-1zM88 145h1v2h-1zM88 153h1v1h-1z"/>
<path fill="#fefdfd" d="M54 145h1v2h-1zM54 153h1v1h-1zM55 138h1v1h-1zM55 161h1v1h-1zM56 134h1v1h-1zM56 165h1v1h-1zM57 168h1v1h-1zM62 177h1v1h-1zM63 178h1v1h-1zM64 179h1v1h-1zM65 119h1v1h-1zM67 118h1v1h-1zM70 117h2v1h-2zM75 118h1v1h-1zM78 120h1v1h-1zM79 178h1v1h-1zM80 122h1v1h-1zM82 174h1v1h-1zM85 131h1v1h-1zM88 147h1v6h-1z"/>
<path fill="#fdfbfb" d="M54 147h1v6h-1zM57 131h1v1h-1zM60 174h1v1h-1zM62 122h1v1h-1zM63 121h1v1h-1zM64 120h1v1h-1zM74 181h1v1h-1zM79 121h1v1h-1zM82 125h1v1h-1zM83 172h1v1h-1zM84 170h1v1h-1zM87 139h1v1h-1zM87 160h1v1h-1z"/>
<path fill="#fdfaf9" d="M55 139h1v1h-1zM55 160h1v1h-1zM58 129h1v1h-1zM58 170h1v1h-1zM59 172h1v1h-1zM60 125h1v1h-1zM66 180h1v1h-1zM68 181h1v1h-1zM76 180h1v1h-1zM81 175h1v1h-1zM83 127h1v1h-1zM84 129h1v1h-1zM85 167h1v1h-1zM86 135h1v1h-1zM86 164h1v1h-1z"/>
<path fill="#fcf8f7" d="M56 135h1v1h-1zM56 164h1v1h-1zM57 167h1v1h-1zM59 127h1v1h-1zM61 175h1v1h-1zM66 119h1v1h-1zM68 118h1v1h-1zM69 181h1v1h-1zM73 181h1v1h-1zM74 118h1v1h-1zM76 119h1v1h-1zM81 124h1v1h-1zM85 132h1v1h-1zM87 140h1v1h-1zM87 159h1v1h-1z"/>
<path fill="#fbf6f5" d="M55 140h1v1h-1zM55 159h1v1h-1zM57 132h1v1h-1zM61 124h1v1h-1zM65 179h1v1h-1zM69 118h1v1h-1zM70 181h3v1h-3zM73 118h1v1h-1zM77 179h1v1h-1zM80 176h1v1h-1zM84 169h1v1h-1zM86 163h1v1h-1zM87 158h1v1h-1z"/>
<path fill="#faf4f3" d="M55 158h1v1h-1zM56 163h1v1h-1zM58 169h1v1h-1zM60 173h1v1h-1zM62 176h1v1h-1zM63 177h1v1h-1zM64 178h1v1h-1zM65 120h1v1h-1zM67 180h1v1h-1zM70 118h1v1h-1zM72 118h1v1h-1zM75 180h1v1h-1zM77 120h1v1h-1zM78 178h1v1h-1zM79 177h1v1h-1zM80 123h1v1h-1zM82 126h1v1h-1zM82 173h1v1h-1zM83 171h1v1h-1zM84 130h1v1h-1zM86 136h1v1h-1zM87 141h1v1h-1z"/>
<path fill="#faf2f2" d="M55 141h1v1h-1zM56 136h1v1h-1zM58 130h1v1h-1zM59 171h1v1h-1zM60 126h1v1h-1zM62 123h1v1h-1zM63 122h1v1h-1zM64 121h1v1h-1zM67 119h1v1h-1zM71 118h1v1h-1zM75 119h1v1h-1zM78 121h1v1h-1zM79 122h1v1h-1zM83 128h1v1h-1zM85 133h1v1h-1zM85 166h1v1h-1zM87 142h1v1h-1zM87 157h1v1h-1z"/>
<path fill="#f9f1f0" d="M55 142h1v1h-1zM55 157h1v1h-1zM57 133h1v1h-1zM57 166h1v1h-1zM59 128h1v1h-1zM68 180h1v1h-1zM74 180h1v1h-1zM76 179h1v1h-1zM81 174h1v1h-1zM86 137h1v1h-1zM86 162h1v1h-1zM87 143h1v1h-1zM87 156h1v1h-1z"/>
<path fill="#f8efee" d="M55 156h1v1h-1zM56 137h1v1h-1zM56 162h1v1h-1zM61 174h1v1h-1zM66 179h1v1h-1zM68 119h1v1h-1zM74 119h1v1h-1zM76 120h1v1h-1zM81 125h1v1h-1zM84 168h1v1h-1zM87 155h1v1h-1z"/>
<path fill="#f7edec" d="M55 143h1v1h-1zM55 155h1v1h-1zM58 168h1v1h-1zM61 125h1v1h-1zM65 178h1v1h-1zM66 120h1v1h-1zM69 180h1v1h-1zM73 180h1v1h-1zM77 178h1v1h-1zM80 175h1v1h-1zM82 172h1v1h-1zM83 170h1v1h-1zM84 131h1v1h-1zM85 134h1v1h-1zM85 165h1v1h-1zM86 161h1v1h-1zM87 144h1v1h-1zM87 154h1v1h-1z"/>
<path fill="#f6ebea" d="M55 144h1v1h-1zM55 154h1v1h-1zM56 161h1v1h-1zM57 134h1v1h-1zM57 165h1v1h-1zM58 131h1v1h-1zM59 170h1v1h-1zM60 127h1v1h-1zM60 172h1v1h-1zM62 124h1v1h-1zM62 175h1v1h-1zM63 176h1v1h-1zM64 177h1v1h-1zM65 121h1v1h-1zM69 119h1v1h-1zM70 180h3v1h-3zM73 119h1v1h-1zM75 179h1v1h-1zM77 121h1v1h-1zM78 177h1v1h-1zM79 176h1v1h-1zM80 124h1v1h-1zM82 127h1v1h-1zM83 129h1v1h-1zM86 138h1v1h-1zM87 145h1v2h-1zM87 153h1v1h-1z"/>
<path fill="#f6eae8" d="M55 145h1v2h-1zM55 153h1v1h-1zM56 138h1v1h-1zM59 129h1v1h-1zM63 123h1v1h-1zM64 122h1v1h-1zM67 179h1v1h-1zM70 119h3v1h-3zM78 122h1v1h-1zM79 123h1v1h-1zM86 160h1v1h-1zM87 147h1v6h-1z"/>
<path fill="#f5e8e6" d="M55 147h1v2h-1zM55 151h1v2h-1zM56 160h1v1h-1zM58 167h1v1h-1zM61 173h1v1h-1zM67 120h1v1h-1zM75 120h1v1h-1zM81 173h1v1h-1zM84 132h1v1h-1zM84 167h1v1h-1zM85 135h1v1h-1zM85 164h1v1h-1zM86 139h1v1h-1z"/>
<path fill="#f4e6e4" d="M55 149h1v2h-1zM56 139h1v1h-1zM57 135h1v1h-1zM57 164h1v1h-1zM58 132h1v1h-1zM61 126h1v1h-1zM66 178h1v1h-1zM68 179h1v1h-1zM74 179h1v1h-1zM76 178h1v1h-1zM81 126h1v1h-1zM82 171h1v1h-1zM83 169h1v1h-1zM86 159h1v1h-1z"/>
<path fill="#f3e4e2" d="M56 159h1v1h-1zM59 169h1v1h-1zM60 171h1v1h-1zM62 174h1v1h-1zM66 121h1v1h-1zM68 120h1v1h-1zM74 120h1v1h-1zM76 121h1v1h-1zM77 177h1v1h-1zM80 174h1v1h-1zM82 128h1v1h-1zM83 130h1v1h-1zM85 163h1v1h-1zM86 140h1v1h-1z"/>
<path fill="#f2e3e0" d="M56 140h1v1h-1zM57 163h1v1h-1zM59 130h1v1h-1zM60 128h1v1h-1zM62 125h1v1h-1zM63 175h1v1h-1zM65 177h1v1h-1zM69 179h1v1h-1zM73 179h1v1h-1zM77 122h1v1h-1zM78 176h1v1h-1zM79 175h1v1h-1zM80 125h1v1h-1zM84 166h1v1h-1zM85 136h1v1h-1zM86 141h1v1h-1zM86 158h1v1h-1z"/>
<path fill="#f2e1df" d="M56 141h1v1h-1zM56 158h1v1h-1zM57 136h1v1h-1zM58 166h1v1h-1zM63 124h1v1h-1zM64 176h1v1h-1zM65 122h1v1h-1zM67 178h1v1h-1zM69 120h1v1h-1zM70 179h3v1h-3zM73 120h1v1h-1zM75 178h1v1h-1zM78 123h1v1h-1zM79 124h1v1h-1zM81 172h1v1h-1zM84 133h1v1h-1z"/>
<path fill="#f1dfdd" d="M58 133h1v1h-1zM61 172h1v1h-1zM64 123h1v1h-1zM67 121h1v1h-1zM70 120h3v1h-3zM75 121h1v1h-1zM81 127h1v1h-1zM82 170h1v1h-1zM83 168h1v1h-1zM85 137h1v1h-1zM85 162h1v1h-1zM86 142h1v1h-1zM86 157h1v1h-1z"/>
<path fill="#f0dddb" d="M56 142h1v1h-1zM56 157h1v1h-1zM57 137h1v1h-1zM57 162h1v1h-1zM59 168h1v1h-1zM60 170h1v1h-1zM61 127h1v1h-1zM76 177h1v1h-1zM82 129h1v1h-1zM83 131h1v1h-1zM84 165h1v1h-1zM86 143h1v1h-1zM86 156h1v1h-1z"/>
<path fill="#efdbd9" d="M56 156h1v1h-1zM58 165h1v1h-1zM59 131h1v1h-1zM60 129h1v1h-1zM62 173h1v1h-1zM66 177h1v1h-1zM68 178h1v1h-1zM74 178h1v1h-1zM80 126h1v1h-1zM80 173h1v1h-1zM84 134h1v1h-1zM85 161h1v1h-1zM86 155h1v1h-1z"/>
<path fill="#eedad7" d="M56 143h1v1h-1zM56 155h1v1h-1zM57 161h1v1h-1zM58 134h1v1h-1zM62 126h1v1h-1zM63 174h1v1h-1zM65 176h1v1h-1zM66 122h1v1h-1zM68 121h1v1h-1zM73 178h1v1h-1zM74 121h1v1h-1zM76 122h1v1h-1zM77 176h1v1h-1zM78 175h1v1h-1zM79 174h1v1h-1zM85 138h1v1h-1zM86 144h1v1h-1zM86 154h1v1h-1z"/>
<path fill="#edd8d5" d="M56 144h1v1h-1zM57 138h1v1h-1zM59 167h1v1h-1zM61 171h1v1h-1zM63 125h1v1h-1zM64 175h1v1h-1zM65 123h1v1h-1zM69 178h1v1h-1zM77 123h1v1h-1zM78 124h1v1h-1zM79 125h1v1h-1zM81 171h1v1h-1zM82 169h1v1h-1zM83 132h1v1h-1zM83 167h1v1h-1zM84 164h1v1h-1zM86 145h1v2h-1zM86 153h1v1h-1z"/>
<path fill="#edd6d3" d="M56 145h1v1h-1zM56 153h1v2h-1zM58 164h1v1h-1zM59 132h1v1h-1zM60 169h1v1h-1zM61 128h1v1h-1zM64 124h1v1h-1zM67 177h1v1h-1zM69 121h1v1h-1zM70 178h3v1h-3zM73 121h1v1h-1zM75 177h1v1h-1zM81 128h1v1h-1zM82 130h1v1h-1zM84 135h1v1h-1zM85 139h1v1h-1zM85 160h1v1h-1zM86 147h1v2h-1zM86 151h1v2h-1z"/>
<path fill="#ecd4d1" d="M56 146h1v2h-1zM56 152h1v1h-1zM57 139h1v1h-1zM57 160h1v1h-1zM58 135h1v1h-1zM60 130h1v1h-1zM67 122h1v1h-1zM70 121h3v1h-3zM75 122h1v1h-1zM80 172h1v1h-1zM86 149h1v2h-1z"/>
<path fill="#ebd3d0" d="M56 148h1v4h-1zM62 172h1v1h-1zM66 176h1v1h-1zM74 177h1v1h-1zM76 176h1v1h-1zM80 127h1v1h-1zM83 166h1v1h-1zM84 163h1v1h-1zM85 140h1v1h-1zM85 159h1v1h-1z"/>
<path fill="#ead1ce" d="M57 140h1v1h-1zM57 159h1v1h-1zM58 163h1v1h-1zM59 166h1v1h-1zM62 127h1v1h-1zM63 173h1v1h-1zM66 123h1v1h-1zM68 177h1v1h-1zM76 123h1v1h-1zM77 175h1v1h-1zM79 173h1v1h-1zM81 170h1v1h-1zM82 168h1v1h-1zM83 133h1v1h-1zM84 136h1v1h-1z"/>
<path fill="#e9cfcc" d="M58 136h1v1h-1zM59 133h1v1h-1zM60 168h1v1h-1zM61 170h1v1h-1zM63 126h1v1h-1zM64 174h1v1h-1zM65 175h1v1h-1zM68 122h1v1h-1zM69 177h1v1h-1zM73 177h1v1h-1zM74 122h1v1h-1zM77 124h1v1h-1zM78 174h1v1h-1zM79 126h1v1h-1zM81 129h1v1h-1zM82 131h1v1h-1zM85 141h1v1h-1zM85 158h1v1h-1z"/>
<path fill="#e8cdca" d="M57 141h1v1h-1zM57 158h1v1h-1zM60 131h1v1h-1zM61 129h1v1h-1zM64 125h1v1h-1zM65 124h1v1h-1zM72 177h1v1h-1zM73 122h1v1h-1zM75 176h1v1h-1zM78 125h1v1h-1zM84 162h1v1h-1zM85 157h1v1h-1z"/>
<path fill="#e8ccc8" d="M58 162h1v1h-1zM59 165h1v1h-1zM67 176h1v1h-1zM69 122h1v1h-1zM70 177h2v1h-2zM80 171h1v1h-1zM83 134h1v1h-1zM83 165h1v1h-1zM84 137h1v1h-1zM85 142h1v1h-1z"/>
<path fill="#e7cac6" d="M57 142h1v1h-1zM57 157h1v1h-1zM58 137h1v1h-1zM59 134h1v1h-1zM62 171h1v1h-1zM67 123h1v1h-1zM70 122h3v1h-3zM75 123h1v1h-1zM76 175h1v1h-1zM80 128h1v1h-1zM81 169h1v1h-1zM82 167h1v1h-1zM85 143h1v1h-1zM85 156h1v1h-1z"/>
<path fill="#e6c8c4" d="M57 143h1v1h-1zM57 156h1v1h-1zM60 167h1v1h-1zM61 169h1v1h-1zM62 128h1v1h-1zM63 172h1v1h-1zM66 175h1v1h-1zM68 176h1v1h-1zM74 176h1v1h-1zM79 172h1v1h-1zM81 130h1v1h-1zM82 132h1v1h-1zM84 138h1v1h-1zM84 161h1v1h-1zM85 155h1v1h-1z"/>
<path fill="#e5c7c3" d="M57 155h1v1h-1zM58 138h1v1h-1zM58 161h1v1h-1zM60 132h1v1h-1zM61 130h1v1h-1zM63 127h1v1h-1zM64 173h1v1h-1zM65 174h1v1h-1zM66 124h1v1h-1zM68 123h1v1h-1zM74 123h1v1h-1zM76 124h1v1h-1zM77 174h1v1h-1zM78 173h1v1h-1zM79 127h1v1h-1zM83 135h1v1h-1zM83 164h1v1h-1zM85 144h1v1h-1zM85 154h1v1h-1z"/>
<path fill="#e4c5c1" d="M57 144h1v1h-1zM59 135h1v1h-1zM59 164h1v1h-1zM64 126h1v1h-1zM65 125h1v1h-1zM69 176h1v1h-1zM73 176h1v1h-1zM77 125h1v1h-1zM78 126h1v1h-1zM80 170h1v1h-1zM84 139h1v1h-1zM84 160h1v1h-1zM85 145h1v1h-1zM85 153h1v1h-1z"/>
<path fill="#e3c3bf" d="M57 145h1v1h-1zM57 153h1v2h-1zM58 160h1v1h-1zM62 170h1v1h-1zM67 175h1v1h-1zM69 123h1v1h-1zM70 176h1v1h-1zM72 176h1v1h-1zM73 123h1v1h-1zM75 175h1v1h-1zM80 129h1v1h-1zM82 166h1v1h-1zM85 146h1v2h-1zM85 152h1v1h-1z"/>
<path fill="#e2c1bd" d="M57 146h1v2h-1zM57 152h1v1h-1zM58 139h1v1h-1zM60 166h1v1h-1zM61 168h1v1h-1zM62 129h1v1h-1zM67 124h1v1h-1zM71 176h1v1h-1zM72 123h1v1h-1zM75 124h1v1h-1zM81 131h1v1h-1zM81 168h1v1h-1zM82 133h1v1h-1zM83 136h1v1h-1zM83 163h1v1h-1zM84 159h1v1h-1zM85 148h1v4h-1z"/>
<path fill="#e2c0bb" d="M57 148h1v4h-1zM58 159h1v1h-1zM59 136h1v1h-1zM59 163h1v1h-1zM60 133h1v1h-1zM61 131h1v1h-1zM63 171h1v1h-1zM66 174h1v1h-1zM70 123h2v1h-2zM76 174h1v1h-1zM79 171h1v1h-1zM84 140h1v1h-1z"/>
<path fill="#e1beb9" d="M58 140h1v1h-1zM63 128h1v1h-1zM64 172h1v1h-1zM65 173h1v1h-1zM66 125h1v1h-1zM68 175h1v1h-1zM74 175h1v1h-1zM76 125h1v1h-1zM77 173h1v1h-1zM78 172h1v1h-1zM79 128h1v1h-1zM84 158h1v1h-1z"/>
<path fill="#e0bcb8" d="M58 158h1v1h-1zM60 165h1v1h-1zM64 127h1v1h-1zM65 126h1v1h-1zM68 124h1v1h-1zM74 124h1v1h-1zM77 126h1v1h-1zM78 127h1v1h-1zM80 169h1v1h-1zM82 134h1v1h-1zM82 165h1v1h-1zM83 137h1v1h-1zM83 162h1v1h-1zM84 141h1v1h-1z"/>
<path fill="#dfbab6" d="M58 141h1v1h-1zM59 137h1v1h-1zM59 162h1v1h-1zM60 134h1v1h-1zM61 167h1v1h-1zM62 169h1v1h-1zM69 175h1v1h-1zM73 175h1v1h-1zM80 130h1v1h-1zM81 132h1v1h-1zM81 167h1v1h-1zM84 142h1v1h-1zM84 157h1v1h-1z"/>
<path fill="#deb9b4" d="M58 157h1v1h-1zM61 132h1v1h-1zM62 130h1v1h-1zM67 174h1v1h-1zM69 124h1v1h-1zM70 175h1v1h-1zM72 175h1v1h-1zM73 124h1v1h-1zM75 174h1v1h-1zM79 170h1v1h-1z"/>
<path fill="#ddb7b2" d="M58 142h1v1h-1zM63 170h1v1h-1zM67 125h1v1h-1zM70 124h1v1h-1zM71 175h1v1h-1zM72 124h1v1h-1zM75 125h1v1h-1zM76 173h1v1h-1zM79 129h1v1h-1zM82 164h1v1h-1zM83 138h1v1h-1zM83 161h1v1h-1zM84 143h1v1h-1zM84 156h1v1h-1z"/>
<path fill="#dcb5b0" d="M58 143h1v1h-1zM58 156h1v1h-1zM59 138h1v1h-1zM59 161h1v1h-1zM60 164h1v1h-1zM63 129h1v1h-1zM64 171h1v1h-1zM65 172h1v1h-1zM66 173h1v1h-1zM71 124h1v1h-1zM74 174h1v1h-1zM76 126h1v1h-1zM77 172h1v1h-1zM78 171h1v1h-1zM80 168h1v1h-1zM81 166h1v1h-1zM82 135h1v1h-1zM84 144h1v1h-1zM84 155h1v1h-1z"/>
<path fill="#dbb4af" d="M58 144h1v1h-1zM58 155h1v1h-1zM60 135h1v1h-1zM61 166h1v1h-1zM62 168h1v1h-1zM64 128h1v1h-1zM65 127h1v1h-1zM66 126h1v1h-1zM68 174h1v1h-1zM77 127h1v1h-1zM78 128h1v1h-1zM80 131h1v1h-1zM81 133h1v1h-1zM83 160h1v1h-1zM84 154h1v1h-1z"/>
<path fill="#dab2ad" d="M58 154h1v1h-1zM59 160h1v1h-1zM61 133h1v1h-1zM62 131h1v1h-1zM68 125h1v1h-1zM74 125h1v1h-1zM82 163h1v1h-1zM83 139h1v1h-1zM84 145h1v2h-1zM84 153h1v1h-1z"/>
<path fill="#dab0ab" d="M58 145h1v2h-1zM58 153h1v1h-1zM59 139h1v1h-1zM60 163h1v1h-1zM67 173h1v1h-1zM69 174h1v1h-1zM73 174h1v1h-1zM75 173h1v1h-1zM79 169h1v1h-1zM82 136h1v1h-1zM83 159h1v1h-1zM84 147h1v1h-1zM84 151h1v2h-1z"/>
<path fill="#d9aea9" d="M58 147h1v1h-1zM58 152h1v1h-1zM59 159h1v1h-1zM60 136h1v1h-1zM63 130h1v1h-1zM63 169h1v1h-1zM67 126h1v1h-1zM69 125h1v1h-1zM70 174h3v1h-3zM73 125h1v1h-1zM75 126h1v1h-1zM78 170h1v1h-1zM79 130h1v1h-1zM80 167h1v1h-1zM81 165h1v1h-1zM83 140h1v1h-1zM84 148h1v3h-1z"/>
<path fill="#d8ada7" d="M58 148h1v4h-1zM59 140h1v1h-1zM61 165h1v1h-1zM62 167h1v1h-1zM64 170h1v1h-1zM66 172h1v1h-1zM70 125h3v1h-3zM76 172h1v1h-1zM77 171h1v1h-1zM78 129h1v1h-1zM80 132h1v1h-1zM81 134h1v1h-1zM82 162h1v1h-1z"/>
<path fill="#d7aba6" d="M60 162h1v1h-1zM61 134h1v1h-1zM62 132h1v1h-1zM64 129h1v1h-1zM65 171h1v1h-1zM66 127h1v1h-1zM68 173h1v1h-1zM74 173h1v1h-1zM76 127h1v1h-1zM77 128h1v1h-1zM82 137h1v1h-1zM83 141h1v1h-1zM83 158h1v1h-1z"/>
<path fill="#d6a9a4" d="M59 141h1v1h-1zM59 158h1v1h-1zM60 137h1v1h-1zM65 128h1v1h-1zM68 126h1v1h-1zM74 126h1v1h-1zM79 168h1v1h-1zM83 157h1v1h-1z"/>
<path fill="#d5a8a2" d="M59 157h1v1h-1zM63 168h1v1h-1zM69 173h1v1h-1zM73 173h1v1h-1zM75 172h1v1h-1zM79 131h1v1h-1zM80 166h1v1h-1zM81 135h1v1h-1zM81 164h1v1h-1zM82 161h1v1h-1zM83 142h1v1h-1z"/>
<path fill="#d4a6a0" d="M59 142h1v1h-1zM60 161h1v1h-1zM61 135h1v1h-1zM61 164h1v1h-1zM62 166h1v1h-1zM63 131h1v1h-1zM67 172h1v1h-1zM69 126h1v1h-1zM70 173h1v1h-1zM72 173h1v1h-1zM73 126h1v1h-1zM75 127h1v1h-1zM78 169h1v1h-1zM80 133h1v1h-1zM82 138h1v1h-1zM83 143h1v1h-1zM83 156h1v1h-1z"/>
<path fill="#d3a49e" d="M59 143h1v1h-1zM59 156h1v1h-1zM60 138h1v1h-1zM62 133h1v1h-1zM64 169h1v1h-1zM66 171h1v1h-1zM67 127h1v1h-1zM71 173h1v1h-1zM76 171h1v1h-1zM77 170h1v1h-1zM78 130h1v1h-1z"/>
<path fill="#d2a39d" d="M64 130h1v1h-1zM65 129h1v1h-1zM65 170h1v1h-1zM66 128h1v1h-1zM70 126h3v1h-3zM74 172h1v1h-1zM76 128h1v1h-1zM77 129h1v1h-1zM81 163h1v1h-1zM82 139h1v1h-1zM82 160h1v1h-1zM83 144h1v1h-1zM83 155h1v1h-1z"/>
<path fill="#d1a19b" d="M59 144h1v1h-1zM59 155h1v1h-1zM60 139h1v1h-1zM60 160h1v1h-1zM61 163h1v1h-1zM63 167h1v1h-1zM68 172h1v1h-1zM74 127h1v1h-1zM79 132h1v1h-1zM79 167h1v1h-1zM80 165h1v1h-1zM81 136h1v1h-1zM83 145h1v1h-1zM83 154h1v1h-1z"/>
<path fill="#d09f99" d="M59 145h1v1h-1zM59 154h1v1h-1zM61 136h1v1h-1zM62 165h1v1h-1zM63 132h1v1h-1zM68 127h1v1h-1zM80 134h1v1h-1zM82 159h1v1h-1zM83 146h1v1h-1zM83 153h1v1h-1z"/>
<path fill="#cf9d97" d="M59 146h1v1h-1zM59 153h1v1h-1zM60 159h1v1h-1zM62 134h1v1h-1zM64 168h1v1h-1zM67 171h1v1h-1zM69 172h1v1h-1zM73 172h1v1h-1zM75 171h1v1h-1zM78 168h1v1h-1zM81 162h1v1h-1zM82 140h1v1h-1zM83 147h1v6h-1z"/>
<path fill="#ce9c96" d="M59 147h1v6h-1zM60 140h1v1h-1zM61 162h1v1h-1zM64 131h1v1h-1zM65 169h1v1h-1zM66 170h1v1h-1zM67 128h1v1h-1zM69 127h1v1h-1zM70 172h3v1h-3zM73 127h1v1h-1zM75 128h1v1h-1zM76 170h1v1h-1zM77 169h1v1h-1zM78 131h1v1h-1zM81 137h1v1h-1zM82 158h1v1h-1z"/>
<path fill="#cd9a94" d="M60 158h1v1h-1zM61 137h1v1h-1zM63 166h1v1h-1zM65 130h1v1h-1zM66 129h1v1h-1zM70 127h1v1h-1zM72 127h1v1h-1zM76 129h1v1h-1zM77 130h1v1h-1zM79 166h1v1h-1zM80 164h1v1h-1zM82 141h1v1h-1z"/>
<path fill="#cd9892" d="M60 141h1v1h-1zM62 135h1v1h-1zM62 164h1v1h-1zM63 133h1v1h-1zM68 171h1v1h-1zM71 127h1v1h-1zM74 171h1v1h-1zM79 133h1v1h-1zM80 135h1v1h-1zM81 161h1v1h-1zM82 157h1v1h-1z"/>
<path fill="#cc9790" d="M60 157h1v1h-1zM61 161h1v1h-1zM68 128h1v1h-1zM74 128h1v1h-1zM78 167h1v1h-1zM81 138h1v1h-1zM82 142h1v1h-1z"/>
<path fill="#cb958f" d="M60 142h1v1h-1zM61 138h1v1h-1zM64 167h1v1h-1zM67 170h1v1h-1zM69 171h1v1h-1zM73 171h1v1h-1zM75 170h1v1h-1zM78 132h1v1h-1zM80 163h1v1h-1zM82 156h1v1h-1z"/>
<path fill="#ca938d" d="M60 143h1v1h-1zM60 156h1v1h-1zM62 163h1v1h-1zM63 165h1v1h-1zM64 132h1v1h-1zM65 168h1v1h-1zM66 169h1v1h-1zM67 129h1v1h-1zM69 128h1v1h-1zM70 171h1v1h-1zM72 171h1v1h-1zM73 128h1v1h-1zM75 129h1v1h-1zM76 169h1v1h-1zM77 131h1v1h-1zM77 168h1v1h-1zM79 165h1v1h-1zM80 136h1v1h-1zM81 139h1v1h-1zM81 160h1v1h-1zM82 143h1v1h-1z"/>
<path fill="#c9928b" d="M61 139h1v1h-1zM61 160h1v1h-1zM62 136h1v1h-1zM63 134h1v1h-1zM65 131h1v1h-1zM66 130h1v1h-1zM71 171h1v1h-1zM72 128h1v1h-1zM76 130h1v1h-1zM79 134h1v1h-1zM82 144h1v1h-1zM82 155h1v1h-1z"/>
<path fill="#c89089" d="M60 144h1v1h-1zM60 155h1v1h-1zM68 170h1v1h-1zM70 128h2v1h-2zM74 170h1v1h-1zM78 166h1v1h-1zM81 159h1v1h-1zM82 145h1v1h-1zM82 154h1v1h-1z"/>
<path fill="#c78e88" d="M60 145h1v1h-1zM60 154h1v1h-1zM61 159h1v1h-1zM62 162h1v1h-1zM64 166h1v1h-1zM68 129h1v1h-1zM74 129h1v1h-1zM78 133h1v1h-1zM80 137h1v1h-1zM80 162h1v1h-1zM81 140h1v1h-1zM82 146h1v1h-1zM82 153h1v1h-1z"/>
<path fill="#c68d86" d="M60 146h1v1h-1zM60 153h1v1h-1zM61 140h1v1h-1zM62 137h1v1h-1zM63 164h1v1h-1zM64 133h1v1h-1zM67 169h1v1h-1zM69 170h1v1h-1zM73 170h1v1h-1zM75 169h1v1h-1zM77 167h1v1h-1zM79 135h1v1h-1zM79 164h1v1h-1zM82 147h1v2h-1zM82 151h1v2h-1z"/>
<path fill="#c58b84" d="M60 147h1v2h-1zM60 151h1v2h-1zM63 135h1v1h-1zM65 132h1v1h-1zM65 167h1v1h-1zM66 168h1v1h-1zM67 130h1v1h-1zM69 129h1v1h-1zM73 129h1v1h-1zM75 130h1v1h-1zM76 131h1v1h-1zM76 168h1v1h-1zM77 132h1v1h-1zM81 141h1v1h-1zM81 158h1v1h-1zM82 149h1v2h-1z"/>
<path fill="#c48983" d="M60 149h1v2h-1zM61 141h1v1h-1zM61 158h1v1h-1zM66 131h1v1h-1zM70 170h3v1h-3zM80 138h1v1h-1zM80 161h1v1h-1z"/>
<path fill="#c38881" d="M62 138h1v1h-1zM62 161h1v1h-1zM64 165h1v1h-1zM68 169h1v1h-1zM70 129h3v1h-3zM74 169h1v1h-1zM78 134h1v1h-1zM78 165h1v1h-1zM79 163h1v1h-1zM81 142h1v1h-1zM81 157h1v1h-1z"/>
<path fill="#c2867f" d="M61 142h1v1h-1zM61 157h1v1h-1zM63 163h1v1h-1zM64 134h1v1h-1zM68 130h1v1h-1zM74 130h1v1h-1zM77 166h1v1h-1zM79 136h1v1h-1z"/>
<path fill="#c1847d" d="M62 160h1v1h-1zM63 136h1v1h-1zM65 166h1v1h-1zM67 168h1v1h-1zM73 169h1v1h-1zM75 168h1v1h-1zM76 167h1v1h-1zM77 133h1v1h-1zM80 139h1v1h-1zM80 160h1v1h-1zM81 143h1v1h-1zM81 156h1v1h-1z"/>
<path fill="#c0837c" d="M61 143h1v1h-1zM61 156h1v1h-1zM62 139h1v1h-1zM65 133h1v1h-1zM66 132h1v1h-1zM66 167h1v1h-1zM67 131h1v1h-1zM69 169h1v1h-1zM73 130h1v1h-1zM75 131h1v1h-1zM76 132h1v1h-1zM78 164h1v1h-1zM79 162h1v1h-1zM81 155h1v1h-1z"/>
<path fill="#bf817a" d="M61 155h1v1h-1zM63 162h1v1h-1zM64 164h1v1h-1zM69 130h1v1h-1zM70 169h3v1h-3zM78 135h1v1h-1zM79 137h1v1h-1zM80 159h1v1h-1zM81 144h1v1h-1z"/>
<path fill="#be7f78" d="M61 144h1v1h-1zM62 159h1v1h-1zM63 137h1v1h-1zM64 135h1v1h-1zM68 168h1v1h-1zM70 130h3v1h-3zM74 168h1v1h-1zM80 140h1v1h-1zM81 145h1v1h-1zM81 154h1v1h-1z"/>
<path fill="#bd7e77" d="M61 145h1v1h-1zM61 154h1v1h-1zM62 140h1v1h-1zM65 165h1v1h-1zM68 131h1v1h-1zM74 131h1v1h-1zM75 167h1v1h-1zM77 134h1v1h-1zM77 165h1v1h-1zM81 146h1v1h-1zM81 153h1v1h-1z"/>
<path fill="#bc7c75" d="M61 146h1v1h-1zM61 152h1v2h-1zM62 158h1v1h-1zM63 161h1v1h-1zM65 134h1v1h-1zM66 166h1v1h-1zM67 167h1v1h-1zM73 168h1v1h-1zM75 132h1v1h-1zM76 133h1v1h-1zM76 166h1v1h-1zM78 163h1v1h-1zM79 138h1v1h-1zM79 161h1v1h-1zM80 141h1v1h-1zM80 158h1v1h-1zM81 147h1v6h-1z"/>
<path fill="#bb7a73" d="M61 147h1v5h-1zM62 141h1v1h-1zM63 138h1v1h-1zM64 136h1v1h-1zM64 163h1v1h-1zM66 133h1v1h-1zM67 132h1v1h-1zM69 131h1v1h-1zM69 168h1v1h-1zM73 131h1v1h-1zM78 136h1v1h-1z"/>
<path fill="#ba7972" d="M70 168h3v1h-3zM80 142h1v1h-1zM80 157h1v1h-1z"/>
<path fill="#b97770" d="M62 142h1v1h-1zM62 157h1v1h-1zM63 160h1v1h-1zM65 164h1v1h-1zM68 167h1v1h-1zM70 131h3v1h-3zM74 167h1v1h-1zM77 135h1v1h-1zM77 164h1v1h-1zM79 139h1v1h-1zM79 160h1v1h-1z"/>
<path fill="#b8756e" d="M63 139h1v1h-1zM64 162h1v1h-1zM65 135h1v1h-1zM66 165h1v1h-1zM67 166h1v1h-1zM68 132h1v1h-1zM74 132h1v1h-1zM75 166h1v1h-1zM76 165h1v1h-1zM78 137h1v1h-1zM78 162h1v1h-1zM80 143h1v1h-1zM80 156h1v1h-1z"/>
<path fill="#b7746d" d="M62 143h1v1h-1zM62 156h1v1h-1zM64 137h1v1h-1zM66 134h1v1h-1zM67 133h1v1h-1zM69 167h1v1h-1zM73 167h1v1h-1zM75 133h1v1h-1zM76 134h1v1h-1zM79 159h1v1h-1zM80 155h1v1h-1z"/>
<path fill="#b6726b" d="M62 144h1v1h-1zM62 155h1v1h-1zM63 159h1v1h-1zM69 132h1v1h-1zM73 132h1v1h-1zM77 163h1v1h-1zM79 140h1v1h-1zM80 144h1v1h-1z"/>
<path fill="#b57069" d="M63 140h1v1h-1zM64 161h1v1h-1zM65 163h1v1h-1zM70 167h3v1h-3zM74 166h1v1h-1zM77 136h1v1h-1zM78 138h1v1h-1zM78 161h1v1h-1zM80 145h1v1h-1zM80 154h1v1h-1z"/>
<path fill="#b46f68" d="M62 145h1v1h-1zM62 154h1v1h-1zM64 138h1v1h-1zM65 136h1v1h-1zM66 164h1v1h-1zM68 133h1v1h-1zM68 166h1v1h-1zM70 132h3v1h-3zM74 133h1v1h-1zM75 165h1v1h-1zM76 164h1v1h-1zM79 141h1v1h-1zM79 158h1v1h-1zM80 146h1v1h-1zM80 153h1v1h-1z"/>
<path fill="#b36d66" d="M62 146h1v1h-1zM62 153h1v1h-1zM63 141h1v1h-1zM63 158h1v1h-1zM66 135h1v1h-1zM67 134h1v1h-1zM67 165h1v1h-1zM75 134h1v1h-1zM76 135h1v1h-1zM80 147h1v2h-1zM80 151h1v2h-1z"/>
<path fill="#b26c64" d="M62 147h1v6h-1zM65 162h1v1h-1zM69 166h1v1h-1zM73 166h1v1h-1zM77 162h1v1h-1zM78 139h1v1h-1zM78 160h1v1h-1zM79 142h1v1h-1zM79 157h1v1h-1zM80 149h1v2h-1z"/>
<path fill="#b16a63" d="M63 142h1v1h-1zM63 157h1v1h-1zM64 139h1v1h-1zM64 160h1v1h-1zM65 137h1v1h-1zM69 133h1v1h-1zM70 166h1v1h-1zM72 166h1v1h-1zM73 133h1v1h-1zM77 137h1v1h-1z"/>
<path fill="#b06861" d="M66 163h1v1h-1zM68 165h1v1h-1zM70 133h1v1h-1zM71 166h1v1h-1zM72 133h1v1h-1zM74 134h1v1h-1zM74 165h1v1h-1zM75 164h1v1h-1zM76 136h1v1h-1zM76 163h1v1h-1zM79 143h1v1h-1zM79 156h1v1h-1z"/>
<path fill="#af675f" d="M63 143h1v1h-1zM63 156h1v1h-1zM64 159h1v1h-1zM66 136h1v1h-1zM67 135h1v1h-1zM67 164h1v1h-1zM68 134h1v1h-1zM71 133h1v1h-1zM75 135h1v1h-1zM77 161h1v1h-1zM78 140h1v1h-1zM78 159h1v1h-1z"/>
<path fill="#ae655e" d="M63 155h1v1h-1zM64 140h1v1h-1zM65 138h1v1h-1zM65 161h1v1h-1zM69 165h1v1h-1zM73 165h1v1h-1zM77 138h1v1h-1zM79 144h1v1h-1zM79 155h1v1h-1z"/>
<path fill="#ac635c" d="M63 144h1v1h-1zM69 134h1v1h-1zM73 134h1v1h-1zM76 162h1v1h-1zM78 158h1v1h-1zM79 145h1v1h-1zM79 154h1v1h-1z"/>
<path fill="#ab625b" d="M63 145h1v1h-1zM63 154h1v1h-1zM64 141h1v1h-1zM64 158h1v1h-1zM66 162h1v1h-1zM68 164h1v1h-1zM70 165h3v1h-3zM74 164h1v1h-1zM75 163h1v1h-1zM76 137h1v1h-1zM77 160h1v1h-1zM78 141h1v1h-1zM79 146h1v1h-1zM79 153h1v1h-1z"/>
<path fill="#aa6059" d="M63 146h1v1h-1zM63 153h1v1h-1zM65 139h1v1h-1zM65 160h1v1h-1zM66 137h1v1h-1zM67 136h1v1h-1zM67 163h1v1h-1zM68 135h1v1h-1zM70 134h3v1h-3zM74 135h1v1h-1zM75 136h1v1h-1zM77 139h1v1h-1zM78 157h1v1h-1zM79 147h1v1h-1zM79 152h1v1h-1z"/>
<path fill="#a95e57" d="M63 147h1v1h-1zM63 151h1v2h-1zM64 157h1v1h-1zM73 164h1v1h-1zM78 142h1v1h-1zM79 148h1v4h-1z"/>
<path fill="#a85d56" d="M63 148h1v3h-1zM64 142h1v1h-1zM66 161h1v1h-1zM69 135h1v1h-1zM69 164h1v1h-1zM73 135h1v1h-1zM76 138h1v1h-1zM76 161h1v1h-1zM77 159h1v1h-1zM78 156h1v1h-1z"/>
<path fill="#a75b54" d="M64 143h1v1h-1zM64 156h1v1h-1zM65 140h1v1h-1zM65 159h1v1h-1zM66 138h1v1h-1zM67 162h1v1h-1zM68 163h1v1h-1zM70 164h3v1h-3zM74 136h1v1h-1zM74 163h1v1h-1zM75 162h1v1h-1zM77 140h1v1h-1zM78 143h1v1h-1z"/>
<path fill="#a65953" d="M67 137h1v1h-1zM68 136h1v1h-1zM70 135h3v1h-3zM75 137h1v1h-1zM78 144h1v1h-1zM78 155h1v1h-1z"/>
<path fill="#a55851" d="M64 144h1v1h-1zM64 155h1v1h-1zM65 158h1v1h-1zM66 160h1v1h-1zM73 163h1v1h-1zM76 139h1v1h-1zM76 160h1v1h-1zM77 141h1v1h-1zM77 158h1v1h-1z"/>
<path fill="#a4564f" d="M64 154h1v1h-1zM65 141h1v1h-1zM66 139h1v1h-1zM69 136h1v1h-1zM69 163h1v1h-1zM73 136h1v1h-1zM74 162h1v1h-1zM75 161h1v1h-1zM78 145h1v1h-1zM78 154h1v1h-1z"/>
<path fill="#a3544e" d="M64 145h1v1h-1zM64 153h1v1h-1zM67 138h1v1h-1zM67 161h1v1h-1zM68 137h1v1h-1zM68 162h1v1h-1zM70 163h3v1h-3zM74 137h1v1h-1zM75 138h1v1h-1zM77 142h1v1h-1zM77 157h1v1h-1zM78 146h1v1h-1zM78 153h1v1h-1z"/>
<path fill="#a2534c" d="M64 146h1v1h-1zM64 152h1v1h-1zM65 142h1v1h-1zM65 157h1v1h-1zM66 159h1v1h-1zM70 136h3v1h-3zM76 140h1v1h-1zM76 159h1v1h-1zM78 147h1v2h-1zM78 151h1v2h-1z"/>
<path fill="#a1514b" d="M64 147h1v5h-1zM66 140h1v1h-1zM69 162h1v1h-1zM73 162h1v1h-1zM75 160h1v1h-1zM77 143h1v1h-1zM77 156h1v1h-1zM78 149h1v2h-1z"/>
<path fill="#a05049" d="M65 143h1v1h-1zM65 156h1v1h-1zM67 139h1v1h-1zM67 160h1v1h-1zM68 161h1v1h-1zM69 137h1v1h-1zM73 137h1v1h-1zM74 161h1v1h-1zM75 139h1v1h-1zM76 158h1v1h-1z"/>
<path fill="#9e4e48" d="M65 155h1v1h-1zM66 141h1v1h-1zM66 158h1v1h-1zM68 138h1v1h-1zM70 137h1v1h-1zM70 162h3v1h-3zM72 137h1v1h-1zM74 138h1v1h-1zM76 141h1v1h-1zM77 144h1v1h-1zM77 155h1v1h-1z"/>
<path fill="#9d4c46" d="M65 144h1v1h-1zM71 137h1v1h-1zM75 159h1v1h-1zM77 154h1v1h-1z"/>
<path fill="#9c4b45" d="M65 145h1v1h-1zM65 154h1v1h-1zM66 157h1v1h-1zM67 140h1v1h-1zM67 159h1v1h-1zM68 160h1v1h-1zM69 138h1v1h-1zM69 161h1v1h-1zM73 138h1v1h-1zM73 161h1v1h-1zM74 160h1v1h-1zM75 140h1v1h-1zM76 142h1v1h-1zM76 157h1v1h-1zM77 145h1v1h-1zM77 153h1v1h-1z"/>
<path fill="#9b4943" d="M65 146h1v1h-1zM65 153h1v1h-1zM66 142h1v1h-1zM68 139h1v1h-1zM70 161h1v1h-1zM72 161h1v1h-1zM74 139h1v1h-1zM77 146h1v1h-1zM77 152h1v1h-1z"/>
<path fill="#9a4741" d="M65 147h1v1h-1zM65 152h1v1h-1zM66 156h1v1h-1zM67 158h1v1h-1zM70 138h3v1h-3zM71 161h1v1h-1zM75 158h1v1h-1zM76 143h1v1h-1zM76 156h1v1h-1zM77 147h1v5h-1z"/>
<path fill="#994640" d="M65 148h1v4h-1zM66 143h1v1h-1zM67 141h1v1h-1zM68 159h1v1h-1zM69 160h1v1h-1zM73 139h1v1h-1zM73 160h1v1h-1zM74 159h1v1h-1zM75 141h1v1h-1z"/>
<path fill="#98443e" d="M66 144h1v1h-1zM66 155h1v1h-1zM68 140h1v1h-1zM69 139h1v1h-1zM72 160h1v1h-1zM74 140h1v1h-1zM75 157h1v1h-1zM76 144h1v1h-1zM76 155h1v1h-1z"/>
<path fill="#97423d" d="M67 142h1v1h-1zM67 157h1v1h-1zM70 139h1v1h-1zM70 160h2v1h-2zM72 139h1v1h-1zM75 142h1v1h-1zM76 145h1v1h-1zM76 154h1v1h-1z"/>
<path fill="#96413b" d="M66 145h1v1h-1zM66 154h1v1h-1zM68 158h1v1h-1zM69 159h1v1h-1zM71 139h1v1h-1zM73 140h1v1h-1zM73 159h1v1h-1zM74 141h1v1h-1zM74 158h1v1h-1zM76 153h1v1h-1z"/>
<path fill="#943f3a" d="M66 146h1v1h-1zM66 153h1v1h-1zM67 143h1v1h-1zM67 156h1v1h-1zM68 141h1v1h-1zM69 140h1v1h-1zM72 159h1v1h-1zM75 143h1v1h-1zM75 156h1v1h-1zM76 146h1v2h-1zM76 152h1v1h-1z"/>
<path fill="#933d38" d="M66 147h1v2h-1zM66 151h1v2h-1zM70 140h1v1h-1zM70 159h2v1h-2zM72 140h1v1h-1zM73 158h1v1h-1zM74 157h1v1h-1zM75 155h1v1h-1zM76 148h1v4h-1z"/>
<path fill="#923b37" d="M66 149h1v2h-1zM67 144h1v1h-1zM67 155h1v1h-1zM68 142h1v1h-1zM68 157h1v1h-1zM69 141h1v1h-1zM69 158h1v1h-1zM71 140h1v1h-1zM73 141h1v1h-1zM74 142h1v1h-1zM75 144h1v1h-1z"/>
<path fill="#913a35" d="M67 154h1v1h-1zM70 158h1v1h-1zM72 158h1v1h-1zM74 156h1v1h-1zM75 145h1v1h-1zM75 154h1v1h-1z"/>
<path fill="#903834" d="M67 145h1v1h-1zM68 143h1v1h-1zM68 156h1v1h-1zM69 157h1v1h-1zM70 141h3v1h-3zM71 158h1v1h-1zM73 142h1v1h-1zM73 157h1v1h-1zM74 143h1v1h-1zM75 146h1v1h-1zM75 153h1v1h-1z"/>
<path fill="#8f3632" d="M67 146h1v1h-1zM67 153h1v1h-1zM68 155h1v1h-1zM69 142h1v1h-1zM74 144h1v1h-1zM74 155h1v1h-1zM75 147h1v1h-1zM75 152h1v1h-1z"/>
<path fill="#8e3531" d="M67 147h1v2h-1zM67 150h1v3h-1zM68 144h1v1h-1zM69 156h1v1h-1zM70 142h1v1h-1zM70 157h3v1h-3zM72 142h1v1h-1zM73 143h1v1h-1zM73 156h1v1h-1zM75 148h1v4h-1z"/>
<path fill="#8c3330" d="M67 149h1v1h-1zM68 145h1v1h-1zM68 154h1v1h-1zM69 143h1v1h-1zM71 142h1v1h-1zM74 145h1v1h-1zM74 154h1v1h-1z"/>
<path fill="#8b312e" d="M68 146h1v1h-1zM68 153h1v1h-1zM69 144h1v1h-1zM69 155h1v1h-1zM70 143h1v1h-1zM70 156h3v1h-3zM72 143h1v1h-1zM73 144h1v1h-1zM73 155h1v1h-1zM74 146h1v1h-1zM74 153h1v1h-1z"/>
<path fill="#8a2f2d" d="M68 147h1v1h-1zM68 152h1v1h-1zM71 143h1v1h-1zM73 154h1v1h-1zM74 147h1v1h-1zM74 152h1v1h-1z"/>
<path fill="#892d2b" d="M68 148h1v4h-1zM69 145h1v1h-1zM69 154h1v1h-1zM70 144h1v1h-1zM70 155h3v1h-3zM72 144h1v1h-1zM73 145h1v1h-1zM74 148h1v4h-1z"/>
<path fill="#882c2a" d="M69 146h1v1h-1zM69 153h1v1h-1zM70 154h1v1h-1zM71 144h1v1h-1zM72 145h1v1h-1zM72 154h1v1h-1zM73 146h1v1h-1zM73 153h1v1h-1z"/>
<path fill="#872a28" d="M69 147h1v1h-1zM69 152h1v1h-1zM70 145h2v1h-2zM71 154h1v1h-1zM72 153h1v1h-1zM73 147h1v2h-1zM73 151h1v2h-1z"/>
<path fill="#852827" d="M69 148h1v4h-1zM70 152h1v1h-1zM70 153h2v1h-2zM70 146h3v1h-3zM72 152h1v1h-1zM73 149h1v2h-1z"/>
<path fill="#842625" d="M70 148h1v1h-1zM70 150h1v2h-1zM70 147h3v1h-3zM71 152h1v1h-1zM72 148h1v4h-1z"/>
<path fill="#832424" d="M70 149h2v1h-2zM71 148h1v1h-1zM71 150h1v2h-1z"/>
</g>
<path d="M1571.7 1775.8L1571.7 1774.5L1571.7 1773.2L1571.7 1770.6L1571.7 1769.3L1571.7 1768.0L1571.7 1765.4L1571.7 1764.1L1571.7 1762.8L1571.7 1760.2L1570.4 1758.9L1570.4 1757.6L1570.4 1756.3L1570.4 1753.7L1570.4 1752.4L1569.1 1751.1L1569.1 1748.5L1569.1 1747.2L1569.1 1745.9L1567.8 1744.6L1567.8 1742.0L1567.8 1740.7L1566.5 1739.4L1566.5 1736.8L1566.5 1735.5L1565.2 1734.2L1565.2 1732.9L1563.9 1730.3L1563.9 1729.0L1562.6 1727.7L1562.6 1726.4L1562.6 1723.8L1561.3 1722.5L1561.3 1721.2L1560.0 1719.9L1558.7 1717.3L1558.7 1716.0L1557.4 1714.7L1557.4 1713.4L1556.1 1710.8L1556.1 1709.5L1554.8 1708.2L1553.5 1706.9L1553.5 1704.3L1552.2 1703.0L1550.9 1701.7L1550.9 1700.4L1549.6 1699.1L1548.3 1696.5L1547.0 1695.2L1547.0 1693.9L1545.7 1692.6L1544.4 1691.3L1543.1 1690.0L1541.8 1687.4L1541.8 1686.1L1540.5 1684.8L1539.2 1683.5L1537.9 1682.2L1536.6 1680.9L1535.3 1679.6L1534.0 1677.0L1532.7 1675.7L1531.4 1674.4L1530.1 1673.1L1528.8 1671.8L1528.8 1670.5L1527.5 1669.2L1524.9 1667.9L1523.6 1666.6L1522.3 1665.3L1521.0 1662.7L1519.7 1661.4L1518.4 1660.1L1517.1 1658.8L1515.8 1657.5L1514.5 1656.2L1513.2 1654.9L1511.9 1653.6L1510.6 1652.3L1508.0 1651.0L1506.7 1649.7L1505.4 1648.4L1504.1 1647.1L1502.8 1645.8L1500.2 1644.5L1498.9 1643.2L1497.6 1641.9L1496.3 1640.6L1493.7 1639.3L1492.4 1639.3L1491.1 1638.0L1489.8 1636.7L1487.2 1635.4L1485.9 1634.1L1484.6 1632.8L1482.0 1631.5L1480.7 1630.2L1479.4 1628.9L1476.8 1628.9L1475.5 1627.6L1472.9 1626.3L1471.6 1625.0L1470.3 1623.7L1467.7 1622.4L1466.4 1622.4L1463.8 1621.1L1462.5 1619.8L1461.2 1618.5L1458.6 1617.2L1457.3 1617.2L1454.7 1615.9L1453.4 1614.6L1450.8 1613.3L1449.5 1612.0L1446.9 1612.0L1445.6 1610.7L1443.0 1609.4L1441.7 1608.1L1439.1 1608.1L1437.8 1606.8L1435.2 1605.5L1433.9 1605.5L1431.3 1604.2L1428.7 1602.9L1427.4 1602.9L1424.8 1601.6L1423.5 1600.3L1420.9 1600.3L1418.3 1599.0L1417.0 1597.7L1414.4 1597.7L1413.1 1596.4L1410.5 1596.4L1407.9 1595.1L1406.6 1593.8L1404.0 1593.8L1401.4 1592.5L1400.1 1592.5L1397.5 1591.2L1394.9 1591.2L1392.3 1589.9L1391.0 1589.9L1388.4 1588.6L1385.8 1588.6L1384.5 1587.3L1381.9 1587.3L1379.3 1587.3L1376.7 1586.0L1375.4 1586.0L1372.8 1584.7L1370.2 1584.7L1367.6 1584.7L1366.3 1583.4L1363.7 1583.4L1361.1 1583.4L1358.5 1582.1L1355.9 1582.1L1354.6 1582.1L1352.0 1580.8L1349.4 1580.8L1346.8 1580.8L1344.2 1580.8L1341.6 1579.5L1340.3 1579.5L1337.7 1579.5L1335.1 1579.5L1332.5 1579.5L1329.9 1578.2L1327.3 1578.2L1326.0 1578.2L1323.4 1578.2L1320.8 1578.2L1318.2 1578.2L1315.6 1578.2L1313.0 1578.2L1310.4 1578.2L1309.1 1576.9L1306.5 1576.9L1303.9 1576.9L1301.3 1576.9L1298.7 1576.9L1296.1 1576.9L1293.5 1576.9L1292.2 1578.2L1289.6 1578.2L1287.0 1578.2L1284.4 1578.2L1281.8 1578.2L1279.2 1578.2L1277.9 1578.2L1275.3 1578.2L1272.7 1578.2L1270.1 1579.5L1267.5 1579.5L1264.9 1579.5L1262.3 1579.5L1261.0 1579.5L1258.4 1580.8L1255.8 1580.8L1253.2 1580.8L1250.6 1580.8L1249.3 1582.1L1246.7 1582.1L1244.1 1582.1L1241.5 1583.4L1238.9 1583.4L1237.6 1583.4L1235.0 1584.7L1232.4 1584.7L1229.8 1584.7L1227.2 1586.0L1225.9 1586.0L1223.3 1587.3L1220.7 1587.3L1219.4 1587.3L1216.8 1588.6L1214.2 1588.6L1211.6 1589.9L1210.3 1589.9L1207.7 1591.2L1205.1 1591.2L1203.8 1592.5L1201.2 1592.5L1198.6 1593.8L1196.0 1593.8L1194.7 1595.1L1192.1 1596.4L1190.8 1596.4L1188.2 1597.7L1185.6 1597.7L1184.3 1599.0L1181.7 1600.3L1179.1 1600.3L1177.8 1601.6L1175.2 1602.9L1173.9 1602.9L1171.3 1604.2L1168.7 1605.5L1167.4 1605.5L1164.8 1606.8L1163.5 1608.1L1160.9 1608.1L1159.6 1609.4L1157.0 1610.7L1155.7 1612.0L1153.1 1612.0L1151.8 1613.3L1149.2 1614.6L1147.9 1615.9L1145.3 1617.2L1144.0 1617.2L1142.7 1618.5L1140.1 1619.8L1138.8 1621.1L1136.2 1622.4L1134.9 1622.4L1132.3 1623.7L1131.0 1625.0L1129.7 1626.3L1127.1 1627.6L1125.8 1628.9L1123.2 1628.9L1121.9 1630.2L1120.6 1631.5L1118.0 1632.8L1116.7 1634.1L1115.4 1635.4L1112.8 1636.7L1111.5 1638.0L1110.2 1639.3L1108.9 1639.3L1106.3 1640.6L1105.0 1641.9L1103.7 1643.2L1102.4 1644.5L1099.8 1645.8L1098.5 1647.1L1097.2 1648.4L1095.9 1649.7L1094.6 1651.0L1093.3 1652.3L1090.7 1653.6L1089.4 1654.9L1088.1 1656.2L1086.8 1657.5L1085.5 1658.8L1084.2 1660.1L1082.9 1661.4L1081.6 1662.7L1080.3 1665.3L1079.0 1666.6L1077.7 1667.9L1076.4 1669.2L1075.1 1670.5L1073.8 1671.8L1072.5 1673.1L1071.2 1674.4L1069.9 1675.7L1068.6 1677.0L1067.3 1679.6L1066.0 1680.9L1064.7 1682.2L1063.4 1683.5L1062.1 1684.8L1062.1 1686.1L1060.8 1687.4L1059.5 1690.0L1058.2 1691.3L1056.9 1692.6L1056.9 1693.9L1055.6 1695.2L1054.3 1696.5L1053.0 1699.1L1053.0 1700.4L1051.7 1701.7L1050.4 1703.0L1049.1 1704.3L1049.1 1706.9L1047.8 1708.2L1047.8 1709.5L1046.5 1710.8L1045.2 1713.4L1045.2 1714.7L1043.9 1716.0L1043.9 1717.3L1042.6 1719.9L1042.6 1721.2L1041.3 1722.5L1041.3 1723.8L1040.0 1726.4L1040.0 1727.7L1038.7 1729.0L1038.7 1730.3L1037.4 1732.9L1037.4 1734.2L1037.4 1735.5L1036.1 1736.8L1036.1 1739.4L1034.8 1740.7L1034.8 1742.0L1034.8 1744.6L1034.8 1745.9L1033.5 1747.2L1033.5 1748.5L1033.5 1751.1L1032.2 1752.4L1032.2 1753.7L1032.2 1756.3L1032.2 1757.6L1032.2 1758.9L1032.2 1760.2L1030.9 1762.8L1030.9 1764.1L1030.9 1765.4L1030.9 1768.0L1030.9 1769.3L1030.9 1770.6L1030.9 1773.2L1030.9 1774.5L1030.9 1775.8L1030.9 1778.4L1030.9 1779.7L1030.9 1781.0L1030.9 1782.3L1030.9 1784.9L1030.9 1786.2L1030.9 1787.5L1030.9 1790.1L1032.2 1791.4L1032.2 1792.7L1032.2 1795.3L1032.2 1796.6L1032.2 1797.9L1032.2 1799.2L1033.5 1801.8L1033.5 1803.1L1033.5 1804.4L1034.8 1807.0L1034.8 1808.3L1034.8 1809.6L1034.8 1810.9L1036.1 1813.5L1036.1 1814.8L1037.4 1816.1L1037.4 1818.7L1037.4 1820.0L1038.7 1821.3L1038.7 1822.6L1040.0 1825.2L1040.0 1826.5L1041.3 1827.8L1041.3 1829.1L1042.6 1831.7L1042.6 1833.0L1043.9 1834.3L1043.9 1835.6L1045.2 1838.2L1045.2 1839.5L1046.5 1840.8L1047.8 1842.1L1047.8 1844.7L1049.1 1846.0L1049.1 1847.3L1050.4 1848.6L1051.7 1849.9L1053.0 1852.5L1053.0 1853.8L1054.3 1855.1L1055.6 1856.4L1056.9 1857.7L1056.9 1860.3L1058.2 1861.6L1059.5 1862.9L1060.8 1864.2L1062.1 1865.5L1062.1 1866.8L1063.4 1869.4L1064.7 1870.7L1066.0 1872.0L1067.3 1873.3L1068.6 1874.6L1069.9 1875.9L1071.2 1877.2L1072.5 1878.5L1073.8 1881.1L1075.1 1882.4L1076.4 1883.7L1077.7 1885.0L1079.0 1886.3L1080.3 1887.6L1081.6 1888.9L1082.9 1890.2L1084.2 1891.5L1085.5 1892.8L1086.8 1894.1L1088.1 1895.4L1089.4 1896.7L1090.7 1898.0L1093.3 1899.3L1094.6 1900.6L1095.9 1901.9L1097.2 1903.2L1098.5 1904.5L1099.8 1905.8L1102.4 1907.1L1103.7 1908.4L1105.0 1909.7L1106.3 1911.0L1108.9 1912.3L1110.2 1913.6L1111.5 1914.9L1112.8 1916.2L1115.4 1917.5L1116.7 1918.8L1118.0 1918.8L1120.6 1920.1L1121.9 1921.4L1123.2 1922.7L1125.8 1924.0L1127.1 1925.3L1129.7 1926.6L1131.0 1926.6L1132.3 1927.9L1134.9 1929.2L1136.2 1930.5L1138.8 1931.8L1140.1 1933.1L1142.7 1933.1L1144.0 1934.4L1145.3 1935.7L1147.9 1937.0L1149.2 1938.3L1151.8 1938.3L1153.1 1939.6L1155.7 1940.9L1157.0 1942.2L1159.6 1942.2L1160.9 1943.5L1163.5 1944.8L1164.8 1944.8L1167.4 1946.1L1168.7 1947.4L1171.3 1948.7L1173.9 1948.7L1175.2 1950.0L1177.8 1951.3L1179.1 1951.3L1181.7 1952.6L1184.3 1952.6L1185.6 1953.9L1188.2 1955.2L1190.8 1955.2L1192.1 1956.5L1194.7 1956.5L1196.0 1957.8L1198.6 1959.1L1201.2 1959.1L1203.8 1960.4L1205.1 1960.4L1207.7 1961.7L1210.3 1961.7L1211.6 1963.0L1214.2 1963.0L1216.8 1964.3L1219.4 1964.3L1220.7 1964.3L1223.3 1965.6L1225.9 1965.6L1227.2 1966.9L1229.8 1966.9L1232.4 1966.9L1235.0 1968.2L1237.6 1968.2L1238.9 1969.5L1241.5 1969.5L1244.1 1969.5L1246.7 1970.8L1249.3 1970.8L1250.6 1970.8L1253.2 1970.8L1255.8 1972.1L1258.4 1972.1L1261.0 1972.1L1262.3 1972.1L1264.9 1973.4L1267.5 1973.4L1270.1 1973.4L1272.7 1973.4L1275.3 1973.4L1277.9 1973.4L1279.2 1973.4L1281.8 1974.7L1284.4 1974.7L1287.0 1974.7L1289.6 1974.7L1292.2 1974.7L1293.5 1974.7L1296.1 1974.7L1298.7 1974.7L1301.3 1974.7L1303.9 1974.7L1306.5 1974.7L1309.1 1974.7L1310.4 1974.7L1313.0 1974.7L1315.6 1974.7L1318.2 1974.7L1320.8 1974.7L1323.4 1973.4L1326.0 1973.4L1327.3 1973.4L1329.9 1973.4L1332.5 1973.4L1335.1 1973.4L1337.7 1973.4L1340.3 1972.1L1341.6 1972.1L1344.2 1972.1L1346.8 1972.1L1349.4 1970.8L1352.0 1970.8L1354.6 1970.8L1355.9 1970.8L1358.5 1969.5L1361.1 1969.5L1363.7 1969.5L1366.3 1968.2L1367.6 1968.2L1370.2 1966.9L1372.8 1966.9L1375.4 1966.9L1376.7 1965.6L1379.3 1965.6L1381.9 1964.3L1384.5 1964.3L1385.8 1964.3L1388.4 1963.0L1391.0 1963.0L1392.3 1961.7L1394.9 1961.7L1397.5 1960.4L1400.1 1960.4L1401.4 1959.1L1404.0 1959.1L1406.6 1957.8L1407.9 1956.5L1410.5 1956.5L1413.1 1955.2L1414.4 1955.2L1417.0 1953.9L1418.3 1952.6L1420.9 1952.6L1423.5 1951.3L1424.8 1951.3L1427.4 1950.0L1428.7 1948.7L1431.3 1948.7L1433.9 1947.4L1435.2 1946.1L1437.8 1944.8L1439.1 1944.8L1441.7 1943.5L1443.0 1942.2L1445.6 1942.2L1446.9 1940.9L1449.5 1939.6L1450.8 1938.3L1453.4 1938.3L1454.7 1937.0L1457.3 1935.7L1458.6 1934.4L1461.2 1933.1L1462.5 1933.1L1463.8 1931.8L1466.4 1930.5L1467.7 1929.2L1470.3 1927.9L1471.6 1926.6L1472.9 1926.6L1475.5 1925.3L1476.8 1924.0L1479.4 1922.7L1480.7 1921.4L1482.0 1920.1L1484.6 1918.8L1485.9 1918.8L1487.2 1917.5L1489.8 1916.2L1491.1 1914.9L1492.4 1913.6L1493.7 1912.3L1496.3 1911.0L1497.6 1909.7L1498.9 1908.4L1500.2 1907.1L1502.8 1905.8L1504.1 1904.5L1505.4 1903.2L1506.7 1901.9L1508.0 1900.6L1510.6 1899.3L1511.9 1898.0L1513.2 1896.7L1514.5 1895.4L1515.8 1894.1L1517.1 1892.8L1518.4 1891.5L1519.7 1890.2L1521.0 1888.9L1522.3 1887.6L1523.6 1886.3L1524.9 1885.0L1527.5 1883.7L1528.8 1882.4L1528.8 1881.1L1530.1 1878.5L1531.4 1877.2L1532.7 1875.9L1534.0 1874.6L1535.3 1873.3L1536.6 1872.0L1537.9 1870.7L1539.2 1869.4L1540.5 1866.8L1541.8 1865.5L1541.8 1864.2L1543.1 1862.9L1544.4 1861.6L1545.7 1860.3L1547.0 1857.7L1547.0 1856.4L1548.3 1855.1L1549.6 1853.8L1550.9 1852.5L1550.9 1849.9L1552.2 1848.6L1553.5 1847.3L1553.5 1846.0L1554.8 1844.7L1556.1 1842.1L1556.1 1840.8L1557.4 1839.5L1557.4 1838.2L1558.7 1835.6L1558.7 1834.3L1560.0 1833.0L1561.3 1831.7L1561.3 1829.1L1562.6 1827.8L1562.6 1826.5L1562.6 1825.2L1563.9 1822.6L1563.9 1821.3L1565.2 1820.0L1565.2 1818.7L1566.5 1816.1L1566.5 1814.8L1566.5 1813.5L1567.8 1810.9L1567.8 1809.6L1567.8 1808.3L1569.1 1807.0L1569.1 1804.4L1569.1 1803.1L1569.1 1801.8L1570.4 1799.2L1570.4 1797.9L1570.4 1796.6L1570.4 1795.3L1570.4 1792.7L1571.7 1791.4L1571.7 1790.1L1571.7 1787.5L1571.7 1786.2L1571.7 1784.9L1571.7 1782.3L1571.7 1781.0L1571.7 1779.7L1571.7 1778.4Z" fill="none" stroke="#000" stroke-width="3.2" stroke-linejoin="round"/>
<rect x="341.6" y="1013.5" width="1382.8" height="1056.3" fill="none" stroke="#6e6e6e" stroke-width="3.6" stroke-linejoin="round"/>
<path d="M410.4 2070.8v9.5M824.8 2070.8v9.5M1239.2 2070.8v9.5M1653.6 2070.8v9.5M341.6 2017.1h-9.5M341.6 1778.9h-9.5M341.6 1540.8h-9.5M341.6 1302.7h-9.5M341.6 1064.5h-9.5" stroke="#5a5a5a" stroke-width="3.2" fill="none"/>
<g font-family='"Liberation Sans", sans-serif' font-size="27" fill="#4d4d4d">
<text x="410.4" y="2108.5" text-anchor="middle">0</text>
<text x="824.8" y="2108.5" text-anchor="middle">10</text>
<text x="1239.2" y="2108.5" text-anchor="middle">20</text>
<text x="1653.6" y="2108.5" text-anchor="middle">30</text>
<text x="322.5" y="2030" text-anchor="end">0</text>
<text x="322.5" y="1791.8" text-anchor="end">50</text>
<text x="322.5" y="1553.7" text-anchor="end">100</text>
<text x="322.5" y="1315.5" text-anchor="end">150</text>
<text x="322.5" y="1077.4" text-anchor="end">200</text>
</g>
<g font-family='"Liberation Sans", sans-serif' font-size="34" fill="#1a1a1a">
<text x="1031.8" y="2150" text-anchor="middle" textLength="119.5" lengthAdjust="spacingAndGlyphs">sst (°C)</text>
<text transform="translate(256.8 1538.7) rotate(-90)" text-anchor="middle">depth (m)</text>
</g>
<defs><linearGradient id="lg" x1="0" y1="1" x2="0" y2="0">
<stop offset="0.000" stop-color="#3a3a98"/>
<stop offset="0.025" stop-color="#46439d"/>
<stop offset="0.050" stop-color="#524ba2"/>
<stop offset="0.075" stop-color="#5c54a8"/>
<stop offset="0.100" stop-color="#675dad"/>
<stop offset="0.125" stop-color="#7167b2"/>
<stop offset="0.150" stop-color="#7a70b7"/>
<stop offset="0.175" stop-color="#847abc"/>
<stop offset="0.200" stop-color="#8e83c1"/>
<stop offset="0.225" stop-color="#978dc7"/>
<stop offset="0.250" stop-color="#a197cc"/>
<stop offset="0.275" stop-color="#aaa1d1"/>
<stop offset="0.300" stop-color="#b4abd6"/>
<stop offset="0.325" stop-color="#bdb5db"/>
<stop offset="0.350" stop-color="#c6bfe0"/>
<stop offset="0.375" stop-color="#d0cae5"/>
<stop offset="0.400" stop-color="#d9d4eb"/>
<stop offset="0.425" stop-color="#e3dff0"/>
<stop offset="0.450" stop-color="#ece9f5"/>
<stop offset="0.475" stop-color="#f6f4fa"/>
<stop offset="0.500" stop-color="#ffffff"/>
<stop offset="0.525" stop-color="#faf4f3"/>
<stop offset="0.550" stop-color="#f5e8e6"/>
<stop offset="0.575" stop-color="#f0ddda"/>
<stop offset="0.600" stop-color="#ead2ce"/>
<stop offset="0.625" stop-color="#e5c7c3"/>
<stop offset="0.650" stop-color="#dfbbb7"/>
<stop offset="0.675" stop-color="#dab0ab"/>
<stop offset="0.700" stop-color="#d4a6a0"/>
<stop offset="0.725" stop-color="#ce9b95"/>
<stop offset="0.750" stop-color="#c89089"/>
<stop offset="0.775" stop-color="#c2857e"/>
<stop offset="0.800" stop-color="#bb7b74"/>
<stop offset="0.825" stop-color="#b57069"/>
<stop offset="0.850" stop-color="#ae665e"/>
<stop offset="0.875" stop-color="#a75b54"/>
<stop offset="0.900" stop-color="#a0514a"/>
<stop offset="0.925" stop-color="#994640"/>
<stop offset="0.950" stop-color="#923b37"/>
<stop offset="0.975" stop-color="#8b302d"/>
<stop offset="1.000" stop-color="#832424"/>
</linearGradient></defs>
<rect x="1773.0" y="1435.7" width="51.6" height="260.1" fill="url(#lg)"/>
<g font-family='"Liberation Sans", sans-serif' font-size="27" fill="#4d4d4d">
<text x="1841" y="1654.8">0.05</text>
<text x="1841" y="1604.1">0.10</text>
<text x="1841" y="1553.4">0.15</text>
<text x="1841" y="1502.7">0.20</text>
<text x="1841" y="1452.0">0.25</text>
</g>
<path d="M1773.0 1645.1h10M1824.6 1645.1h-10M1773.0 1594.4h10M1824.6 1594.4h-10M1773.0 1543.7h10M1824.6 1543.7h-10M1773.0 1493.0h10M1824.6 1493.0h-10M1773.0 1442.3h10M1824.6 1442.3h-10" stroke="#fff" stroke-width="2" fill="none"/>
<text x="1773" y="1417.5" font-family='"Liberation Sans", sans-serif' font-size="32.3" fill="#1a1a1a">Probability</text>
</svg>
</body></html>
